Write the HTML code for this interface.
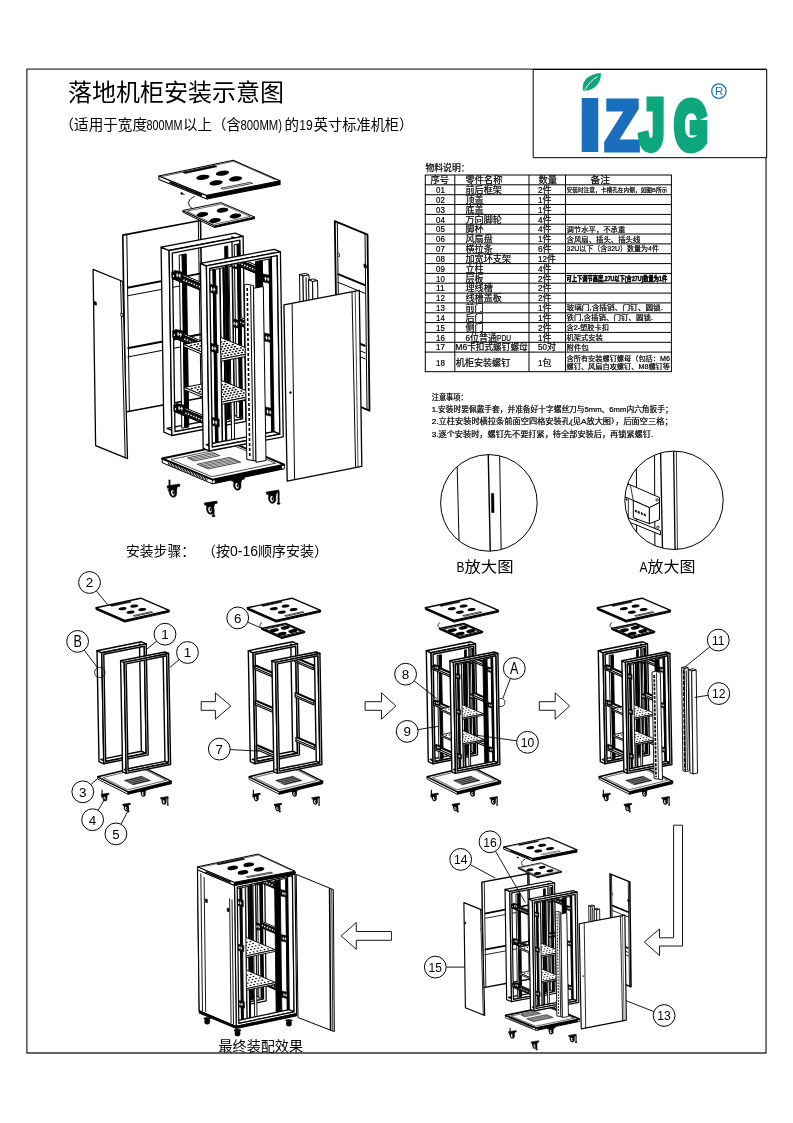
<!DOCTYPE html>
<html lang="zh-CN"><head><meta charset="utf-8"><title>落地机柜安装示意图</title>
<style>html,body{margin:0;padding:0;background:#fff}svg{display:block;will-change:transform}text{font-family:"Liberation Sans","Noto Sans CJK SC",sans-serif}</style>
</head><body>
<svg width="793" height="1123" viewBox="0 0 793 1123" stroke-linejoin="round" stroke-linecap="butt">
<rect x="26.85" y="69.2" width="739.2" height="983.8" fill="none" stroke="#333" stroke-width="1.3"/>
<text x="68" y="101" font-size="24" textLength="216" lengthAdjust="spacingAndGlyphs" fill="#000" >落地机柜安装示意图</text>
<text x="59.5" y="130.2" font-size="14.5" textLength="87.5" lengthAdjust="spacingAndGlyphs" fill="#000" >（适用于宽度</text>
<text x="146.5" y="130.2" font-size="14.5" textLength="36" lengthAdjust="spacingAndGlyphs" fill="#000" >800MM</text>
<text x="183" y="130.2" font-size="14.5" textLength="58" lengthAdjust="spacingAndGlyphs" fill="#000" >以上（含</text>
<text x="240.5" y="130.2" font-size="14.5" textLength="41.5" lengthAdjust="spacingAndGlyphs" fill="#000" >800MM)</text>
<text x="284.5" y="130.2" font-size="14.5" textLength="14.5" lengthAdjust="spacingAndGlyphs" fill="#000" >的</text>
<text x="299.3" y="130.2" font-size="14.5" textLength="13.5" lengthAdjust="spacingAndGlyphs" fill="#000" >19</text>
<text x="313.8" y="130.2" font-size="14.5" textLength="99.5" lengthAdjust="spacingAndGlyphs" fill="#000" >英寸标准机柜）</text>
<rect x="533.2" y="69.5" width="233.5" height="88.2" fill="#fff" stroke="#000" stroke-width="1"/>
<path d="M583.2,90.8 C580.5,80.5 589.5,73.6 600.9,72.9 C601.3,83.5 594,91 583.2,90.8 Z" fill="#0ea67c" stroke="none" stroke-width="1" />
<path d="M584.8,89.8 C588.5,83.5 592.5,79.5 597.5,76.5" fill="none" stroke="#fff" stroke-width="1" />
<text x="578.5" y="150.2" font-size="72" textLength="23" lengthAdjust="spacingAndGlyphs" fill="#1a6fbd" font-weight="bold" font-family="DejaVu Sans,Liberation Sans,sans-serif" stroke-linejoin="miter" stroke="#1a6fbd" stroke-width="4">I</text>
<text x="604.5" y="150" font-size="71" textLength="35" lengthAdjust="spacingAndGlyphs" fill="#1a6fbd" font-weight="bold" font-family="DejaVu Sans,Liberation Sans,sans-serif" stroke-linejoin="miter" stroke="#1a6fbd" stroke-width="5">Z</text>
<text x="639.5" y="149.4" font-size="70" textLength="25" lengthAdjust="spacingAndGlyphs" fill="#0ea67c" font-weight="bold" font-family="Liberation Sans,sans-serif" stroke-linejoin="miter" stroke="#0ea67c" stroke-width="7">J</text>
<text x="674.5" y="149" font-size="68" textLength="33" lengthAdjust="spacingAndGlyphs" fill="#0ea67c" font-weight="bold" font-family="Liberation Sans,sans-serif" stroke-linejoin="miter" stroke="#0ea67c" stroke-width="8">G</text>
<circle cx="718.9" cy="91.1" r="7.2" fill="none" stroke="#1a6fbd" stroke-width="1.3"/>
<text x="719.1" y="95.3" font-size="11.5" text-anchor="middle" fill="#1a6fbd" >R</text>
<text x="425.5" y="171" font-size="9.2" textLength="44" lengthAdjust="spacingAndGlyphs" fill="#000"  stroke="#000" stroke-width="0.22">物料说明：</text>
<line x1="424.8" y1="175" x2="671.9" y2="175" stroke="#000" stroke-width="1"/>
<line x1="424.8" y1="184.8" x2="671.9" y2="184.8" stroke="#000" stroke-width="1"/>
<line x1="424.8" y1="194.7" x2="671.9" y2="194.7" stroke="#000" stroke-width="1"/>
<line x1="424.8" y1="204.5" x2="671.9" y2="204.5" stroke="#000" stroke-width="1"/>
<line x1="424.8" y1="214.4" x2="671.9" y2="214.4" stroke="#000" stroke-width="1"/>
<line x1="424.8" y1="224.2" x2="671.9" y2="224.2" stroke="#000" stroke-width="1"/>
<line x1="424.8" y1="234" x2="671.9" y2="234" stroke="#000" stroke-width="1"/>
<line x1="424.8" y1="243.9" x2="671.9" y2="243.9" stroke="#000" stroke-width="1"/>
<line x1="424.8" y1="253.7" x2="671.9" y2="253.7" stroke="#000" stroke-width="1"/>
<line x1="424.8" y1="263.6" x2="671.9" y2="263.6" stroke="#000" stroke-width="1"/>
<line x1="424.8" y1="273.4" x2="671.9" y2="273.4" stroke="#000" stroke-width="1"/>
<line x1="424.8" y1="283.2" x2="671.9" y2="283.2" stroke="#000" stroke-width="1"/>
<line x1="424.8" y1="293.1" x2="671.9" y2="293.1" stroke="#000" stroke-width="1"/>
<line x1="424.8" y1="302.9" x2="671.9" y2="302.9" stroke="#000" stroke-width="1"/>
<line x1="424.8" y1="312.8" x2="671.9" y2="312.8" stroke="#000" stroke-width="1"/>
<line x1="424.8" y1="322.6" x2="671.9" y2="322.6" stroke="#000" stroke-width="1"/>
<line x1="424.8" y1="332.4" x2="671.9" y2="332.4" stroke="#000" stroke-width="1"/>
<line x1="424.8" y1="342.3" x2="671.9" y2="342.3" stroke="#000" stroke-width="1"/>
<line x1="424.8" y1="352.1" x2="671.9" y2="352.1" stroke="#000" stroke-width="1"/>
<line x1="424.8" y1="371.7" x2="671.9" y2="371.7" stroke="#000" stroke-width="1"/>
<line x1="425.3" y1="175" x2="425.3" y2="371.7" stroke="#000" stroke-width="1"/>
<line x1="454.8" y1="175" x2="454.8" y2="371.7" stroke="#000" stroke-width="1"/>
<line x1="529" y1="175" x2="529" y2="371.7" stroke="#000" stroke-width="1"/>
<line x1="565.5" y1="175" x2="565.5" y2="371.7" stroke="#000" stroke-width="1"/>
<line x1="671.4" y1="175" x2="671.4" y2="371.7" stroke="#000" stroke-width="1"/>
<text x="430.5" y="183.2" font-size="9.3" textLength="18.5" lengthAdjust="spacingAndGlyphs" fill="#000"  stroke="#000" stroke-width="0.22">序号</text>
<text x="465.5" y="183.2" font-size="9.3" textLength="37" lengthAdjust="spacingAndGlyphs" fill="#000"  stroke="#000" stroke-width="0.22">零件名称</text>
<text x="538.5" y="183.2" font-size="9.3" textLength="18.5" lengthAdjust="spacingAndGlyphs" fill="#000"  stroke="#000" stroke-width="0.22">数量</text>
<text x="590.5" y="183.2" font-size="9.3" textLength="19.5" lengthAdjust="spacingAndGlyphs" fill="#000"  stroke="#000" stroke-width="0.22">备注</text>
<text x="436" y="192.9" font-size="9" textLength="8.8" lengthAdjust="spacingAndGlyphs" fill="#000"  stroke="#000" stroke-width="0.22">01</text>
<text x="465.5" y="192.9" font-size="9" textLength="36.4" lengthAdjust="spacingAndGlyphs" fill="#000"  stroke="#000" stroke-width="0.22">前后框架</text>
<text x="538" y="192.9" font-size="9" textLength="4.6" lengthAdjust="spacingAndGlyphs" fill="#000"  stroke="#000" stroke-width="0.22">2</text>
<text x="542.5" y="192.9" font-size="9" textLength="9" lengthAdjust="spacingAndGlyphs" fill="#000"  stroke="#000" stroke-width="0.22">件</text>
<text x="566.5" y="192.3" font-size="6" textLength="100.8" lengthAdjust="spacingAndGlyphs" fill="#000"  stroke="#000" stroke-width="0.22">安装时注意，卡槽孔在内侧，如图B所示</text>
<text x="436" y="202.8" font-size="9" textLength="8.8" lengthAdjust="spacingAndGlyphs" fill="#000"  stroke="#000" stroke-width="0.22">02</text>
<text x="465.5" y="202.8" font-size="9" textLength="18.2" lengthAdjust="spacingAndGlyphs" fill="#000"  stroke="#000" stroke-width="0.22">顶盖</text>
<text x="538" y="202.8" font-size="9" textLength="4.6" lengthAdjust="spacingAndGlyphs" fill="#000"  stroke="#000" stroke-width="0.22">1</text>
<text x="542.5" y="202.8" font-size="9" textLength="9" lengthAdjust="spacingAndGlyphs" fill="#000"  stroke="#000" stroke-width="0.22">件</text>
<text x="436" y="212.6" font-size="9" textLength="8.8" lengthAdjust="spacingAndGlyphs" fill="#000"  stroke="#000" stroke-width="0.22">03</text>
<text x="465.5" y="212.6" font-size="9" textLength="18.2" lengthAdjust="spacingAndGlyphs" fill="#000"  stroke="#000" stroke-width="0.22">底盖</text>
<text x="538" y="212.6" font-size="9" textLength="4.6" lengthAdjust="spacingAndGlyphs" fill="#000"  stroke="#000" stroke-width="0.22">1</text>
<text x="542.5" y="212.6" font-size="9" textLength="9" lengthAdjust="spacingAndGlyphs" fill="#000"  stroke="#000" stroke-width="0.22">件</text>
<text x="436" y="222.5" font-size="9" textLength="8.8" lengthAdjust="spacingAndGlyphs" fill="#000"  stroke="#000" stroke-width="0.22">04</text>
<text x="465.5" y="222.5" font-size="9" textLength="36.4" lengthAdjust="spacingAndGlyphs" fill="#000"  stroke="#000" stroke-width="0.22">万向脚轮</text>
<text x="538" y="222.5" font-size="9" textLength="4.6" lengthAdjust="spacingAndGlyphs" fill="#000"  stroke="#000" stroke-width="0.22">4</text>
<text x="542.5" y="222.5" font-size="9" textLength="9" lengthAdjust="spacingAndGlyphs" fill="#000"  stroke="#000" stroke-width="0.22">件</text>
<text x="436" y="232.3" font-size="9" textLength="8.8" lengthAdjust="spacingAndGlyphs" fill="#000"  stroke="#000" stroke-width="0.22">05</text>
<text x="465.5" y="232.3" font-size="9" textLength="18.2" lengthAdjust="spacingAndGlyphs" fill="#000"  stroke="#000" stroke-width="0.22">脚杯</text>
<text x="538" y="232.3" font-size="9" textLength="4.6" lengthAdjust="spacingAndGlyphs" fill="#000"  stroke="#000" stroke-width="0.22">4</text>
<text x="542.5" y="232.3" font-size="9" textLength="9" lengthAdjust="spacingAndGlyphs" fill="#000"  stroke="#000" stroke-width="0.22">件</text>
<text x="566.5" y="231.7" font-size="7.4" textLength="58.8" lengthAdjust="spacingAndGlyphs" fill="#000"  stroke="#000" stroke-width="0.22">调节水平，不承重</text>
<text x="436" y="242.1" font-size="9" textLength="8.8" lengthAdjust="spacingAndGlyphs" fill="#000"  stroke="#000" stroke-width="0.22">06</text>
<text x="465.5" y="242.1" font-size="9" textLength="27.3" lengthAdjust="spacingAndGlyphs" fill="#000"  stroke="#000" stroke-width="0.22">风扇盘</text>
<text x="538" y="242.1" font-size="9" textLength="4.6" lengthAdjust="spacingAndGlyphs" fill="#000"  stroke="#000" stroke-width="0.22">1</text>
<text x="542.5" y="242.1" font-size="9" textLength="9" lengthAdjust="spacingAndGlyphs" fill="#000"  stroke="#000" stroke-width="0.22">件</text>
<text x="566.5" y="241.5" font-size="7.4" textLength="73.8" lengthAdjust="spacingAndGlyphs" fill="#000"  stroke="#000" stroke-width="0.22">含风扇、插头、插头线</text>
<text x="436" y="252" font-size="9" textLength="8.8" lengthAdjust="spacingAndGlyphs" fill="#000"  stroke="#000" stroke-width="0.22">07</text>
<text x="465.5" y="252" font-size="9" textLength="27.3" lengthAdjust="spacingAndGlyphs" fill="#000"  stroke="#000" stroke-width="0.22">横拉条</text>
<text x="538" y="252" font-size="9" textLength="4.6" lengthAdjust="spacingAndGlyphs" fill="#000"  stroke="#000" stroke-width="0.22">6</text>
<text x="542.5" y="252" font-size="9" textLength="9" lengthAdjust="spacingAndGlyphs" fill="#000"  stroke="#000" stroke-width="0.22">件</text>
<text x="566.5" y="251.4" font-size="7.4" textLength="92.4" lengthAdjust="spacingAndGlyphs" fill="#000"  stroke="#000" stroke-width="0.22">32U以下（含32U）数量为4件</text>
<text x="436" y="261.8" font-size="9" textLength="8.8" lengthAdjust="spacingAndGlyphs" fill="#000"  stroke="#000" stroke-width="0.22">08</text>
<text x="465.5" y="261.8" font-size="9" textLength="45.5" lengthAdjust="spacingAndGlyphs" fill="#000"  stroke="#000" stroke-width="0.22">加宽环支架</text>
<text x="538" y="261.8" font-size="9" textLength="9" lengthAdjust="spacingAndGlyphs" fill="#000"  stroke="#000" stroke-width="0.22">12</text>
<text x="547" y="261.8" font-size="9" textLength="9" lengthAdjust="spacingAndGlyphs" fill="#000"  stroke="#000" stroke-width="0.22">件</text>
<text x="436" y="271.7" font-size="9" textLength="8.8" lengthAdjust="spacingAndGlyphs" fill="#000"  stroke="#000" stroke-width="0.22">09</text>
<text x="465.5" y="271.7" font-size="9" textLength="18.2" lengthAdjust="spacingAndGlyphs" fill="#000"  stroke="#000" stroke-width="0.22">立柱</text>
<text x="538" y="271.7" font-size="9" textLength="4.6" lengthAdjust="spacingAndGlyphs" fill="#000"  stroke="#000" stroke-width="0.22">4</text>
<text x="542.5" y="271.7" font-size="9" textLength="9" lengthAdjust="spacingAndGlyphs" fill="#000"  stroke="#000" stroke-width="0.22">件</text>
<text x="436" y="281.5" font-size="9" textLength="8.8" lengthAdjust="spacingAndGlyphs" fill="#000"  stroke="#000" stroke-width="0.22">10</text>
<text x="465.5" y="281.5" font-size="9" textLength="18.2" lengthAdjust="spacingAndGlyphs" fill="#000"  stroke="#000" stroke-width="0.22">层板</text>
<text x="538" y="281.5" font-size="9" textLength="4.6" lengthAdjust="spacingAndGlyphs" fill="#000"  stroke="#000" stroke-width="0.22">2</text>
<text x="542.5" y="281.5" font-size="9" textLength="9" lengthAdjust="spacingAndGlyphs" fill="#000"  stroke="#000" stroke-width="0.22">件</text>
<text x="566.5" y="280.9" font-size="7.2" textLength="100.7" lengthAdjust="spacingAndGlyphs" font-weight="bold" fill="#000" stroke="#000" stroke-width="0.5">可上下调节高度,27U以下(含27U)数量为1件</text>
<text x="436" y="291.3" font-size="9" textLength="8.8" lengthAdjust="spacingAndGlyphs" fill="#000"  stroke="#000" stroke-width="0.22">11</text>
<text x="465.5" y="291.3" font-size="9" textLength="27.3" lengthAdjust="spacingAndGlyphs" fill="#000"  stroke="#000" stroke-width="0.22">理线槽</text>
<text x="538" y="291.3" font-size="9" textLength="4.6" lengthAdjust="spacingAndGlyphs" fill="#000"  stroke="#000" stroke-width="0.22">2</text>
<text x="542.5" y="291.3" font-size="9" textLength="9" lengthAdjust="spacingAndGlyphs" fill="#000"  stroke="#000" stroke-width="0.22">件</text>
<text x="436" y="301.2" font-size="9" textLength="8.8" lengthAdjust="spacingAndGlyphs" fill="#000"  stroke="#000" stroke-width="0.22">12</text>
<text x="465.5" y="301.2" font-size="9" textLength="36.4" lengthAdjust="spacingAndGlyphs" fill="#000"  stroke="#000" stroke-width="0.22">线槽盖板</text>
<text x="538" y="301.2" font-size="9" textLength="4.6" lengthAdjust="spacingAndGlyphs" fill="#000"  stroke="#000" stroke-width="0.22">2</text>
<text x="542.5" y="301.2" font-size="9" textLength="9" lengthAdjust="spacingAndGlyphs" fill="#000"  stroke="#000" stroke-width="0.22">件</text>
<text x="436" y="311" font-size="9" textLength="8.8" lengthAdjust="spacingAndGlyphs" fill="#000"  stroke="#000" stroke-width="0.22">13</text>
<text x="465.5" y="311" font-size="9" textLength="18.2" lengthAdjust="spacingAndGlyphs" fill="#000"  stroke="#000" stroke-width="0.22">前门</text>
<text x="538" y="311" font-size="9" textLength="4.6" lengthAdjust="spacingAndGlyphs" fill="#000"  stroke="#000" stroke-width="0.22">1</text>
<text x="542.5" y="311" font-size="9" textLength="9" lengthAdjust="spacingAndGlyphs" fill="#000"  stroke="#000" stroke-width="0.22">件</text>
<text x="566.5" y="310.4" font-size="7.4" textLength="96.4" lengthAdjust="spacingAndGlyphs" fill="#000"  stroke="#000" stroke-width="0.22">玻璃门,含插销、门钉、圆锁.</text>
<text x="436" y="320.9" font-size="9" textLength="8.8" lengthAdjust="spacingAndGlyphs" fill="#000"  stroke="#000" stroke-width="0.22">14</text>
<text x="465.5" y="320.9" font-size="9" textLength="18.2" lengthAdjust="spacingAndGlyphs" fill="#000"  stroke="#000" stroke-width="0.22">后门</text>
<text x="538" y="320.9" font-size="9" textLength="4.6" lengthAdjust="spacingAndGlyphs" fill="#000"  stroke="#000" stroke-width="0.22">1</text>
<text x="542.5" y="320.9" font-size="9" textLength="9" lengthAdjust="spacingAndGlyphs" fill="#000"  stroke="#000" stroke-width="0.22">件</text>
<text x="566.5" y="320.3" font-size="7.4" textLength="86.5" lengthAdjust="spacingAndGlyphs" fill="#000"  stroke="#000" stroke-width="0.22">铁门,含插销、门钉、圆锁.</text>
<text x="436" y="330.7" font-size="9" textLength="8.8" lengthAdjust="spacingAndGlyphs" fill="#000"  stroke="#000" stroke-width="0.22">15</text>
<text x="465.5" y="330.7" font-size="9" textLength="18.2" lengthAdjust="spacingAndGlyphs" fill="#000"  stroke="#000" stroke-width="0.22">侧门</text>
<text x="538" y="330.7" font-size="9" textLength="4.6" lengthAdjust="spacingAndGlyphs" fill="#000"  stroke="#000" stroke-width="0.22">2</text>
<text x="542.5" y="330.7" font-size="9" textLength="9" lengthAdjust="spacingAndGlyphs" fill="#000"  stroke="#000" stroke-width="0.22">件</text>
<text x="566.5" y="330.1" font-size="7.4" textLength="42.4" lengthAdjust="spacingAndGlyphs" fill="#000"  stroke="#000" stroke-width="0.22">含2-塑胶卡扣</text>
<text x="436" y="340.5" font-size="9" textLength="8.8" lengthAdjust="spacingAndGlyphs" fill="#000"  stroke="#000" stroke-width="0.22">16</text>
<text x="465.5" y="340.5" font-size="9" textLength="4.5" lengthAdjust="spacingAndGlyphs" fill="#000"  stroke="#000" stroke-width="0.22">6</text>
<text x="470" y="340.5" font-size="9" textLength="27" lengthAdjust="spacingAndGlyphs" fill="#000"  stroke="#000" stroke-width="0.22">位普通</text>
<text x="497" y="340.5" font-size="9" textLength="14" lengthAdjust="spacingAndGlyphs" fill="#000"  stroke="#000" stroke-width="0.22">PDU</text>
<text x="538" y="340.5" font-size="9" textLength="4.6" lengthAdjust="spacingAndGlyphs" fill="#000"  stroke="#000" stroke-width="0.22">1</text>
<text x="542.5" y="340.5" font-size="9" textLength="9" lengthAdjust="spacingAndGlyphs" fill="#000"  stroke="#000" stroke-width="0.22">件</text>
<text x="566.5" y="339.9" font-size="7.4" textLength="36.4" lengthAdjust="spacingAndGlyphs" fill="#000"  stroke="#000" stroke-width="0.22">机架式安装</text>
<text x="436" y="350.4" font-size="9" textLength="8.8" lengthAdjust="spacingAndGlyphs" fill="#000"  stroke="#000" stroke-width="0.22">17</text>
<text x="455.2" y="350.4" font-size="9" textLength="72.5" lengthAdjust="spacingAndGlyphs" fill="#000"  stroke="#000" stroke-width="0.22">M6卡扣式螺钉螺母</text>
<text x="538" y="350.4" font-size="9" textLength="9" lengthAdjust="spacingAndGlyphs" fill="#000"  stroke="#000" stroke-width="0.22">50</text>
<text x="547" y="350.4" font-size="9" textLength="9" lengthAdjust="spacingAndGlyphs" fill="#000"  stroke="#000" stroke-width="0.22">对</text>
<text x="566.5" y="349.8" font-size="7.4" textLength="22.3" lengthAdjust="spacingAndGlyphs" fill="#000"  stroke="#000" stroke-width="0.22">附件包</text>
<text x="436" y="365.5" font-size="9" textLength="8.8" lengthAdjust="spacingAndGlyphs" fill="#000"  stroke="#000" stroke-width="0.22">18</text>
<text x="455.8" y="365.5" font-size="9.3" textLength="54.5" lengthAdjust="spacingAndGlyphs" fill="#000"  stroke="#000" stroke-width="0.22">机柜安装螺钉</text>
<text x="538" y="365.5" font-size="9" textLength="4.5" lengthAdjust="spacingAndGlyphs" fill="#000"  stroke="#000" stroke-width="0.22">1</text>
<text x="542.5" y="365.5" font-size="9" textLength="9" lengthAdjust="spacingAndGlyphs" fill="#000"  stroke="#000" stroke-width="0.22">包</text>
<text x="566.5" y="360.6" font-size="7.2" textLength="103.5" lengthAdjust="spacingAndGlyphs" fill="#000"  stroke="#000" stroke-width="0.22">含所有安装螺钉螺母（包括：M6</text>
<text x="566.5" y="369.4" font-size="7.2" textLength="103.5" lengthAdjust="spacingAndGlyphs" fill="#000"  stroke="#000" stroke-width="0.22">螺钉、风扇自攻螺钉、M8螺钉等</text>
<text x="431.7" y="400.4" font-size="7.6" textLength="36" lengthAdjust="spacingAndGlyphs" fill="#000"  stroke="#000" stroke-width="0.22">注意事项：</text>
<text x="431.7" y="411.8" font-size="7.6" textLength="241" lengthAdjust="spacingAndGlyphs" fill="#000"  stroke="#000" stroke-width="0.22">1.安装时要佩戴手套，并准备好十字螺丝刀与5mm、6mm内六角扳手；</text>
<text x="431.7" y="424.2" font-size="7.6" textLength="241" lengthAdjust="spacingAndGlyphs" fill="#000"  stroke="#000" stroke-width="0.22">2.立柱安装时横拉条前面空四格安装孔(见A放大图），后面空三格；</text>
<text x="431.7" y="436.7" font-size="7.6" textLength="221.5" lengthAdjust="spacingAndGlyphs" fill="#000"  stroke="#000" stroke-width="0.22">3.逐个安装时，螺钉先不要打紧，待全部安装后，再锁紧螺钉.</text>
<text x="126" y="555.5" font-size="14" textLength="69" lengthAdjust="spacingAndGlyphs" fill="#000" >安装步骤：</text>
<text x="202" y="555.5" font-size="14" textLength="28" lengthAdjust="spacingAndGlyphs" fill="#000" >（按</text>
<text x="230" y="555.5" font-size="14" textLength="28" lengthAdjust="spacingAndGlyphs" fill="#000" >0-16</text>
<text x="258" y="555.5" font-size="14" textLength="70" lengthAdjust="spacingAndGlyphs" fill="#000" >顺序安装）</text>
<text x="456.5" y="571.5" font-size="15" textLength="8" lengthAdjust="spacingAndGlyphs" fill="#000" >B</text>
<text x="464.5" y="571.5" font-size="15" textLength="49" lengthAdjust="spacingAndGlyphs" fill="#000" >放大图</text>
<text x="639.5" y="571.5" font-size="15" textLength="8" lengthAdjust="spacingAndGlyphs" fill="#000" >A</text>
<text x="647.5" y="571.5" font-size="15" textLength="48" lengthAdjust="spacingAndGlyphs" fill="#000" >放大图</text>
<text x="218.5" y="1050.5" font-size="14" textLength="84.5" lengthAdjust="spacingAndGlyphs" fill="#000" >最终装配效果</text>
<g id="maindraw">
<polygon points="122.8,235.1 200.5,220.5 203.2,397.5 125.5,412" fill="#fff" stroke="#000" stroke-width="1.6" />
<line x1="126.8" y1="234.4" x2="129.4" y2="411.3" stroke="#000" stroke-width="1"/>
<line x1="198.3" y1="221" x2="201" y2="398" stroke="#000" stroke-width="1"/>
<line x1="127.5" y1="287.8" x2="201" y2="273.4" stroke="#000" stroke-width="1.9"/>
<line x1="127.5" y1="295.8" x2="201" y2="282" stroke="#000" stroke-width="1"/>
<line x1="127.5" y1="348.2" x2="201" y2="334.2" stroke="#000" stroke-width="1.9"/>
<line x1="127.5" y1="357" x2="201" y2="343" stroke="#000" stroke-width="1"/>
<polygon points="334.8,221.1 367.5,234.6 369.5,410.7 337.5,397.5" fill="#fff" stroke="#000" stroke-width="1.8" />
<line x1="337.3" y1="223" x2="339.8" y2="398" stroke="#000" stroke-width="1"/>
<line x1="365" y1="234" x2="367" y2="409.5" stroke="#000" stroke-width="1"/>
<line x1="337.5" y1="273.9" x2="365.5" y2="285.4" stroke="#000" stroke-width="2"/>
<line x1="337.5" y1="282.1" x2="365.5" y2="293.6" stroke="#000" stroke-width="1"/>
<line x1="337.5" y1="334.5" x2="365.5" y2="346" stroke="#000" stroke-width="2"/>
<line x1="337.5" y1="341.5" x2="365.5" y2="353" stroke="#000" stroke-width="1"/>
<line x1="337.5" y1="347.5" x2="365.5" y2="359" stroke="#000" stroke-width="1"/>
<polygon points="337.5,252.8 339.5,253.6 339.5,256.6 337.5,255.8" fill="#fff" stroke="#000" stroke-width="0.8" />
<polygon points="364,264 366.3,265 366.3,268.2 364,267.2" fill="#000" stroke="#000" stroke-width="0.8" />
<polygon points="299.5,274.5 305.5,273.4 309,274.8 303,276" fill="#fff" stroke="#000" stroke-width="1" />
<polygon points="299.5,274.5 303,276 303.6,316 300.1,314.5" fill="#fff" stroke="#000" stroke-width="1" />
<polygon points="303,276 309,274.8 309.6,314.8 303.6,316" fill="#fff" stroke="#000" stroke-width="1" />
<line x1="306" y1="277.4" x2="306.6" y2="315.4" stroke="#000" stroke-width="1"/>
<polygon points="308.6,279.8 313.6,278.9 317.6,280.6 312.6,281.5" fill="#fff" stroke="#000" stroke-width="1" />
<polygon points="308.6,279.8 312.6,281.5 313.1,317.5 309.1,315.8" fill="#fff" stroke="#000" stroke-width="1" />
<polygon points="312.6,281.5 317.6,280.6 318.1,316.6 313.1,317.5" fill="#fff" stroke="#000" stroke-width="1" />
<polygon points="158.9,176 206.8,195.4 206.9,199 159,179.6" fill="#fff" stroke="#000" stroke-width="1.1" />
<line x1="169.4" y1="182.1" x2="202" y2="195.3" stroke="#000" stroke-width="2"/>
<polygon points="206.8,195.4 280,180.8 280.1,184.4 206.9,199" fill="#000" stroke="#000" stroke-width="1.1" />
<polygon points="158.9,176 233.2,160.2 280,180.8 206.8,195.4" fill="#fff" stroke="#000" stroke-width="1.1" />
<polyline points="162.3,176.5 233.6,161.3 275.3,179.7" fill="none" stroke="#000" stroke-width="0.6" />
<ellipse cx="202.9" cy="177.3" rx="6.7" ry="2.5" fill="#000" stroke="none" stroke-width="1" transform="rotate(-8 202.9 177.3)"/>
<ellipse cx="222.5" cy="173.2" rx="6.7" ry="2.5" fill="#000" stroke="none" stroke-width="1" transform="rotate(-8 222.5 173.2)"/>
<ellipse cx="216.1" cy="182.8" rx="6.7" ry="2.5" fill="#000" stroke="none" stroke-width="1" transform="rotate(-8 216.1 182.8)"/>
<ellipse cx="235.6" cy="178.8" rx="6.7" ry="2.5" fill="#000" stroke="none" stroke-width="1" transform="rotate(-8 235.6 178.8)"/>
<polygon points="182.8,172.4 214.8,165.6 217.1,166.7 185.2,173.4" fill="#000" stroke="#000" stroke-width="0.6" />
<polygon points="220.9,188.2 250.2,182.3 252.6,183.3 223.3,189.2" fill="#fff" stroke="#000" stroke-width="0.7" />
<path d="M181.6,193.4 L184.5,194.6 M194.5,196.5 C189,199 187,203 190,206.5 C191.5,208.5 193,209 194.5,210" fill="none" stroke="#000" stroke-width="1" />
<circle cx="181.6" cy="193.4" r="1" fill="#000" stroke="#000" stroke-width="0.5"/>
<polygon points="182.9,210.5 214.6,225.9 214.6,227.5 182.9,212.1" fill="#fff" stroke="#000" stroke-width="1" />
<polygon points="214.6,225.9 254.6,217 254.6,218.6 214.6,227.5" fill="#000" stroke="#000" stroke-width="1" />
<polygon points="182.9,210.5 220.9,202.6 254.6,217 214.6,225.9" fill="#fff" stroke="#000" stroke-width="1" />
<polygon points="187,211.2 221.4,204 250.2,216.4 214.4,224.4" fill="none" stroke="#000" stroke-width="0.6" />
<ellipse cx="202.4" cy="214.5" rx="5.9" ry="2.4" fill="#000" stroke="none" stroke-width="1" transform="rotate(-8 202.4 214.5)"/>
<ellipse cx="222.5" cy="210.2" rx="5.9" ry="2.4" fill="#000" stroke="none" stroke-width="1" transform="rotate(-8 222.5 210.2)"/>
<ellipse cx="214.9" cy="220.5" rx="5.9" ry="2.4" fill="#000" stroke="none" stroke-width="1" transform="rotate(-8 214.9 220.5)"/>
<ellipse cx="235.4" cy="216" rx="5.9" ry="2.4" fill="#000" stroke="none" stroke-width="1" transform="rotate(-8 235.4 216)"/>
<polygon points="162.1,458.5 212.5,479.7 212.6,483.9 162.2,462.7" fill="#fff" stroke="#000" stroke-width="1" />
<polygon points="212.5,479.7 284.2,464.6 284.3,468.8 212.6,483.9" fill="#000" stroke="#000" stroke-width="1" />
<line x1="168.1" y1="463.4" x2="207.5" y2="479.9" stroke="#000" stroke-width="2.6" stroke-dasharray="0.9 0.7"/>
<polygon points="212.5,480.1 215,479.6 215,483 212.5,483.5" fill="#fff" stroke="#000" stroke-width="0.4" />
<polygon points="281.7,465.5 284.2,465 284.2,468.4 281.7,468.9" fill="#fff" stroke="#000" stroke-width="0.4" />
<polygon points="162.1,458.5 233.8,443.4 284.2,464.6 212.5,479.7" fill="#fff" stroke="#000" stroke-width="1.9" />
<polygon points="170.9,459.5 234.8,446.1 275.6,463.2 211.8,476.7" fill="none" stroke="#000" stroke-width="0.7" />
<polygon points="187.6,457.9 212.7,452.6 219.7,455.6 194.6,460.9" fill="#fff" stroke="#000" stroke-width="0.7" />
<line x1="189.9" y1="458.9" x2="215" y2="453.6" stroke="#000" stroke-width="0.6"/>
<line x1="192.3" y1="459.9" x2="217.4" y2="454.6" stroke="#000" stroke-width="0.6"/>
<polygon points="197.1,464.2 229.4,457.4 240.7,462.1 208.4,468.9" fill="#fff" stroke="#000" stroke-width="0.7" />
<line x1="199.4" y1="465.1" x2="231.6" y2="458.3" stroke="#000" stroke-width="0.6"/>
<line x1="201.6" y1="466.1" x2="233.9" y2="459.3" stroke="#000" stroke-width="0.6"/>
<line x1="203.9" y1="467" x2="236.2" y2="460.2" stroke="#000" stroke-width="0.6"/>
<line x1="206.2" y1="468" x2="238.4" y2="461.2" stroke="#000" stroke-width="0.6"/>
<polygon points="161.1,247.2 169.1,250.5 171.9,435.5 163.9,432.2" fill="#fff" stroke="#000" stroke-width="1.3" />
<polygon points="161.1,247.2 235.1,233.1 243.1,236.4 169.1,250.5" fill="#fff" stroke="#000" stroke-width="1.3" />
<polygon points="231.9,236.9 239.9,240.2 242.6,418.8 234.6,415.5" fill="#fff" stroke="#000" stroke-width="1.3" />
<polygon points="167,428.4 234.6,415.5 242.6,418.8 175,431.7" fill="#fff" stroke="#000" stroke-width="1.3" />
<path d="M169.1,250.5 L243.1,236.4 L245.9,421.4 L171.9,435.5 Z M172.3,253.1 L239.9,240.2 L242.6,418.8 L175,431.7 Z" fill="#fff" stroke="#000" stroke-width="1.3" fill-rule="evenodd"/>
<polygon points="224.7,246.6 227.7,246 230.3,419 227.3,419.6" fill="#000" stroke="#000" stroke-width="1" />
<polygon points="234.2,244.7 237.2,244.2 239.8,417.2 236.8,417.7" fill="#fff" stroke="#000" stroke-width="1" />
<polygon points="237.2,244.2 239.2,243.8 241.8,416.8 239.8,417.2" fill="#000" stroke="#000" stroke-width="1" />
<polygon points="237.9,259.5 240.9,258.9 272.2,271.8 269.2,272.4" fill="#fff" stroke="#000" stroke-width="1" />
<polygon points="237.9,259.5 269.2,272.4 269.3,278.9 238,266" fill="#111" stroke="#000" stroke-width="1" />
<line x1="239" y1="263.1" x2="268.3" y2="275.2" stroke="#fff" stroke-width="1.5" stroke-dasharray="1.3 1.5"/>
<polygon points="238.8,318.5 241.8,317.9 273.1,330.8 270.1,331.4" fill="#fff" stroke="#000" stroke-width="1" />
<polygon points="238.8,318.5 270.1,331.4 270.2,337.9 238.9,325" fill="#111" stroke="#000" stroke-width="1" />
<line x1="239.9" y1="322.1" x2="269.2" y2="334.2" stroke="#fff" stroke-width="1.5" stroke-dasharray="1.3 1.5"/>
<polygon points="239.9,392.5 242.9,391.9 274.2,404.8 271.2,405.4" fill="#fff" stroke="#000" stroke-width="1" />
<polygon points="239.9,392.5 271.2,405.4 271.3,411.9 240,399" fill="#111" stroke="#000" stroke-width="1" />
<line x1="241" y1="396.1" x2="270.3" y2="408.2" stroke="#fff" stroke-width="1.5" stroke-dasharray="1.3 1.5"/>
<polygon points="179.2,255.2 182.2,254.6 184.8,427.6 181.8,428.2" fill="#fff" stroke="#000" stroke-width="1" />
<polygon points="182.2,254.6 186.2,253.9 188.8,426.9 184.8,427.6" fill="#000" stroke="#000" stroke-width="1" />
<polygon points="230.5,259.6 239,261.6 239,269.6 230.5,267.6" fill="#000" stroke="#000" stroke-width="0.5" />
<line x1="233.2" y1="262.6" x2="233.2" y2="266.4" stroke="#fff" stroke-width="1"/>
<line x1="235.8" y1="263.1" x2="235.8" y2="267" stroke="#fff" stroke-width="1"/>
<line x1="232.1" y1="264.3" x2="237.1" y2="265.2" stroke="#fff" stroke-width="0.8"/>
<polygon points="231.4,318.6 239.9,320.6 239.9,328.6 231.4,326.6" fill="#000" stroke="#000" stroke-width="0.5" />
<line x1="234.1" y1="321.6" x2="234.1" y2="325.4" stroke="#fff" stroke-width="1"/>
<line x1="236.7" y1="322.1" x2="236.7" y2="326" stroke="#fff" stroke-width="1"/>
<line x1="233" y1="323.3" x2="238" y2="324.2" stroke="#fff" stroke-width="0.8"/>
<polygon points="232.5,392.6 241,394.6 241,402.6 232.5,400.6" fill="#000" stroke="#000" stroke-width="0.5" />
<line x1="235.2" y1="395.6" x2="235.2" y2="399.4" stroke="#fff" stroke-width="1"/>
<line x1="237.8" y1="396.1" x2="237.8" y2="400" stroke="#fff" stroke-width="1"/>
<line x1="234.1" y1="397.3" x2="239.1" y2="398.2" stroke="#fff" stroke-width="0.8"/>
<polygon points="171.9,272 174.9,271.5 206.2,284.3 203.2,284.9" fill="#fff" stroke="#000" stroke-width="1" />
<polygon points="171.9,272 203.2,284.9 203.3,291.4 172,278.5" fill="#111" stroke="#000" stroke-width="1" />
<line x1="173" y1="275.7" x2="202.3" y2="287.8" stroke="#fff" stroke-width="1.5" stroke-dasharray="1.3 1.5"/>
<polygon points="172.8,331 175.8,330.5 207.1,343.3 204.1,343.9" fill="#fff" stroke="#000" stroke-width="1" />
<polygon points="172.8,331 204.1,343.9 204.2,350.4 172.9,337.5" fill="#111" stroke="#000" stroke-width="1" />
<line x1="173.9" y1="334.7" x2="203.2" y2="346.8" stroke="#fff" stroke-width="1.5" stroke-dasharray="1.3 1.5"/>
<polygon points="173.9,405 176.9,404.5 208.2,417.3 205.2,417.9" fill="#fff" stroke="#000" stroke-width="1" />
<polygon points="173.9,405 205.2,417.9 205.3,424.4 174,411.5" fill="#111" stroke="#000" stroke-width="1" />
<line x1="175" y1="408.7" x2="204.3" y2="420.8" stroke="#fff" stroke-width="1.5" stroke-dasharray="1.3 1.5"/>
<polygon points="174.5,270.2 183,272.2 183,280.2 174.5,278.2" fill="#000" stroke="#000" stroke-width="0.5" />
<line x1="177.2" y1="273.2" x2="177.2" y2="277" stroke="#fff" stroke-width="1"/>
<line x1="179.8" y1="273.7" x2="179.8" y2="277.6" stroke="#fff" stroke-width="1"/>
<line x1="176.1" y1="274.9" x2="181.1" y2="275.8" stroke="#fff" stroke-width="0.8"/>
<polygon points="175.4,329.2 183.9,331.2 183.9,339.2 175.4,337.2" fill="#000" stroke="#000" stroke-width="0.5" />
<line x1="178.1" y1="332.2" x2="178.1" y2="336" stroke="#fff" stroke-width="1"/>
<line x1="180.7" y1="332.7" x2="180.7" y2="336.6" stroke="#fff" stroke-width="1"/>
<line x1="177" y1="333.9" x2="182" y2="334.8" stroke="#fff" stroke-width="0.8"/>
<polygon points="176.5,403.2 185,405.2 185,413.2 176.5,411.2" fill="#000" stroke="#000" stroke-width="0.5" />
<line x1="179.2" y1="406.2" x2="179.2" y2="410" stroke="#fff" stroke-width="1"/>
<line x1="181.8" y1="406.7" x2="181.8" y2="410.6" stroke="#fff" stroke-width="1"/>
<line x1="178.1" y1="407.9" x2="183.1" y2="408.8" stroke="#fff" stroke-width="0.8"/>
<polygon points="255.5,261.7 262,260.4 264.6,433.4 258.1,434.7" fill="#000" stroke="#000" stroke-width="1" />
<polygon points="262.3,260.4 269,259.1 271.6,432.1 264.9,433.4" fill="#fff" stroke="#000" stroke-width="1" />
<polygon points="269.2,259 271.5,258.6 274.1,431.6 271.8,432" fill="#000" stroke="#000" stroke-width="1" />
<polygon points="220,268.4 223,267.8 225.6,440.8 222.6,441.4" fill="#fff" stroke="#000" stroke-width="1" />
<polygon points="223,267.8 224.2,267.6 226.8,440.6 225.6,440.8" fill="#000" stroke="#000" stroke-width="1" />
<polygon points="229,266.7 232,266.1 234.6,439.1 231.6,439.7" fill="#fff" stroke="#000" stroke-width="1" />
<polygon points="183.6,344.4 220.6,337.4 256.6,352.2 219.6,359.3" fill="#fff" stroke="#000" stroke-width="1" />
<polygon points="183.6,344.4 219.6,359.3 219.6,361.5 183.6,346.6" fill="#fff" stroke="#000" stroke-width="1" />
<polygon points="219.6,359.3 256.6,352.2 256.6,354.4 219.6,361.5" fill="#fff" stroke="#000" stroke-width="1" />
<ellipse cx="191.3" cy="345.4" rx="1.2" ry="0.7" fill="#000" stroke="none" stroke-width="1" transform="rotate(-10 191.3 345.4)"/>
<ellipse cx="197" cy="346.7" rx="1.2" ry="0.7" fill="#000" stroke="none" stroke-width="1" transform="rotate(-10 197 346.7)"/>
<ellipse cx="199.3" cy="348.7" rx="1.2" ry="0.7" fill="#000" stroke="none" stroke-width="1" transform="rotate(-10 199.3 348.7)"/>
<ellipse cx="205" cy="350" rx="1.2" ry="0.7" fill="#000" stroke="none" stroke-width="1" transform="rotate(-10 205 350)"/>
<ellipse cx="207.3" cy="352" rx="1.2" ry="0.7" fill="#000" stroke="none" stroke-width="1" transform="rotate(-10 207.3 352)"/>
<ellipse cx="213" cy="353.3" rx="1.2" ry="0.7" fill="#000" stroke="none" stroke-width="1" transform="rotate(-10 213 353.3)"/>
<ellipse cx="215.3" cy="355.2" rx="1.2" ry="0.7" fill="#000" stroke="none" stroke-width="1" transform="rotate(-10 215.3 355.2)"/>
<ellipse cx="221" cy="356.6" rx="1.2" ry="0.7" fill="#000" stroke="none" stroke-width="1" transform="rotate(-10 221 356.6)"/>
<ellipse cx="194.8" cy="344.7" rx="1.2" ry="0.7" fill="#000" stroke="none" stroke-width="1" transform="rotate(-10 194.8 344.7)"/>
<ellipse cx="200.5" cy="346" rx="1.2" ry="0.7" fill="#000" stroke="none" stroke-width="1" transform="rotate(-10 200.5 346)"/>
<ellipse cx="202.8" cy="348" rx="1.2" ry="0.7" fill="#000" stroke="none" stroke-width="1" transform="rotate(-10 202.8 348)"/>
<ellipse cx="208.5" cy="349.3" rx="1.2" ry="0.7" fill="#000" stroke="none" stroke-width="1" transform="rotate(-10 208.5 349.3)"/>
<ellipse cx="210.8" cy="351.3" rx="1.2" ry="0.7" fill="#000" stroke="none" stroke-width="1" transform="rotate(-10 210.8 351.3)"/>
<ellipse cx="216.5" cy="352.6" rx="1.2" ry="0.7" fill="#000" stroke="none" stroke-width="1" transform="rotate(-10 216.5 352.6)"/>
<ellipse cx="218.8" cy="354.6" rx="1.2" ry="0.7" fill="#000" stroke="none" stroke-width="1" transform="rotate(-10 218.8 354.6)"/>
<ellipse cx="224.5" cy="355.9" rx="1.2" ry="0.7" fill="#000" stroke="none" stroke-width="1" transform="rotate(-10 224.5 355.9)"/>
<ellipse cx="198.2" cy="344" rx="1.2" ry="0.7" fill="#000" stroke="none" stroke-width="1" transform="rotate(-10 198.2 344)"/>
<ellipse cx="204" cy="345.4" rx="1.2" ry="0.7" fill="#000" stroke="none" stroke-width="1" transform="rotate(-10 204 345.4)"/>
<ellipse cx="206.2" cy="347.3" rx="1.2" ry="0.7" fill="#000" stroke="none" stroke-width="1" transform="rotate(-10 206.2 347.3)"/>
<ellipse cx="212" cy="348.7" rx="1.2" ry="0.7" fill="#000" stroke="none" stroke-width="1" transform="rotate(-10 212 348.7)"/>
<ellipse cx="214.2" cy="350.6" rx="1.2" ry="0.7" fill="#000" stroke="none" stroke-width="1" transform="rotate(-10 214.2 350.6)"/>
<ellipse cx="220" cy="352" rx="1.2" ry="0.7" fill="#000" stroke="none" stroke-width="1" transform="rotate(-10 220 352)"/>
<ellipse cx="222.2" cy="353.9" rx="1.2" ry="0.7" fill="#000" stroke="none" stroke-width="1" transform="rotate(-10 222.2 353.9)"/>
<ellipse cx="228" cy="355.2" rx="1.2" ry="0.7" fill="#000" stroke="none" stroke-width="1" transform="rotate(-10 228 355.2)"/>
<ellipse cx="201.7" cy="343.4" rx="1.2" ry="0.7" fill="#000" stroke="none" stroke-width="1" transform="rotate(-10 201.7 343.4)"/>
<ellipse cx="207.4" cy="344.7" rx="1.2" ry="0.7" fill="#000" stroke="none" stroke-width="1" transform="rotate(-10 207.4 344.7)"/>
<ellipse cx="209.7" cy="346.7" rx="1.2" ry="0.7" fill="#000" stroke="none" stroke-width="1" transform="rotate(-10 209.7 346.7)"/>
<ellipse cx="215.4" cy="348" rx="1.2" ry="0.7" fill="#000" stroke="none" stroke-width="1" transform="rotate(-10 215.4 348)"/>
<ellipse cx="217.7" cy="350" rx="1.2" ry="0.7" fill="#000" stroke="none" stroke-width="1" transform="rotate(-10 217.7 350)"/>
<ellipse cx="223.4" cy="351.3" rx="1.2" ry="0.7" fill="#000" stroke="none" stroke-width="1" transform="rotate(-10 223.4 351.3)"/>
<ellipse cx="225.7" cy="353.3" rx="1.2" ry="0.7" fill="#000" stroke="none" stroke-width="1" transform="rotate(-10 225.7 353.3)"/>
<ellipse cx="231.4" cy="354.6" rx="1.2" ry="0.7" fill="#000" stroke="none" stroke-width="1" transform="rotate(-10 231.4 354.6)"/>
<ellipse cx="205.2" cy="342.7" rx="1.2" ry="0.7" fill="#000" stroke="none" stroke-width="1" transform="rotate(-10 205.2 342.7)"/>
<ellipse cx="210.9" cy="344" rx="1.2" ry="0.7" fill="#000" stroke="none" stroke-width="1" transform="rotate(-10 210.9 344)"/>
<ellipse cx="213.2" cy="346" rx="1.2" ry="0.7" fill="#000" stroke="none" stroke-width="1" transform="rotate(-10 213.2 346)"/>
<ellipse cx="218.9" cy="347.3" rx="1.2" ry="0.7" fill="#000" stroke="none" stroke-width="1" transform="rotate(-10 218.9 347.3)"/>
<ellipse cx="221.2" cy="349.3" rx="1.2" ry="0.7" fill="#000" stroke="none" stroke-width="1" transform="rotate(-10 221.2 349.3)"/>
<ellipse cx="226.9" cy="350.6" rx="1.2" ry="0.7" fill="#000" stroke="none" stroke-width="1" transform="rotate(-10 226.9 350.6)"/>
<ellipse cx="229.2" cy="352.6" rx="1.2" ry="0.7" fill="#000" stroke="none" stroke-width="1" transform="rotate(-10 229.2 352.6)"/>
<ellipse cx="234.9" cy="353.9" rx="1.2" ry="0.7" fill="#000" stroke="none" stroke-width="1" transform="rotate(-10 234.9 353.9)"/>
<ellipse cx="208.7" cy="342.1" rx="1.2" ry="0.7" fill="#000" stroke="none" stroke-width="1" transform="rotate(-10 208.7 342.1)"/>
<ellipse cx="214.4" cy="343.4" rx="1.2" ry="0.7" fill="#000" stroke="none" stroke-width="1" transform="rotate(-10 214.4 343.4)"/>
<ellipse cx="216.7" cy="345.4" rx="1.2" ry="0.7" fill="#000" stroke="none" stroke-width="1" transform="rotate(-10 216.7 345.4)"/>
<ellipse cx="222.4" cy="346.7" rx="1.2" ry="0.7" fill="#000" stroke="none" stroke-width="1" transform="rotate(-10 222.4 346.7)"/>
<ellipse cx="224.7" cy="348.7" rx="1.2" ry="0.7" fill="#000" stroke="none" stroke-width="1" transform="rotate(-10 224.7 348.7)"/>
<ellipse cx="230.4" cy="350" rx="1.2" ry="0.7" fill="#000" stroke="none" stroke-width="1" transform="rotate(-10 230.4 350)"/>
<ellipse cx="232.7" cy="351.9" rx="1.2" ry="0.7" fill="#000" stroke="none" stroke-width="1" transform="rotate(-10 232.7 351.9)"/>
<ellipse cx="238.4" cy="353.3" rx="1.2" ry="0.7" fill="#000" stroke="none" stroke-width="1" transform="rotate(-10 238.4 353.3)"/>
<ellipse cx="212.1" cy="341.4" rx="1.2" ry="0.7" fill="#000" stroke="none" stroke-width="1" transform="rotate(-10 212.1 341.4)"/>
<ellipse cx="217.9" cy="342.7" rx="1.2" ry="0.7" fill="#000" stroke="none" stroke-width="1" transform="rotate(-10 217.9 342.7)"/>
<ellipse cx="220.1" cy="344.7" rx="1.2" ry="0.7" fill="#000" stroke="none" stroke-width="1" transform="rotate(-10 220.1 344.7)"/>
<ellipse cx="225.9" cy="346" rx="1.2" ry="0.7" fill="#000" stroke="none" stroke-width="1" transform="rotate(-10 225.9 346)"/>
<ellipse cx="228.1" cy="348" rx="1.2" ry="0.7" fill="#000" stroke="none" stroke-width="1" transform="rotate(-10 228.1 348)"/>
<ellipse cx="233.9" cy="349.3" rx="1.2" ry="0.7" fill="#000" stroke="none" stroke-width="1" transform="rotate(-10 233.9 349.3)"/>
<ellipse cx="236.1" cy="351.3" rx="1.2" ry="0.7" fill="#000" stroke="none" stroke-width="1" transform="rotate(-10 236.1 351.3)"/>
<ellipse cx="241.9" cy="352.6" rx="1.2" ry="0.7" fill="#000" stroke="none" stroke-width="1" transform="rotate(-10 241.9 352.6)"/>
<ellipse cx="215.6" cy="340.7" rx="1.2" ry="0.7" fill="#000" stroke="none" stroke-width="1" transform="rotate(-10 215.6 340.7)"/>
<ellipse cx="221.3" cy="342.1" rx="1.2" ry="0.7" fill="#000" stroke="none" stroke-width="1" transform="rotate(-10 221.3 342.1)"/>
<ellipse cx="223.6" cy="344" rx="1.2" ry="0.7" fill="#000" stroke="none" stroke-width="1" transform="rotate(-10 223.6 344)"/>
<ellipse cx="229.3" cy="345.4" rx="1.2" ry="0.7" fill="#000" stroke="none" stroke-width="1" transform="rotate(-10 229.3 345.4)"/>
<ellipse cx="231.6" cy="347.3" rx="1.2" ry="0.7" fill="#000" stroke="none" stroke-width="1" transform="rotate(-10 231.6 347.3)"/>
<ellipse cx="237.3" cy="348.7" rx="1.2" ry="0.7" fill="#000" stroke="none" stroke-width="1" transform="rotate(-10 237.3 348.7)"/>
<ellipse cx="239.6" cy="350.6" rx="1.2" ry="0.7" fill="#000" stroke="none" stroke-width="1" transform="rotate(-10 239.6 350.6)"/>
<ellipse cx="245.3" cy="351.9" rx="1.2" ry="0.7" fill="#000" stroke="none" stroke-width="1" transform="rotate(-10 245.3 351.9)"/>
<ellipse cx="219.1" cy="340.1" rx="1.2" ry="0.7" fill="#000" stroke="none" stroke-width="1" transform="rotate(-10 219.1 340.1)"/>
<ellipse cx="224.8" cy="341.4" rx="1.2" ry="0.7" fill="#000" stroke="none" stroke-width="1" transform="rotate(-10 224.8 341.4)"/>
<ellipse cx="227.1" cy="343.4" rx="1.2" ry="0.7" fill="#000" stroke="none" stroke-width="1" transform="rotate(-10 227.1 343.4)"/>
<ellipse cx="232.8" cy="344.7" rx="1.2" ry="0.7" fill="#000" stroke="none" stroke-width="1" transform="rotate(-10 232.8 344.7)"/>
<ellipse cx="235.1" cy="346.7" rx="1.2" ry="0.7" fill="#000" stroke="none" stroke-width="1" transform="rotate(-10 235.1 346.7)"/>
<ellipse cx="240.8" cy="348" rx="1.2" ry="0.7" fill="#000" stroke="none" stroke-width="1" transform="rotate(-10 240.8 348)"/>
<ellipse cx="243.1" cy="350" rx="1.2" ry="0.7" fill="#000" stroke="none" stroke-width="1" transform="rotate(-10 243.1 350)"/>
<ellipse cx="248.8" cy="351.3" rx="1.2" ry="0.7" fill="#000" stroke="none" stroke-width="1" transform="rotate(-10 248.8 351.3)"/>
<polygon points="184.2,387.4 221.2,380.4 257.2,395.2 220.2,402.3" fill="#fff" stroke="#000" stroke-width="1" />
<polygon points="184.2,387.4 220.2,402.3 220.2,404.5 184.2,389.6" fill="#fff" stroke="#000" stroke-width="1" />
<polygon points="220.2,402.3 257.2,395.2 257.2,397.4 220.2,404.5" fill="#fff" stroke="#000" stroke-width="1" />
<ellipse cx="191.9" cy="388.4" rx="1.2" ry="0.7" fill="#000" stroke="none" stroke-width="1" transform="rotate(-10 191.9 388.4)"/>
<ellipse cx="197.7" cy="389.7" rx="1.2" ry="0.7" fill="#000" stroke="none" stroke-width="1" transform="rotate(-10 197.7 389.7)"/>
<ellipse cx="199.9" cy="391.7" rx="1.2" ry="0.7" fill="#000" stroke="none" stroke-width="1" transform="rotate(-10 199.9 391.7)"/>
<ellipse cx="205.7" cy="393" rx="1.2" ry="0.7" fill="#000" stroke="none" stroke-width="1" transform="rotate(-10 205.7 393)"/>
<ellipse cx="207.9" cy="395" rx="1.2" ry="0.7" fill="#000" stroke="none" stroke-width="1" transform="rotate(-10 207.9 395)"/>
<ellipse cx="213.7" cy="396.3" rx="1.2" ry="0.7" fill="#000" stroke="none" stroke-width="1" transform="rotate(-10 213.7 396.3)"/>
<ellipse cx="215.9" cy="398.2" rx="1.2" ry="0.7" fill="#000" stroke="none" stroke-width="1" transform="rotate(-10 215.9 398.2)"/>
<ellipse cx="221.7" cy="399.6" rx="1.2" ry="0.7" fill="#000" stroke="none" stroke-width="1" transform="rotate(-10 221.7 399.6)"/>
<ellipse cx="195.4" cy="387.7" rx="1.2" ry="0.7" fill="#000" stroke="none" stroke-width="1" transform="rotate(-10 195.4 387.7)"/>
<ellipse cx="201.1" cy="389" rx="1.2" ry="0.7" fill="#000" stroke="none" stroke-width="1" transform="rotate(-10 201.1 389)"/>
<ellipse cx="203.4" cy="391" rx="1.2" ry="0.7" fill="#000" stroke="none" stroke-width="1" transform="rotate(-10 203.4 391)"/>
<ellipse cx="209.1" cy="392.3" rx="1.2" ry="0.7" fill="#000" stroke="none" stroke-width="1" transform="rotate(-10 209.1 392.3)"/>
<ellipse cx="211.4" cy="394.3" rx="1.2" ry="0.7" fill="#000" stroke="none" stroke-width="1" transform="rotate(-10 211.4 394.3)"/>
<ellipse cx="217.1" cy="395.6" rx="1.2" ry="0.7" fill="#000" stroke="none" stroke-width="1" transform="rotate(-10 217.1 395.6)"/>
<ellipse cx="219.4" cy="397.6" rx="1.2" ry="0.7" fill="#000" stroke="none" stroke-width="1" transform="rotate(-10 219.4 397.6)"/>
<ellipse cx="225.1" cy="398.9" rx="1.2" ry="0.7" fill="#000" stroke="none" stroke-width="1" transform="rotate(-10 225.1 398.9)"/>
<ellipse cx="198.9" cy="387" rx="1.2" ry="0.7" fill="#000" stroke="none" stroke-width="1" transform="rotate(-10 198.9 387)"/>
<ellipse cx="204.6" cy="388.4" rx="1.2" ry="0.7" fill="#000" stroke="none" stroke-width="1" transform="rotate(-10 204.6 388.4)"/>
<ellipse cx="206.9" cy="390.3" rx="1.2" ry="0.7" fill="#000" stroke="none" stroke-width="1" transform="rotate(-10 206.9 390.3)"/>
<ellipse cx="212.6" cy="391.7" rx="1.2" ry="0.7" fill="#000" stroke="none" stroke-width="1" transform="rotate(-10 212.6 391.7)"/>
<ellipse cx="214.9" cy="393.6" rx="1.2" ry="0.7" fill="#000" stroke="none" stroke-width="1" transform="rotate(-10 214.9 393.6)"/>
<ellipse cx="220.6" cy="395" rx="1.2" ry="0.7" fill="#000" stroke="none" stroke-width="1" transform="rotate(-10 220.6 395)"/>
<ellipse cx="222.9" cy="396.9" rx="1.2" ry="0.7" fill="#000" stroke="none" stroke-width="1" transform="rotate(-10 222.9 396.9)"/>
<ellipse cx="228.6" cy="398.2" rx="1.2" ry="0.7" fill="#000" stroke="none" stroke-width="1" transform="rotate(-10 228.6 398.2)"/>
<ellipse cx="202.4" cy="386.4" rx="1.2" ry="0.7" fill="#000" stroke="none" stroke-width="1" transform="rotate(-10 202.4 386.4)"/>
<ellipse cx="208.1" cy="387.7" rx="1.2" ry="0.7" fill="#000" stroke="none" stroke-width="1" transform="rotate(-10 208.1 387.7)"/>
<ellipse cx="210.4" cy="389.7" rx="1.2" ry="0.7" fill="#000" stroke="none" stroke-width="1" transform="rotate(-10 210.4 389.7)"/>
<ellipse cx="216.1" cy="391" rx="1.2" ry="0.7" fill="#000" stroke="none" stroke-width="1" transform="rotate(-10 216.1 391)"/>
<ellipse cx="218.4" cy="393" rx="1.2" ry="0.7" fill="#000" stroke="none" stroke-width="1" transform="rotate(-10 218.4 393)"/>
<ellipse cx="224.1" cy="394.3" rx="1.2" ry="0.7" fill="#000" stroke="none" stroke-width="1" transform="rotate(-10 224.1 394.3)"/>
<ellipse cx="226.4" cy="396.3" rx="1.2" ry="0.7" fill="#000" stroke="none" stroke-width="1" transform="rotate(-10 226.4 396.3)"/>
<ellipse cx="232.1" cy="397.6" rx="1.2" ry="0.7" fill="#000" stroke="none" stroke-width="1" transform="rotate(-10 232.1 397.6)"/>
<ellipse cx="205.8" cy="385.7" rx="1.2" ry="0.7" fill="#000" stroke="none" stroke-width="1" transform="rotate(-10 205.8 385.7)"/>
<ellipse cx="211.6" cy="387" rx="1.2" ry="0.7" fill="#000" stroke="none" stroke-width="1" transform="rotate(-10 211.6 387)"/>
<ellipse cx="213.8" cy="389" rx="1.2" ry="0.7" fill="#000" stroke="none" stroke-width="1" transform="rotate(-10 213.8 389)"/>
<ellipse cx="219.6" cy="390.3" rx="1.2" ry="0.7" fill="#000" stroke="none" stroke-width="1" transform="rotate(-10 219.6 390.3)"/>
<ellipse cx="221.8" cy="392.3" rx="1.2" ry="0.7" fill="#000" stroke="none" stroke-width="1" transform="rotate(-10 221.8 392.3)"/>
<ellipse cx="227.6" cy="393.6" rx="1.2" ry="0.7" fill="#000" stroke="none" stroke-width="1" transform="rotate(-10 227.6 393.6)"/>
<ellipse cx="229.8" cy="395.6" rx="1.2" ry="0.7" fill="#000" stroke="none" stroke-width="1" transform="rotate(-10 229.8 395.6)"/>
<ellipse cx="235.6" cy="396.9" rx="1.2" ry="0.7" fill="#000" stroke="none" stroke-width="1" transform="rotate(-10 235.6 396.9)"/>
<ellipse cx="209.3" cy="385.1" rx="1.2" ry="0.7" fill="#000" stroke="none" stroke-width="1" transform="rotate(-10 209.3 385.1)"/>
<ellipse cx="215" cy="386.4" rx="1.2" ry="0.7" fill="#000" stroke="none" stroke-width="1" transform="rotate(-10 215 386.4)"/>
<ellipse cx="217.3" cy="388.4" rx="1.2" ry="0.7" fill="#000" stroke="none" stroke-width="1" transform="rotate(-10 217.3 388.4)"/>
<ellipse cx="223" cy="389.7" rx="1.2" ry="0.7" fill="#000" stroke="none" stroke-width="1" transform="rotate(-10 223 389.7)"/>
<ellipse cx="225.3" cy="391.7" rx="1.2" ry="0.7" fill="#000" stroke="none" stroke-width="1" transform="rotate(-10 225.3 391.7)"/>
<ellipse cx="231" cy="393" rx="1.2" ry="0.7" fill="#000" stroke="none" stroke-width="1" transform="rotate(-10 231 393)"/>
<ellipse cx="233.3" cy="394.9" rx="1.2" ry="0.7" fill="#000" stroke="none" stroke-width="1" transform="rotate(-10 233.3 394.9)"/>
<ellipse cx="239" cy="396.3" rx="1.2" ry="0.7" fill="#000" stroke="none" stroke-width="1" transform="rotate(-10 239 396.3)"/>
<ellipse cx="212.8" cy="384.4" rx="1.2" ry="0.7" fill="#000" stroke="none" stroke-width="1" transform="rotate(-10 212.8 384.4)"/>
<ellipse cx="218.5" cy="385.7" rx="1.2" ry="0.7" fill="#000" stroke="none" stroke-width="1" transform="rotate(-10 218.5 385.7)"/>
<ellipse cx="220.8" cy="387.7" rx="1.2" ry="0.7" fill="#000" stroke="none" stroke-width="1" transform="rotate(-10 220.8 387.7)"/>
<ellipse cx="226.5" cy="389" rx="1.2" ry="0.7" fill="#000" stroke="none" stroke-width="1" transform="rotate(-10 226.5 389)"/>
<ellipse cx="228.8" cy="391" rx="1.2" ry="0.7" fill="#000" stroke="none" stroke-width="1" transform="rotate(-10 228.8 391)"/>
<ellipse cx="234.5" cy="392.3" rx="1.2" ry="0.7" fill="#000" stroke="none" stroke-width="1" transform="rotate(-10 234.5 392.3)"/>
<ellipse cx="236.8" cy="394.3" rx="1.2" ry="0.7" fill="#000" stroke="none" stroke-width="1" transform="rotate(-10 236.8 394.3)"/>
<ellipse cx="242.5" cy="395.6" rx="1.2" ry="0.7" fill="#000" stroke="none" stroke-width="1" transform="rotate(-10 242.5 395.6)"/>
<ellipse cx="216.3" cy="383.7" rx="1.2" ry="0.7" fill="#000" stroke="none" stroke-width="1" transform="rotate(-10 216.3 383.7)"/>
<ellipse cx="222" cy="385.1" rx="1.2" ry="0.7" fill="#000" stroke="none" stroke-width="1" transform="rotate(-10 222 385.1)"/>
<ellipse cx="224.3" cy="387" rx="1.2" ry="0.7" fill="#000" stroke="none" stroke-width="1" transform="rotate(-10 224.3 387)"/>
<ellipse cx="230" cy="388.4" rx="1.2" ry="0.7" fill="#000" stroke="none" stroke-width="1" transform="rotate(-10 230 388.4)"/>
<ellipse cx="232.3" cy="390.3" rx="1.2" ry="0.7" fill="#000" stroke="none" stroke-width="1" transform="rotate(-10 232.3 390.3)"/>
<ellipse cx="238" cy="391.7" rx="1.2" ry="0.7" fill="#000" stroke="none" stroke-width="1" transform="rotate(-10 238 391.7)"/>
<ellipse cx="240.3" cy="393.6" rx="1.2" ry="0.7" fill="#000" stroke="none" stroke-width="1" transform="rotate(-10 240.3 393.6)"/>
<ellipse cx="246" cy="394.9" rx="1.2" ry="0.7" fill="#000" stroke="none" stroke-width="1" transform="rotate(-10 246 394.9)"/>
<ellipse cx="219.7" cy="383.1" rx="1.2" ry="0.7" fill="#000" stroke="none" stroke-width="1" transform="rotate(-10 219.7 383.1)"/>
<ellipse cx="225.5" cy="384.4" rx="1.2" ry="0.7" fill="#000" stroke="none" stroke-width="1" transform="rotate(-10 225.5 384.4)"/>
<ellipse cx="227.7" cy="386.4" rx="1.2" ry="0.7" fill="#000" stroke="none" stroke-width="1" transform="rotate(-10 227.7 386.4)"/>
<ellipse cx="233.5" cy="387.7" rx="1.2" ry="0.7" fill="#000" stroke="none" stroke-width="1" transform="rotate(-10 233.5 387.7)"/>
<ellipse cx="235.7" cy="389.7" rx="1.2" ry="0.7" fill="#000" stroke="none" stroke-width="1" transform="rotate(-10 235.7 389.7)"/>
<ellipse cx="241.5" cy="391" rx="1.2" ry="0.7" fill="#000" stroke="none" stroke-width="1" transform="rotate(-10 241.5 391)"/>
<ellipse cx="243.7" cy="393" rx="1.2" ry="0.7" fill="#000" stroke="none" stroke-width="1" transform="rotate(-10 243.7 393)"/>
<ellipse cx="249.5" cy="394.3" rx="1.2" ry="0.7" fill="#000" stroke="none" stroke-width="1" transform="rotate(-10 249.5 394.3)"/>
<polygon points="208.5,270.6 213,269.7 215.6,442.7 211.1,443.6" fill="#fff" stroke="#000" stroke-width="1" />
<polygon points="213,269.7 215,269.3 217.6,442.3 215.6,442.7" fill="#000" stroke="#000" stroke-width="1" />
<polygon points="215.5,269.3 219.5,268.5 222.1,441.5 218.1,442.3" fill="#fff" stroke="#000" stroke-width="1" />
<polygon points="262.8,273.8 271.3,275.8 271.3,283.8 262.8,281.8" fill="#000" stroke="#000" stroke-width="0.5" />
<line x1="265.5" y1="276.8" x2="265.5" y2="280.6" stroke="#fff" stroke-width="1"/>
<line x1="268.1" y1="277.3" x2="268.1" y2="281.2" stroke="#fff" stroke-width="1"/>
<line x1="264.4" y1="278.5" x2="269.4" y2="279.4" stroke="#fff" stroke-width="0.8"/>
<polygon points="208.8,284.1 217.3,286.1 217.3,294.1 208.8,292.1" fill="#000" stroke="#000" stroke-width="0.5" />
<line x1="211.5" y1="287.1" x2="211.5" y2="290.9" stroke="#fff" stroke-width="1"/>
<line x1="214.1" y1="287.6" x2="214.1" y2="291.5" stroke="#fff" stroke-width="1"/>
<line x1="210.4" y1="288.8" x2="215.4" y2="289.7" stroke="#fff" stroke-width="0.8"/>
<polygon points="263.7,332.8 272.2,334.8 272.2,342.8 263.7,340.8" fill="#000" stroke="#000" stroke-width="0.5" />
<line x1="266.4" y1="335.8" x2="266.4" y2="339.6" stroke="#fff" stroke-width="1"/>
<line x1="269" y1="336.3" x2="269" y2="340.2" stroke="#fff" stroke-width="1"/>
<line x1="265.3" y1="337.5" x2="270.3" y2="338.4" stroke="#fff" stroke-width="0.8"/>
<polygon points="209.7,343.1 218.2,345.1 218.2,353.1 209.7,351.1" fill="#000" stroke="#000" stroke-width="0.5" />
<line x1="212.4" y1="346.1" x2="212.4" y2="349.9" stroke="#fff" stroke-width="1"/>
<line x1="215" y1="346.6" x2="215" y2="350.5" stroke="#fff" stroke-width="1"/>
<line x1="211.3" y1="347.8" x2="216.3" y2="348.7" stroke="#fff" stroke-width="0.8"/>
<polygon points="264.8,406.8 273.3,408.8 273.3,416.8 264.8,414.8" fill="#000" stroke="#000" stroke-width="0.5" />
<line x1="267.5" y1="409.8" x2="267.5" y2="413.6" stroke="#fff" stroke-width="1"/>
<line x1="270.1" y1="410.3" x2="270.1" y2="414.2" stroke="#fff" stroke-width="1"/>
<line x1="266.4" y1="411.5" x2="271.4" y2="412.4" stroke="#fff" stroke-width="0.8"/>
<polygon points="210.8,417.1 219.3,419.1 219.3,427.1 210.8,425.1" fill="#000" stroke="#000" stroke-width="0.5" />
<line x1="213.5" y1="420.1" x2="213.5" y2="423.9" stroke="#fff" stroke-width="1"/>
<line x1="216.1" y1="420.6" x2="216.1" y2="424.5" stroke="#fff" stroke-width="1"/>
<line x1="212.4" y1="421.8" x2="217.4" y2="422.7" stroke="#fff" stroke-width="0.8"/>
<polygon points="200.4,263.4 206.4,265.9 209.2,450.9 203.2,448.4" fill="#fff" stroke="#000" stroke-width="1.3" />
<polygon points="200.4,263.4 274.4,249.3 280.4,251.8 206.4,265.9" fill="#fff" stroke="#000" stroke-width="1.3" />
<polygon points="271.2,253.1 277.2,255.6 279.9,434.2 273.9,431.7" fill="#fff" stroke="#000" stroke-width="1.3" />
<polygon points="206.3,444.6 273.9,431.7 279.9,434.2 212.3,447.1" fill="#fff" stroke="#000" stroke-width="1.3" />
<path d="M206.4,265.9 L280.4,251.8 L283.2,436.8 L209.2,450.9 Z M209.6,268.5 L277.2,255.6 L279.9,434.2 L212.3,447.1 Z" fill="#fff" stroke="#000" stroke-width="1.3" fill-rule="evenodd"/>
<polygon points="244.3,285.2 247,284.2 253.5,285.6 256,461 246.8,459.5" fill="#fff" stroke="#000" stroke-width="1" />
<line x1="247.2" y1="288" x2="249.8" y2="458" stroke="#000" stroke-width="1.6" stroke-dasharray="3 2"/>
<line x1="250.6" y1="286" x2="253.2" y2="460" stroke="#000" stroke-width="1"/>
<polygon points="253.5,288.3 263.3,286.5 266,460.5 256,462.3" fill="#fff" stroke="#000" stroke-width="1" />
<line x1="169.5" y1="479.7" x2="169.5" y2="490.5" stroke="#000" stroke-width="1.8"/>
<ellipse cx="169.5" cy="490.5" rx="1.9" ry="1.1" fill="#000" stroke="none" stroke-width="1"/>
<polygon points="167,486 179.5,484 180,486.2 167.5,488.3" fill="#000" stroke="#000" stroke-width="0.6" />
<polygon points="169,487.5 177.5,486 176.2,491.5 170.2,492" fill="#000" stroke="#000" stroke-width="0.6" />
<ellipse cx="173" cy="492.5" rx="3.7" ry="4.8" fill="#000" stroke="#000" stroke-width="0.5" transform="rotate(-10 173 492.5)"/>
<ellipse cx="172.7" cy="492.8" rx="1.7" ry="2.9" fill="#fff" stroke="none" stroke-width="1" transform="rotate(-10 172.7 492.8)"/>
<ellipse cx="173.3" cy="492.7" rx="0.9" ry="1.7" fill="#000" stroke="none" stroke-width="1" transform="rotate(-10 173.3 492.7)"/>
<polygon points="231.3,479 243.8,477 244.3,479.2 231.8,481.3" fill="#000" stroke="#000" stroke-width="0.6" />
<polygon points="233.3,480.5 241.8,479 240.5,484.5 234.5,485" fill="#000" stroke="#000" stroke-width="0.6" />
<ellipse cx="237.3" cy="485.5" rx="3.7" ry="4.8" fill="#000" stroke="#000" stroke-width="0.5" transform="rotate(-10 237.3 485.5)"/>
<ellipse cx="237" cy="485.8" rx="1.7" ry="2.9" fill="#fff" stroke="none" stroke-width="1" transform="rotate(-10 237 485.8)"/>
<ellipse cx="237.6" cy="485.7" rx="0.9" ry="1.7" fill="#000" stroke="none" stroke-width="1" transform="rotate(-10 237.6 485.7)"/>
<line x1="213.5" y1="509.5" x2="213.5" y2="516" stroke="#000" stroke-width="1.8"/>
<ellipse cx="213.5" cy="516" rx="1.9" ry="1.1" fill="#000" stroke="none" stroke-width="1"/>
<polygon points="204.3,503 216.8,501 217.3,503.2 204.8,505.3" fill="#000" stroke="#000" stroke-width="0.6" />
<polygon points="206.3,504.5 214.8,503 213.5,508.5 207.5,509" fill="#000" stroke="#000" stroke-width="0.6" />
<ellipse cx="210.3" cy="509.5" rx="3.7" ry="4.8" fill="#000" stroke="#000" stroke-width="0.5" transform="rotate(-10 210.3 509.5)"/>
<ellipse cx="210" cy="509.8" rx="1.7" ry="2.9" fill="#fff" stroke="none" stroke-width="1" transform="rotate(-10 210 509.8)"/>
<ellipse cx="210.6" cy="509.7" rx="0.9" ry="1.7" fill="#000" stroke="none" stroke-width="1" transform="rotate(-10 210.6 509.7)"/>
<line x1="278.6" y1="492.1" x2="278.6" y2="503.6" stroke="#000" stroke-width="1.8"/>
<ellipse cx="278.6" cy="503.6" rx="1.9" ry="1.1" fill="#000" stroke="none" stroke-width="1"/>
<polygon points="266.2,492.1 278.7,490.1 279.2,492.3 266.7,494.4" fill="#000" stroke="#000" stroke-width="0.6" />
<polygon points="268.2,493.6 276.7,492.1 275.4,497.6 269.4,498.1" fill="#000" stroke="#000" stroke-width="0.6" />
<ellipse cx="272.2" cy="498.6" rx="3.7" ry="4.8" fill="#000" stroke="#000" stroke-width="0.5" transform="rotate(-10 272.2 498.6)"/>
<ellipse cx="271.9" cy="498.9" rx="1.7" ry="2.9" fill="#fff" stroke="none" stroke-width="1" transform="rotate(-10 271.9 498.9)"/>
<ellipse cx="272.5" cy="498.8" rx="0.9" ry="1.7" fill="#000" stroke="none" stroke-width="1" transform="rotate(-10 272.5 498.8)"/>
<polygon points="93.1,269.4 122.8,281.5 127.5,458.7 95.6,445.6" fill="#fff" stroke="#000" stroke-width="1.3" />
<line x1="120.6" y1="280.6" x2="125.2" y2="457.8" stroke="#000" stroke-width="1"/>
<polygon points="94.3,301.5 96.3,302.3 96.3,305.3 94.3,304.5" fill="#000" stroke="#000" stroke-width="0.8" />
<polygon points="120.8,313 122.8,313.8 122.8,316.8 120.8,316" fill="#fff" stroke="#000" stroke-width="0.8" />
<polygon points="283.9,304.8 359.3,290.3 361.8,466.4 287.2,481.1" fill="#fff" stroke="#000" stroke-width="1.3" />
<line x1="292.1" y1="303.3" x2="294.6" y2="479.6" stroke="#000" stroke-width="1"/>
<line x1="352" y1="291.7" x2="355.6" y2="467.6" stroke="#000" stroke-width="1"/>
<line x1="355.2" y1="291.1" x2="358" y2="467.1" stroke="#000" stroke-width="0.7"/>
<circle cx="290.5" cy="392.6" r="1" fill="#000" stroke="#000" stroke-width="0.4"/>
</g>
<clipPath id="cb"><circle cx="488.9" cy="502.9" r="48.3"/></clipPath><g clip-path="url(#cb)">
<line x1="456.9" y1="455" x2="459.3" y2="552" stroke="#000" stroke-width="1"/>
<line x1="488.2" y1="452" x2="490.3" y2="553" stroke="#000" stroke-width="1.4"/>
<line x1="499.6" y1="452" x2="501.2" y2="553" stroke="#000" stroke-width="1"/>
<polygon points="491.3,493.4 493.8,493.4 494.1,512.6 491.6,512.6" fill="#000" stroke="#000" stroke-width="0.5" />
</g>
<circle cx="488.9" cy="502.9" r="48.3" fill="none" stroke="#000" stroke-width="1"/>
<clipPath id="ca"><circle cx="674" cy="500.3" r="49.2"/></clipPath><g clip-path="url(#ca)">
<line x1="654.5" y1="448.1" x2="654.9" y2="553" stroke="#000" stroke-width="1"/>
<line x1="660.5" y1="448.1" x2="662.6" y2="553" stroke="#000" stroke-width="1.3"/>
<line x1="673.6" y1="448.1" x2="675.1" y2="553" stroke="#000" stroke-width="1.3"/>
<line x1="676.3" y1="448.1" x2="677.5" y2="553" stroke="#000" stroke-width="0.8"/>
<line x1="636.3" y1="448.1" x2="636.7" y2="553" stroke="#000" stroke-width="1"/>
<line x1="628.2" y1="448.1" x2="628.5" y2="553" stroke="#000" stroke-width="0.8"/>
<polygon points="624.2,483.4 630.3,484.8 659.5,497.5 659.5,502.6 649.4,507.6 633.3,500.5 624.2,496.5" fill="#fff" stroke="#000" stroke-width="1" />
<polygon points="633.3,500.5 649.4,507.6 649.4,523.7 633.3,517.7" fill="#fff" stroke="#000" stroke-width="1" />
<polygon points="649.4,507.6 659.5,502.6 659.5,519.7 649.4,523.7" fill="#fff" stroke="#000" stroke-width="1" />
<line x1="630.3" y1="484.8" x2="633.3" y2="500.5" stroke="#000" stroke-width="0.8"/>
<polygon points="635.1,509.8 636.7,510.4 636.7,512.4 635.1,511.8" fill="#000" stroke="#000" stroke-width="0.3" />
<polygon points="637.9,511 639.5,511.6 639.5,513.7 637.9,513" fill="#000" stroke="#000" stroke-width="0.3" />
<polygon points="641,512.3 642.6,512.9 642.6,515 641,514.3" fill="#000" stroke="#000" stroke-width="0.3" />
<polygon points="644,513.6 645.6,514.2 645.6,516.3 644,515.6" fill="#000" stroke="#000" stroke-width="0.3" />
<polygon points="624.2,516.7 633.3,519.7 660.5,530.8 660.5,534.8 633.3,523.7 624.2,520.7" fill="#fff" stroke="#000" stroke-width="1" />
<circle cx="657.1" cy="499.9" r="1.2" fill="#fff" stroke="#000" stroke-width="0.8"/>
<circle cx="657.9" cy="527.2" r="1.2" fill="#fff" stroke="#000" stroke-width="0.8"/>
<line x1="626.2" y1="498.5" x2="626.8" y2="500.5" stroke="#000" stroke-width="1.5"/>
</g>
<circle cx="674" cy="500.3" r="49.2" fill="none" stroke="#000" stroke-width="1"/>
<g transform="translate(-151.3 0)">
<polygon points="247.3,607.8 276.1,620.4 276.1,622.1 247.3,609.5" fill="#000" stroke="#000" stroke-width="0.9" />
<polygon points="276.1,620.4 320.5,610.4 320.5,612.1 276.1,622.1" fill="#000" stroke="#000" stroke-width="0.9" />
<polygon points="247.3,607.8 292,598.2 320.5,610.4 276.1,620.4" fill="#fff" stroke="#000" stroke-width="1.4" />
<ellipse cx="273.8" cy="608.7" rx="4" ry="1.5" fill="#000" stroke="none" stroke-width="1" transform="rotate(-8 273.8 608.7)"/>
<ellipse cx="285.6" cy="606.1" rx="4" ry="1.5" fill="#000" stroke="none" stroke-width="1" transform="rotate(-8 285.6 606.1)"/>
<ellipse cx="281.8" cy="612.2" rx="4" ry="1.5" fill="#000" stroke="none" stroke-width="1" transform="rotate(-8 281.8 612.2)"/>
<ellipse cx="293.6" cy="609.6" rx="4" ry="1.5" fill="#000" stroke="none" stroke-width="1" transform="rotate(-8 293.6 609.6)"/>
<polygon points="261.7,605.6 280.9,601.5 282.3,602.1 263.1,606.3" fill="#000" stroke="#000" stroke-width="0.6" />
<polygon points="284.7,615.6 302.4,611.7 303.9,612.3 286.1,616.3" fill="#fff" stroke="#000" stroke-width="0.7" />
<polygon points="249.1,776.8 279.4,791.9 279.4,794.3 249.1,779.2" fill="#fff" stroke="#000" stroke-width="0.9" />
<polygon points="279.4,791.9 322.7,781.3 322.7,783.7 279.4,794.3" fill="#000" stroke="#000" stroke-width="0.9" />
<polygon points="249.1,776.8 292.4,766.2 322.7,781.3 279.4,791.9" fill="#fff" stroke="#000" stroke-width="1.5" />
<polygon points="254.4,777.5 293,768.1 317.5,780.3 279,789.8" fill="none" stroke="#000" stroke-width="0.6" />
<polygon points="275.7,780.4 293,776.2 301.8,780.6 284.5,784.8" fill="#222" stroke="#000" stroke-width="0.5" />
<line x1="277.9" y1="781.5" x2="295.2" y2="777.3" stroke="#fff" stroke-width="0.4"/>
<line x1="280.1" y1="782.6" x2="297.4" y2="778.4" stroke="#fff" stroke-width="0.4"/>
<line x1="282.3" y1="783.7" x2="299.6" y2="779.5" stroke="#fff" stroke-width="0.4"/>
<polygon points="248.3,650.7 253.1,652.8 255.1,763.8 250.3,761.7" fill="#fff" stroke="#000" stroke-width="1.4" />
<polygon points="248.3,650.7 292.7,641.8 297.5,643.9 253.1,652.8" fill="#fff" stroke="#000" stroke-width="1.4" />
<polygon points="290.8,644.1 295.6,646.2 297.5,753.3 292.7,751.3" fill="#fff" stroke="#000" stroke-width="1.4" />
<polygon points="252.2,759.4 292.7,751.3 297.5,753.3 257,761.5" fill="#fff" stroke="#000" stroke-width="1.4" />
<path d="M253.1,652.8 L297.5,643.9 L299.5,754.9 L255.1,763.8 Z M255.1,654.3 L295.6,646.2 L297.5,753.3 L257,761.5 Z" fill="#fff" stroke="#000" stroke-width="1.4" fill-rule="evenodd"/>
<polygon points="271.9,660.8 275.5,662.4 277.5,773.4 273.9,771.8" fill="#fff" stroke="#000" stroke-width="1.4" />
<polygon points="271.9,660.8 316.3,652 319.9,653.5 275.5,662.4" fill="#fff" stroke="#000" stroke-width="1.4" />
<polygon points="314.4,654.3 318,655.8 319.9,763 316.3,761.4" fill="#fff" stroke="#000" stroke-width="1.4" />
<polygon points="275.8,769.5 316.3,761.4 319.9,763 279.4,771.1" fill="#fff" stroke="#000" stroke-width="1.4" />
<path d="M275.5,662.4 L319.9,653.5 L321.9,764.5 L277.5,773.4 Z M277.4,663.9 L318,655.8 L319.9,763 L279.4,771.1 Z" fill="#fff" stroke="#000" stroke-width="1.4" fill-rule="evenodd"/>
<line x1="253.4" y1="789.7" x2="253.4" y2="796.7" stroke="#000" stroke-width="1.1"/>
<ellipse cx="253.4" cy="796.7" rx="1.1" ry="0.7" fill="#000" stroke="none" stroke-width="1"/>
<polygon points="252.6,794.3 260.1,793.1 260.4,794.4 252.9,795.7" fill="#000" stroke="#000" stroke-width="0.5" />
<polygon points="253.8,795.2 258.9,794.3 258.1,797.6 254.5,797.9" fill="#000" stroke="#000" stroke-width="0.5" />
<ellipse cx="256.2" cy="798.2" rx="2.2" ry="2.9" fill="#000" stroke="#000" stroke-width="0.4" transform="rotate(-10 256.2 798.2)"/>
<ellipse cx="256" cy="798.4" rx="1" ry="1.7" fill="#fff" stroke="none" stroke-width="1" transform="rotate(-10 256 798.4)"/>
<ellipse cx="256.4" cy="798.3" rx="0.5" ry="1" fill="#000" stroke="none" stroke-width="1" transform="rotate(-10 256.4 798.3)"/>
<polygon points="290.9,789.7 298.4,788.5 298.7,789.8 291.2,791.1" fill="#000" stroke="#000" stroke-width="0.5" />
<polygon points="292.1,790.6 297.2,789.7 296.4,793 292.8,793.3" fill="#000" stroke="#000" stroke-width="0.5" />
<ellipse cx="294.5" cy="793.6" rx="2.2" ry="2.9" fill="#000" stroke="#000" stroke-width="0.4" transform="rotate(-10 294.5 793.6)"/>
<ellipse cx="294.3" cy="793.8" rx="1" ry="1.7" fill="#fff" stroke="none" stroke-width="1" transform="rotate(-10 294.3 793.8)"/>
<ellipse cx="294.7" cy="793.7" rx="0.5" ry="1" fill="#000" stroke="none" stroke-width="1" transform="rotate(-10 294.7 793.7)"/>
<line x1="279.8" y1="807.2" x2="279.8" y2="811.7" stroke="#000" stroke-width="1.1"/>
<ellipse cx="279.8" cy="811.7" rx="1.1" ry="0.7" fill="#000" stroke="none" stroke-width="1"/>
<polygon points="274,804.3 281.5,803.1 281.8,804.4 274.3,805.7" fill="#000" stroke="#000" stroke-width="0.5" />
<polygon points="275.2,805.2 280.3,804.3 279.5,807.6 275.9,807.9" fill="#000" stroke="#000" stroke-width="0.5" />
<ellipse cx="277.6" cy="808.2" rx="2.2" ry="2.9" fill="#000" stroke="#000" stroke-width="0.4" transform="rotate(-10 277.6 808.2)"/>
<ellipse cx="277.4" cy="808.4" rx="1" ry="1.7" fill="#fff" stroke="none" stroke-width="1" transform="rotate(-10 277.4 808.4)"/>
<ellipse cx="277.8" cy="808.3" rx="0.5" ry="1" fill="#000" stroke="none" stroke-width="1" transform="rotate(-10 277.8 808.3)"/>
<line x1="319.1" y1="797.1" x2="319.1" y2="805.1" stroke="#000" stroke-width="1.1"/>
<ellipse cx="319.1" cy="805.1" rx="1.1" ry="0.7" fill="#000" stroke="none" stroke-width="1"/>
<polygon points="311.7,797.7 319.2,796.5 319.5,797.8 312,799.1" fill="#000" stroke="#000" stroke-width="0.5" />
<polygon points="312.9,798.6 318,797.7 317.2,801 313.6,801.3" fill="#000" stroke="#000" stroke-width="0.5" />
<ellipse cx="315.3" cy="801.6" rx="2.2" ry="2.9" fill="#000" stroke="#000" stroke-width="0.4" transform="rotate(-10 315.3 801.6)"/>
<ellipse cx="315.1" cy="801.8" rx="1" ry="1.7" fill="#fff" stroke="none" stroke-width="1" transform="rotate(-10 315.1 801.8)"/>
<ellipse cx="315.5" cy="801.7" rx="0.5" ry="1" fill="#000" stroke="none" stroke-width="1" transform="rotate(-10 315.5 801.7)"/>
</g>
<g transform="translate(0 0)">
<polygon points="247.3,607.8 276.1,620.4 276.1,622.1 247.3,609.5" fill="#000" stroke="#000" stroke-width="0.9" />
<polygon points="276.1,620.4 320.5,610.4 320.5,612.1 276.1,622.1" fill="#000" stroke="#000" stroke-width="0.9" />
<polygon points="247.3,607.8 292,598.2 320.5,610.4 276.1,620.4" fill="#fff" stroke="#000" stroke-width="1.4" />
<ellipse cx="273.8" cy="608.7" rx="4" ry="1.5" fill="#000" stroke="none" stroke-width="1" transform="rotate(-8 273.8 608.7)"/>
<ellipse cx="285.6" cy="606.1" rx="4" ry="1.5" fill="#000" stroke="none" stroke-width="1" transform="rotate(-8 285.6 606.1)"/>
<ellipse cx="281.8" cy="612.2" rx="4" ry="1.5" fill="#000" stroke="none" stroke-width="1" transform="rotate(-8 281.8 612.2)"/>
<ellipse cx="293.6" cy="609.6" rx="4" ry="1.5" fill="#000" stroke="none" stroke-width="1" transform="rotate(-8 293.6 609.6)"/>
<polygon points="261.7,605.6 280.9,601.5 282.3,602.1 263.1,606.3" fill="#000" stroke="#000" stroke-width="0.6" />
<polygon points="284.7,615.6 302.4,611.7 303.9,612.3 286.1,616.3" fill="#fff" stroke="#000" stroke-width="0.7" />
<path d="M262,622.5 C259.5,624 259,626.5 262,628" fill="none" stroke="#000" stroke-width="0.8" />
<polygon points="261.7,628.5 281.9,637.6 281.9,638.6 261.7,629.5" fill="#000" stroke="#000" stroke-width="0.8" />
<polygon points="281.9,637.6 304.6,631.8 304.6,632.8 281.9,638.6" fill="#000" stroke="#000" stroke-width="0.8" />
<polygon points="261.7,628.5 285.7,623.5 304.6,631.8 281.9,637.6" fill="#fff" stroke="#000" stroke-width="1.5" />
<polygon points="265.4,629.1 285.9,624.7 301.1,631.4 281.5,636.3" fill="none" stroke="#000" stroke-width="0.9" />
<ellipse cx="274.3" cy="630.2" rx="4.6" ry="1.8" fill="#000" stroke="none" stroke-width="1" transform="rotate(-8 274.3 630.2)"/>
<ellipse cx="285.3" cy="627.7" rx="4.6" ry="1.8" fill="#000" stroke="none" stroke-width="1" transform="rotate(-8 285.3 627.7)"/>
<ellipse cx="282" cy="633.7" rx="4.6" ry="1.8" fill="#000" stroke="none" stroke-width="1" transform="rotate(-8 282 633.7)"/>
<ellipse cx="292.9" cy="631" rx="4.6" ry="1.8" fill="#000" stroke="none" stroke-width="1" transform="rotate(-8 292.9 631)"/>
<polygon points="249.1,776.8 279.4,791.9 279.4,794.3 249.1,779.2" fill="#fff" stroke="#000" stroke-width="0.9" />
<polygon points="279.4,791.9 322.7,781.3 322.7,783.7 279.4,794.3" fill="#000" stroke="#000" stroke-width="0.9" />
<polygon points="249.1,776.8 292.4,766.2 322.7,781.3 279.4,791.9" fill="#fff" stroke="#000" stroke-width="1.5" />
<polygon points="254.4,777.5 293,768.1 317.5,780.3 279,789.8" fill="none" stroke="#000" stroke-width="0.6" />
<polygon points="275.7,780.4 293,776.2 301.8,780.6 284.5,784.8" fill="#222" stroke="#000" stroke-width="0.5" />
<line x1="277.9" y1="781.5" x2="295.2" y2="777.3" stroke="#fff" stroke-width="0.4"/>
<line x1="280.1" y1="782.6" x2="297.4" y2="778.4" stroke="#fff" stroke-width="0.4"/>
<line x1="282.3" y1="783.7" x2="299.6" y2="779.5" stroke="#fff" stroke-width="0.4"/>
<polygon points="248.3,650.7 253.1,652.8 255.1,763.8 250.3,761.7" fill="#fff" stroke="#000" stroke-width="1.4" />
<polygon points="248.3,650.7 292.7,641.8 297.5,643.9 253.1,652.8" fill="#fff" stroke="#000" stroke-width="1.4" />
<polygon points="290.8,644.1 295.6,646.2 297.5,753.3 292.7,751.3" fill="#fff" stroke="#000" stroke-width="1.4" />
<polygon points="252.2,759.4 292.7,751.3 297.5,753.3 257,761.5" fill="#fff" stroke="#000" stroke-width="1.4" />
<path d="M253.1,652.8 L297.5,643.9 L299.5,754.9 L255.1,763.8 Z M255.1,654.3 L295.6,646.2 L297.5,753.3 L257,761.5 Z" fill="#fff" stroke="#000" stroke-width="1.4" fill-rule="evenodd"/>
<polygon points="294.4,657.7 296.2,657.4 315,665.5 313.2,665.8" fill="#fff" stroke="#000" stroke-width="1.1" />
<polygon points="294.4,657.7 313.2,665.8 313.3,669.7 294.5,661.6" fill="#fff" stroke="#000" stroke-width="1.1" />
<line x1="294.5" y1="659.9" x2="313.3" y2="668" stroke="#000" stroke-width="1.1"/>
<polygon points="295.1,693.1 296.9,692.8 315.7,700.9 313.9,701.2" fill="#fff" stroke="#000" stroke-width="1.1" />
<polygon points="295.1,693.1 313.9,701.2 313.9,705.1 295.1,697" fill="#fff" stroke="#000" stroke-width="1.1" />
<line x1="295.1" y1="695.3" x2="313.9" y2="703.4" stroke="#000" stroke-width="1.1"/>
<polygon points="295.9,737.5 297.7,737.2 316.5,745.3 314.7,745.6" fill="#fff" stroke="#000" stroke-width="1.1" />
<polygon points="295.9,737.5 314.7,745.6 314.7,749.5 295.9,741.4" fill="#fff" stroke="#000" stroke-width="1.1" />
<line x1="295.9" y1="739.7" x2="314.7" y2="747.8" stroke="#000" stroke-width="1.1"/>
<polygon points="254.8,665.7 256.6,665.3 275.4,673.4 273.6,673.7" fill="#fff" stroke="#000" stroke-width="1.1" />
<polygon points="254.8,665.7 273.6,673.7 273.7,677.6 254.9,669.6" fill="#fff" stroke="#000" stroke-width="1.1" />
<line x1="254.9" y1="667.8" x2="273.7" y2="675.9" stroke="#000" stroke-width="1.1"/>
<polygon points="255.5,701.1 257.3,700.7 276.1,708.8 274.3,709.1" fill="#fff" stroke="#000" stroke-width="1.1" />
<polygon points="255.5,701.1 274.3,709.1 274.3,713 255.5,705" fill="#fff" stroke="#000" stroke-width="1.1" />
<line x1="255.5" y1="703.2" x2="274.3" y2="711.3" stroke="#000" stroke-width="1.1"/>
<polygon points="256.3,745.5 258.1,745.1 276.9,753.2 275.1,753.5" fill="#fff" stroke="#000" stroke-width="1.1" />
<polygon points="256.3,745.5 275.1,753.5 275.1,757.4 256.3,749.4" fill="#fff" stroke="#000" stroke-width="1.1" />
<line x1="256.3" y1="747.6" x2="275.1" y2="755.7" stroke="#000" stroke-width="1.1"/>
<polygon points="271.9,660.8 275.5,662.4 277.5,773.4 273.9,771.8" fill="#fff" stroke="#000" stroke-width="1.4" />
<polygon points="271.9,660.8 316.3,652 319.9,653.5 275.5,662.4" fill="#fff" stroke="#000" stroke-width="1.4" />
<polygon points="314.4,654.3 318,655.8 319.9,763 316.3,761.4" fill="#fff" stroke="#000" stroke-width="1.4" />
<polygon points="275.8,769.5 316.3,761.4 319.9,763 279.4,771.1" fill="#fff" stroke="#000" stroke-width="1.4" />
<path d="M275.5,662.4 L319.9,653.5 L321.9,764.5 L277.5,773.4 Z M277.4,663.9 L318,655.8 L319.9,763 L279.4,771.1 Z" fill="#fff" stroke="#000" stroke-width="1.4" fill-rule="evenodd"/>
<line x1="253.4" y1="789.7" x2="253.4" y2="796.7" stroke="#000" stroke-width="1.1"/>
<ellipse cx="253.4" cy="796.7" rx="1.1" ry="0.7" fill="#000" stroke="none" stroke-width="1"/>
<polygon points="252.6,794.3 260.1,793.1 260.4,794.4 252.9,795.7" fill="#000" stroke="#000" stroke-width="0.5" />
<polygon points="253.8,795.2 258.9,794.3 258.1,797.6 254.5,797.9" fill="#000" stroke="#000" stroke-width="0.5" />
<ellipse cx="256.2" cy="798.2" rx="2.2" ry="2.9" fill="#000" stroke="#000" stroke-width="0.4" transform="rotate(-10 256.2 798.2)"/>
<ellipse cx="256" cy="798.4" rx="1" ry="1.7" fill="#fff" stroke="none" stroke-width="1" transform="rotate(-10 256 798.4)"/>
<ellipse cx="256.4" cy="798.3" rx="0.5" ry="1" fill="#000" stroke="none" stroke-width="1" transform="rotate(-10 256.4 798.3)"/>
<polygon points="290.9,789.7 298.4,788.5 298.7,789.8 291.2,791.1" fill="#000" stroke="#000" stroke-width="0.5" />
<polygon points="292.1,790.6 297.2,789.7 296.4,793 292.8,793.3" fill="#000" stroke="#000" stroke-width="0.5" />
<ellipse cx="294.5" cy="793.6" rx="2.2" ry="2.9" fill="#000" stroke="#000" stroke-width="0.4" transform="rotate(-10 294.5 793.6)"/>
<ellipse cx="294.3" cy="793.8" rx="1" ry="1.7" fill="#fff" stroke="none" stroke-width="1" transform="rotate(-10 294.3 793.8)"/>
<ellipse cx="294.7" cy="793.7" rx="0.5" ry="1" fill="#000" stroke="none" stroke-width="1" transform="rotate(-10 294.7 793.7)"/>
<line x1="279.8" y1="807.2" x2="279.8" y2="811.7" stroke="#000" stroke-width="1.1"/>
<ellipse cx="279.8" cy="811.7" rx="1.1" ry="0.7" fill="#000" stroke="none" stroke-width="1"/>
<polygon points="274,804.3 281.5,803.1 281.8,804.4 274.3,805.7" fill="#000" stroke="#000" stroke-width="0.5" />
<polygon points="275.2,805.2 280.3,804.3 279.5,807.6 275.9,807.9" fill="#000" stroke="#000" stroke-width="0.5" />
<ellipse cx="277.6" cy="808.2" rx="2.2" ry="2.9" fill="#000" stroke="#000" stroke-width="0.4" transform="rotate(-10 277.6 808.2)"/>
<ellipse cx="277.4" cy="808.4" rx="1" ry="1.7" fill="#fff" stroke="none" stroke-width="1" transform="rotate(-10 277.4 808.4)"/>
<ellipse cx="277.8" cy="808.3" rx="0.5" ry="1" fill="#000" stroke="none" stroke-width="1" transform="rotate(-10 277.8 808.3)"/>
<line x1="319.1" y1="797.1" x2="319.1" y2="805.1" stroke="#000" stroke-width="1.1"/>
<ellipse cx="319.1" cy="805.1" rx="1.1" ry="0.7" fill="#000" stroke="none" stroke-width="1"/>
<polygon points="311.7,797.7 319.2,796.5 319.5,797.8 312,799.1" fill="#000" stroke="#000" stroke-width="0.5" />
<polygon points="312.9,798.6 318,797.7 317.2,801 313.6,801.3" fill="#000" stroke="#000" stroke-width="0.5" />
<ellipse cx="315.3" cy="801.6" rx="2.2" ry="2.9" fill="#000" stroke="#000" stroke-width="0.4" transform="rotate(-10 315.3 801.6)"/>
<ellipse cx="315.1" cy="801.8" rx="1" ry="1.7" fill="#fff" stroke="none" stroke-width="1" transform="rotate(-10 315.1 801.8)"/>
<ellipse cx="315.5" cy="801.7" rx="0.5" ry="1" fill="#000" stroke="none" stroke-width="1" transform="rotate(-10 315.5 801.7)"/>
</g>
<g transform="translate(178 0)">
<polygon points="247.3,607.8 276.1,620.4 276.1,622.1 247.3,609.5" fill="#000" stroke="#000" stroke-width="0.9" />
<polygon points="276.1,620.4 320.5,610.4 320.5,612.1 276.1,622.1" fill="#000" stroke="#000" stroke-width="0.9" />
<polygon points="247.3,607.8 292,598.2 320.5,610.4 276.1,620.4" fill="#fff" stroke="#000" stroke-width="1.4" />
<ellipse cx="273.8" cy="608.7" rx="4" ry="1.5" fill="#000" stroke="none" stroke-width="1" transform="rotate(-8 273.8 608.7)"/>
<ellipse cx="285.6" cy="606.1" rx="4" ry="1.5" fill="#000" stroke="none" stroke-width="1" transform="rotate(-8 285.6 606.1)"/>
<ellipse cx="281.8" cy="612.2" rx="4" ry="1.5" fill="#000" stroke="none" stroke-width="1" transform="rotate(-8 281.8 612.2)"/>
<ellipse cx="293.6" cy="609.6" rx="4" ry="1.5" fill="#000" stroke="none" stroke-width="1" transform="rotate(-8 293.6 609.6)"/>
<polygon points="261.7,605.6 280.9,601.5 282.3,602.1 263.1,606.3" fill="#000" stroke="#000" stroke-width="0.6" />
<polygon points="284.7,615.6 302.4,611.7 303.9,612.3 286.1,616.3" fill="#fff" stroke="#000" stroke-width="0.7" />
<path d="M262,622.5 C259.5,624 259,626.5 262,628" fill="none" stroke="#000" stroke-width="0.8" />
<polygon points="261.7,628.5 281.9,637.6 281.9,638.6 261.7,629.5" fill="#000" stroke="#000" stroke-width="0.8" />
<polygon points="281.9,637.6 304.6,631.8 304.6,632.8 281.9,638.6" fill="#000" stroke="#000" stroke-width="0.8" />
<polygon points="261.7,628.5 285.7,623.5 304.6,631.8 281.9,637.6" fill="#fff" stroke="#000" stroke-width="1.5" />
<polygon points="265.4,629.1 285.9,624.7 301.1,631.4 281.5,636.3" fill="none" stroke="#000" stroke-width="0.9" />
<ellipse cx="274.3" cy="630.2" rx="4.6" ry="1.8" fill="#000" stroke="none" stroke-width="1" transform="rotate(-8 274.3 630.2)"/>
<ellipse cx="285.3" cy="627.7" rx="4.6" ry="1.8" fill="#000" stroke="none" stroke-width="1" transform="rotate(-8 285.3 627.7)"/>
<ellipse cx="282" cy="633.7" rx="4.6" ry="1.8" fill="#000" stroke="none" stroke-width="1" transform="rotate(-8 282 633.7)"/>
<ellipse cx="292.9" cy="631" rx="4.6" ry="1.8" fill="#000" stroke="none" stroke-width="1" transform="rotate(-8 292.9 631)"/>
<polygon points="249.1,776.8 279.4,791.9 279.4,794.3 249.1,779.2" fill="#fff" stroke="#000" stroke-width="0.9" />
<polygon points="279.4,791.9 322.7,781.3 322.7,783.7 279.4,794.3" fill="#000" stroke="#000" stroke-width="0.9" />
<polygon points="249.1,776.8 292.4,766.2 322.7,781.3 279.4,791.9" fill="#fff" stroke="#000" stroke-width="1.5" />
<polygon points="254.4,777.5 293,768.1 317.5,780.3 279,789.8" fill="none" stroke="#000" stroke-width="0.6" />
<polygon points="275.7,780.4 293,776.2 301.8,780.6 284.5,784.8" fill="#222" stroke="#000" stroke-width="0.5" />
<line x1="277.9" y1="781.5" x2="295.2" y2="777.3" stroke="#fff" stroke-width="0.4"/>
<line x1="280.1" y1="782.6" x2="297.4" y2="778.4" stroke="#fff" stroke-width="0.4"/>
<line x1="282.3" y1="783.7" x2="299.6" y2="779.5" stroke="#fff" stroke-width="0.4"/>
<polygon points="248.3,650.7 253.1,652.8 255.1,763.8 250.3,761.7" fill="#fff" stroke="#000" stroke-width="1.4" />
<polygon points="248.3,650.7 292.7,641.8 297.5,643.9 253.1,652.8" fill="#fff" stroke="#000" stroke-width="1.4" />
<polygon points="290.8,644.1 295.6,646.2 297.5,753.3 292.7,751.3" fill="#fff" stroke="#000" stroke-width="1.4" />
<polygon points="252.2,759.4 292.7,751.3 297.5,753.3 257,761.5" fill="#fff" stroke="#000" stroke-width="1.4" />
<path d="M253.1,652.8 L297.5,643.9 L299.5,754.9 L255.1,763.8 Z M255.1,654.3 L295.6,646.2 L297.5,753.3 L257,761.5 Z" fill="#fff" stroke="#000" stroke-width="1.4" fill-rule="evenodd"/>
<polygon points="286.5,650.1 288.3,649.7 290.1,753.5 288.3,753.9" fill="#000" stroke="#000" stroke-width="0.9" />
<polygon points="292.2,648.9 294,648.6 295.8,752.4 294,752.7" fill="#fff" stroke="#000" stroke-width="0.9" />
<polygon points="294,648.6 295.2,648.3 297,752.1 295.8,752.4" fill="#000" stroke="#000" stroke-width="0.9" />
<polygon points="294.4,657.7 296.2,657.4 315,665.5 313.2,665.8" fill="#fff" stroke="#000" stroke-width="1.1" />
<polygon points="294.4,657.7 313.2,665.8 313.3,669.7 294.5,661.6" fill="#fff" stroke="#000" stroke-width="1.1" />
<line x1="294.5" y1="659.9" x2="313.3" y2="668" stroke="#000" stroke-width="1.1"/>
<polygon points="295.1,693.1 296.9,692.8 315.7,700.9 313.9,701.2" fill="#fff" stroke="#000" stroke-width="1.1" />
<polygon points="295.1,693.1 313.9,701.2 313.9,705.1 295.1,697" fill="#fff" stroke="#000" stroke-width="1.1" />
<line x1="295.1" y1="695.3" x2="313.9" y2="703.4" stroke="#000" stroke-width="1.1"/>
<polygon points="295.9,737.5 297.7,737.2 316.5,745.3 314.7,745.6" fill="#fff" stroke="#000" stroke-width="1.1" />
<polygon points="295.9,737.5 314.7,745.6 314.7,749.5 295.9,741.4" fill="#fff" stroke="#000" stroke-width="1.1" />
<line x1="295.9" y1="739.7" x2="314.7" y2="747.8" stroke="#000" stroke-width="1.1"/>
<polygon points="259.2,655.5 261,655.2 262.8,759 261,759.3" fill="#fff" stroke="#000" stroke-width="0.9" />
<polygon points="261,655.2 263.4,654.7 265.2,758.5 262.8,759" fill="#000" stroke="#000" stroke-width="0.9" />
<polygon points="290,657.9 295.1,659.1 295.1,663.9 290,662.7" fill="#000" stroke="#000" stroke-width="0.5" />
<line x1="291.6" y1="659.7" x2="291.6" y2="662" stroke="#fff" stroke-width="0.6"/>
<line x1="293.2" y1="660" x2="293.2" y2="662.3" stroke="#fff" stroke-width="0.6"/>
<line x1="290.9" y1="660.7" x2="293.9" y2="661.2" stroke="#fff" stroke-width="0.5"/>
<polygon points="290.6,693.3 295.7,694.5 295.7,699.3 290.6,698.1" fill="#000" stroke="#000" stroke-width="0.5" />
<line x1="292.2" y1="695.1" x2="292.2" y2="697.4" stroke="#fff" stroke-width="0.6"/>
<line x1="293.8" y1="695.4" x2="293.8" y2="697.7" stroke="#fff" stroke-width="0.6"/>
<line x1="291.6" y1="696.1" x2="294.6" y2="696.6" stroke="#fff" stroke-width="0.5"/>
<polygon points="291.4,737.7 296.5,738.9 296.5,743.7 291.4,742.5" fill="#000" stroke="#000" stroke-width="0.5" />
<line x1="293" y1="739.5" x2="293" y2="741.8" stroke="#fff" stroke-width="0.6"/>
<line x1="294.6" y1="739.8" x2="294.6" y2="742.1" stroke="#fff" stroke-width="0.6"/>
<line x1="292.4" y1="740.5" x2="295.4" y2="741" stroke="#fff" stroke-width="0.5"/>
<polygon points="254.8,665.7 256.6,665.3 275.4,673.4 273.6,673.7" fill="#fff" stroke="#000" stroke-width="1.1" />
<polygon points="254.8,665.7 273.6,673.7 273.7,677.6 254.9,669.6" fill="#fff" stroke="#000" stroke-width="1.1" />
<line x1="254.9" y1="667.8" x2="273.7" y2="675.9" stroke="#000" stroke-width="1.1"/>
<polygon points="255.5,701.1 257.3,700.7 276.1,708.8 274.3,709.1" fill="#fff" stroke="#000" stroke-width="1.1" />
<polygon points="255.5,701.1 274.3,709.1 274.3,713 255.5,705" fill="#fff" stroke="#000" stroke-width="1.1" />
<line x1="255.5" y1="703.2" x2="274.3" y2="711.3" stroke="#000" stroke-width="1.1"/>
<polygon points="256.3,745.5 258.1,745.1 276.9,753.2 275.1,753.5" fill="#fff" stroke="#000" stroke-width="1.1" />
<polygon points="256.3,745.5 275.1,753.5 275.1,757.4 256.3,749.4" fill="#fff" stroke="#000" stroke-width="1.1" />
<line x1="256.3" y1="747.6" x2="275.1" y2="755.7" stroke="#000" stroke-width="1.1"/>
<polygon points="256.4,664.6 261.5,665.8 261.5,670.6 256.4,669.4" fill="#000" stroke="#000" stroke-width="0.5" />
<line x1="258" y1="666.4" x2="258" y2="668.7" stroke="#fff" stroke-width="0.6"/>
<line x1="259.6" y1="666.7" x2="259.6" y2="669" stroke="#fff" stroke-width="0.6"/>
<line x1="257.3" y1="667.4" x2="260.3" y2="668" stroke="#fff" stroke-width="0.5"/>
<polygon points="257,700 262.1,701.2 262.1,706 257,704.8" fill="#000" stroke="#000" stroke-width="0.5" />
<line x1="258.6" y1="701.8" x2="258.6" y2="704.1" stroke="#fff" stroke-width="0.6"/>
<line x1="260.2" y1="702.1" x2="260.2" y2="704.4" stroke="#fff" stroke-width="0.6"/>
<line x1="258" y1="702.8" x2="261" y2="703.4" stroke="#fff" stroke-width="0.5"/>
<polygon points="257.8,744.4 262.9,745.6 262.9,750.4 257.8,749.2" fill="#000" stroke="#000" stroke-width="0.5" />
<line x1="259.4" y1="746.2" x2="259.4" y2="748.5" stroke="#fff" stroke-width="0.6"/>
<line x1="261" y1="746.5" x2="261" y2="748.8" stroke="#fff" stroke-width="0.6"/>
<line x1="258.8" y1="747.2" x2="261.8" y2="747.8" stroke="#fff" stroke-width="0.5"/>
<polygon points="304.9,659.5 308.8,658.8 310.7,762.6 306.8,763.3" fill="#000" stroke="#000" stroke-width="0.9" />
<polygon points="309,658.7 313,657.9 314.9,761.7 310.9,762.5" fill="#fff" stroke="#000" stroke-width="0.9" />
<polygon points="313.2,657.9 314.5,657.6 316.4,761.4 315,761.7" fill="#000" stroke="#000" stroke-width="0.9" />
<polygon points="283.6,663.8 285.4,663.4 287.3,767.2 285.5,767.6" fill="#fff" stroke="#000" stroke-width="0.9" />
<polygon points="285.4,663.4 286.2,663.3 288,767.1 287.3,767.2" fill="#000" stroke="#000" stroke-width="0.9" />
<polygon points="289,662.7 290.8,662.4 292.7,766.2 290.9,766.5" fill="#fff" stroke="#000" stroke-width="0.9" />
<polygon points="261.9,709 284.1,704.6 305.7,713.9 283.5,718.3" fill="#fff" stroke="#000" stroke-width="0.9" />
<polygon points="261.9,709 283.5,718.3 283.6,719.6 262,710.3" fill="#fff" stroke="#000" stroke-width="0.9" />
<polygon points="283.5,718.3 305.7,713.9 305.8,715.2 283.6,719.6" fill="#fff" stroke="#000" stroke-width="0.9" />
<ellipse cx="267.8" cy="709.8" rx="0.8" ry="0.5" fill="#000" stroke="none" stroke-width="1" transform="rotate(-10 267.8 709.8)"/>
<ellipse cx="273.2" cy="711.2" rx="0.8" ry="0.5" fill="#000" stroke="none" stroke-width="1" transform="rotate(-10 273.2 711.2)"/>
<ellipse cx="275.5" cy="713.1" rx="0.8" ry="0.5" fill="#000" stroke="none" stroke-width="1" transform="rotate(-10 275.5 713.1)"/>
<ellipse cx="280.8" cy="714.5" rx="0.8" ry="0.5" fill="#000" stroke="none" stroke-width="1" transform="rotate(-10 280.8 714.5)"/>
<ellipse cx="283.2" cy="716.4" rx="0.8" ry="0.5" fill="#000" stroke="none" stroke-width="1" transform="rotate(-10 283.2 716.4)"/>
<ellipse cx="270.8" cy="709.2" rx="0.8" ry="0.5" fill="#000" stroke="none" stroke-width="1" transform="rotate(-10 270.8 709.2)"/>
<ellipse cx="276.2" cy="710.6" rx="0.8" ry="0.5" fill="#000" stroke="none" stroke-width="1" transform="rotate(-10 276.2 710.6)"/>
<ellipse cx="278.5" cy="712.5" rx="0.8" ry="0.5" fill="#000" stroke="none" stroke-width="1" transform="rotate(-10 278.5 712.5)"/>
<ellipse cx="283.9" cy="713.9" rx="0.8" ry="0.5" fill="#000" stroke="none" stroke-width="1" transform="rotate(-10 283.9 713.9)"/>
<ellipse cx="286.2" cy="715.8" rx="0.8" ry="0.5" fill="#000" stroke="none" stroke-width="1" transform="rotate(-10 286.2 715.8)"/>
<ellipse cx="273.9" cy="708.6" rx="0.8" ry="0.5" fill="#000" stroke="none" stroke-width="1" transform="rotate(-10 273.9 708.6)"/>
<ellipse cx="279.2" cy="710" rx="0.8" ry="0.5" fill="#000" stroke="none" stroke-width="1" transform="rotate(-10 279.2 710)"/>
<ellipse cx="281.6" cy="711.9" rx="0.8" ry="0.5" fill="#000" stroke="none" stroke-width="1" transform="rotate(-10 281.6 711.9)"/>
<ellipse cx="286.9" cy="713.3" rx="0.8" ry="0.5" fill="#000" stroke="none" stroke-width="1" transform="rotate(-10 286.9 713.3)"/>
<ellipse cx="289.2" cy="715.2" rx="0.8" ry="0.5" fill="#000" stroke="none" stroke-width="1" transform="rotate(-10 289.2 715.2)"/>
<ellipse cx="276.9" cy="708" rx="0.8" ry="0.5" fill="#000" stroke="none" stroke-width="1" transform="rotate(-10 276.9 708)"/>
<ellipse cx="282.3" cy="709.3" rx="0.8" ry="0.5" fill="#000" stroke="none" stroke-width="1" transform="rotate(-10 282.3 709.3)"/>
<ellipse cx="284.6" cy="711.3" rx="0.8" ry="0.5" fill="#000" stroke="none" stroke-width="1" transform="rotate(-10 284.6 711.3)"/>
<ellipse cx="290" cy="712.6" rx="0.8" ry="0.5" fill="#000" stroke="none" stroke-width="1" transform="rotate(-10 290 712.6)"/>
<ellipse cx="292.3" cy="714.6" rx="0.8" ry="0.5" fill="#000" stroke="none" stroke-width="1" transform="rotate(-10 292.3 714.6)"/>
<ellipse cx="280" cy="707.4" rx="0.8" ry="0.5" fill="#000" stroke="none" stroke-width="1" transform="rotate(-10 280 707.4)"/>
<ellipse cx="285.3" cy="708.7" rx="0.8" ry="0.5" fill="#000" stroke="none" stroke-width="1" transform="rotate(-10 285.3 708.7)"/>
<ellipse cx="287.7" cy="710.7" rx="0.8" ry="0.5" fill="#000" stroke="none" stroke-width="1" transform="rotate(-10 287.7 710.7)"/>
<ellipse cx="293" cy="712" rx="0.8" ry="0.5" fill="#000" stroke="none" stroke-width="1" transform="rotate(-10 293 712)"/>
<ellipse cx="295.3" cy="714" rx="0.8" ry="0.5" fill="#000" stroke="none" stroke-width="1" transform="rotate(-10 295.3 714)"/>
<ellipse cx="283" cy="706.8" rx="0.8" ry="0.5" fill="#000" stroke="none" stroke-width="1" transform="rotate(-10 283 706.8)"/>
<ellipse cx="288.4" cy="708.1" rx="0.8" ry="0.5" fill="#000" stroke="none" stroke-width="1" transform="rotate(-10 288.4 708.1)"/>
<ellipse cx="290.7" cy="710.1" rx="0.8" ry="0.5" fill="#000" stroke="none" stroke-width="1" transform="rotate(-10 290.7 710.1)"/>
<ellipse cx="296.1" cy="711.4" rx="0.8" ry="0.5" fill="#000" stroke="none" stroke-width="1" transform="rotate(-10 296.1 711.4)"/>
<ellipse cx="298.4" cy="713.4" rx="0.8" ry="0.5" fill="#000" stroke="none" stroke-width="1" transform="rotate(-10 298.4 713.4)"/>
<polygon points="262.4,734.8 284.6,730.4 306.2,739.7 284,744.1" fill="#fff" stroke="#000" stroke-width="0.9" />
<polygon points="262.4,734.8 284,744.1 284,745.4 262.4,736.1" fill="#fff" stroke="#000" stroke-width="0.9" />
<polygon points="284,744.1 306.2,739.7 306.2,741 284,745.4" fill="#fff" stroke="#000" stroke-width="0.9" />
<ellipse cx="268.3" cy="735.6" rx="0.8" ry="0.5" fill="#000" stroke="none" stroke-width="1" transform="rotate(-10 268.3 735.6)"/>
<ellipse cx="273.6" cy="737" rx="0.8" ry="0.5" fill="#000" stroke="none" stroke-width="1" transform="rotate(-10 273.6 737)"/>
<ellipse cx="275.9" cy="738.9" rx="0.8" ry="0.5" fill="#000" stroke="none" stroke-width="1" transform="rotate(-10 275.9 738.9)"/>
<ellipse cx="281.3" cy="740.3" rx="0.8" ry="0.5" fill="#000" stroke="none" stroke-width="1" transform="rotate(-10 281.3 740.3)"/>
<ellipse cx="283.6" cy="742.2" rx="0.8" ry="0.5" fill="#000" stroke="none" stroke-width="1" transform="rotate(-10 283.6 742.2)"/>
<ellipse cx="271.3" cy="735" rx="0.8" ry="0.5" fill="#000" stroke="none" stroke-width="1" transform="rotate(-10 271.3 735)"/>
<ellipse cx="276.7" cy="736.4" rx="0.8" ry="0.5" fill="#000" stroke="none" stroke-width="1" transform="rotate(-10 276.7 736.4)"/>
<ellipse cx="279" cy="738.3" rx="0.8" ry="0.5" fill="#000" stroke="none" stroke-width="1" transform="rotate(-10 279 738.3)"/>
<ellipse cx="284.3" cy="739.7" rx="0.8" ry="0.5" fill="#000" stroke="none" stroke-width="1" transform="rotate(-10 284.3 739.7)"/>
<ellipse cx="286.7" cy="741.6" rx="0.8" ry="0.5" fill="#000" stroke="none" stroke-width="1" transform="rotate(-10 286.7 741.6)"/>
<ellipse cx="274.3" cy="734.4" rx="0.8" ry="0.5" fill="#000" stroke="none" stroke-width="1" transform="rotate(-10 274.3 734.4)"/>
<ellipse cx="279.7" cy="735.8" rx="0.8" ry="0.5" fill="#000" stroke="none" stroke-width="1" transform="rotate(-10 279.7 735.8)"/>
<ellipse cx="282" cy="737.7" rx="0.8" ry="0.5" fill="#000" stroke="none" stroke-width="1" transform="rotate(-10 282 737.7)"/>
<ellipse cx="287.4" cy="739.1" rx="0.8" ry="0.5" fill="#000" stroke="none" stroke-width="1" transform="rotate(-10 287.4 739.1)"/>
<ellipse cx="289.7" cy="741" rx="0.8" ry="0.5" fill="#000" stroke="none" stroke-width="1" transform="rotate(-10 289.7 741)"/>
<ellipse cx="277.4" cy="733.8" rx="0.8" ry="0.5" fill="#000" stroke="none" stroke-width="1" transform="rotate(-10 277.4 733.8)"/>
<ellipse cx="282.8" cy="735.1" rx="0.8" ry="0.5" fill="#000" stroke="none" stroke-width="1" transform="rotate(-10 282.8 735.1)"/>
<ellipse cx="285.1" cy="737.1" rx="0.8" ry="0.5" fill="#000" stroke="none" stroke-width="1" transform="rotate(-10 285.1 737.1)"/>
<ellipse cx="290.4" cy="738.4" rx="0.8" ry="0.5" fill="#000" stroke="none" stroke-width="1" transform="rotate(-10 290.4 738.4)"/>
<ellipse cx="292.8" cy="740.4" rx="0.8" ry="0.5" fill="#000" stroke="none" stroke-width="1" transform="rotate(-10 292.8 740.4)"/>
<ellipse cx="280.4" cy="733.2" rx="0.8" ry="0.5" fill="#000" stroke="none" stroke-width="1" transform="rotate(-10 280.4 733.2)"/>
<ellipse cx="285.8" cy="734.5" rx="0.8" ry="0.5" fill="#000" stroke="none" stroke-width="1" transform="rotate(-10 285.8 734.5)"/>
<ellipse cx="288.1" cy="736.5" rx="0.8" ry="0.5" fill="#000" stroke="none" stroke-width="1" transform="rotate(-10 288.1 736.5)"/>
<ellipse cx="293.5" cy="737.8" rx="0.8" ry="0.5" fill="#000" stroke="none" stroke-width="1" transform="rotate(-10 293.5 737.8)"/>
<ellipse cx="295.8" cy="739.8" rx="0.8" ry="0.5" fill="#000" stroke="none" stroke-width="1" transform="rotate(-10 295.8 739.8)"/>
<ellipse cx="283.5" cy="732.6" rx="0.8" ry="0.5" fill="#000" stroke="none" stroke-width="1" transform="rotate(-10 283.5 732.6)"/>
<ellipse cx="288.8" cy="733.9" rx="0.8" ry="0.5" fill="#000" stroke="none" stroke-width="1" transform="rotate(-10 288.8 733.9)"/>
<ellipse cx="291.2" cy="735.9" rx="0.8" ry="0.5" fill="#000" stroke="none" stroke-width="1" transform="rotate(-10 291.2 735.9)"/>
<ellipse cx="296.5" cy="737.2" rx="0.8" ry="0.5" fill="#000" stroke="none" stroke-width="1" transform="rotate(-10 296.5 737.2)"/>
<ellipse cx="298.8" cy="739.2" rx="0.8" ry="0.5" fill="#000" stroke="none" stroke-width="1" transform="rotate(-10 298.8 739.2)"/>
<polygon points="276.7,665.2 279.4,664.6 281.3,768.4 278.6,769" fill="#fff" stroke="#000" stroke-width="0.9" />
<polygon points="279.4,664.6 280.6,664.4 282.5,768.2 281.3,768.4" fill="#000" stroke="#000" stroke-width="0.9" />
<polygon points="280.9,664.3 283.3,663.9 285.2,767.7 282.8,768.1" fill="#fff" stroke="#000" stroke-width="0.9" />
<polygon points="309.4,666.8 314.5,668 314.5,672.8 309.4,671.6" fill="#000" stroke="#000" stroke-width="0.5" />
<line x1="311" y1="668.6" x2="311" y2="670.9" stroke="#fff" stroke-width="0.6"/>
<line x1="312.5" y1="668.9" x2="312.5" y2="671.2" stroke="#fff" stroke-width="0.6"/>
<line x1="310.3" y1="669.6" x2="313.3" y2="670.1" stroke="#fff" stroke-width="0.5"/>
<polygon points="277,673.3 282.1,674.5 282.1,679.3 277,678.1" fill="#000" stroke="#000" stroke-width="0.5" />
<line x1="278.6" y1="675.1" x2="278.6" y2="677.3" stroke="#fff" stroke-width="0.6"/>
<line x1="280.1" y1="675.4" x2="280.1" y2="677.7" stroke="#fff" stroke-width="0.6"/>
<line x1="277.9" y1="676.1" x2="280.9" y2="676.6" stroke="#fff" stroke-width="0.5"/>
<polygon points="310,702.2 315.1,703.4 315.1,708.2 310,707" fill="#000" stroke="#000" stroke-width="0.5" />
<line x1="311.6" y1="704" x2="311.6" y2="706.3" stroke="#fff" stroke-width="0.6"/>
<line x1="313.2" y1="704.3" x2="313.2" y2="706.6" stroke="#fff" stroke-width="0.6"/>
<line x1="310.9" y1="705" x2="313.9" y2="705.5" stroke="#fff" stroke-width="0.5"/>
<polygon points="277.6,708.7 282.7,709.9 282.7,714.7 277.6,713.5" fill="#000" stroke="#000" stroke-width="0.5" />
<line x1="279.2" y1="710.5" x2="279.2" y2="712.7" stroke="#fff" stroke-width="0.6"/>
<line x1="280.8" y1="710.8" x2="280.8" y2="713.1" stroke="#fff" stroke-width="0.6"/>
<line x1="278.5" y1="711.5" x2="281.5" y2="712" stroke="#fff" stroke-width="0.5"/>
<polygon points="310.8,746.6 315.9,747.8 315.9,752.6 310.8,751.4" fill="#000" stroke="#000" stroke-width="0.5" />
<line x1="312.4" y1="748.4" x2="312.4" y2="750.7" stroke="#fff" stroke-width="0.6"/>
<line x1="314" y1="748.7" x2="314" y2="751" stroke="#fff" stroke-width="0.6"/>
<line x1="311.7" y1="749.4" x2="314.7" y2="749.9" stroke="#fff" stroke-width="0.5"/>
<polygon points="278.4,753.1 283.5,754.3 283.5,759.1 278.4,757.9" fill="#000" stroke="#000" stroke-width="0.5" />
<line x1="280" y1="754.9" x2="280" y2="757.1" stroke="#fff" stroke-width="0.6"/>
<line x1="281.6" y1="755.2" x2="281.6" y2="757.5" stroke="#fff" stroke-width="0.6"/>
<line x1="279.3" y1="755.9" x2="282.3" y2="756.4" stroke="#fff" stroke-width="0.5"/>
<polygon points="271.9,660.8 275.5,662.4 277.5,773.4 273.9,771.8" fill="#fff" stroke="#000" stroke-width="1.4" />
<polygon points="271.9,660.8 316.3,652 319.9,653.5 275.5,662.4" fill="#fff" stroke="#000" stroke-width="1.4" />
<polygon points="314.4,654.3 318,655.8 319.9,763 316.3,761.4" fill="#fff" stroke="#000" stroke-width="1.4" />
<polygon points="275.8,769.5 316.3,761.4 319.9,763 279.4,771.1" fill="#fff" stroke="#000" stroke-width="1.4" />
<path d="M275.5,662.4 L319.9,653.5 L321.9,764.5 L277.5,773.4 Z M277.4,663.9 L318,655.8 L319.9,763 L279.4,771.1 Z" fill="#fff" stroke="#000" stroke-width="1.4" fill-rule="evenodd"/>
<line x1="253.4" y1="789.7" x2="253.4" y2="796.7" stroke="#000" stroke-width="1.1"/>
<ellipse cx="253.4" cy="796.7" rx="1.1" ry="0.7" fill="#000" stroke="none" stroke-width="1"/>
<polygon points="252.6,794.3 260.1,793.1 260.4,794.4 252.9,795.7" fill="#000" stroke="#000" stroke-width="0.5" />
<polygon points="253.8,795.2 258.9,794.3 258.1,797.6 254.5,797.9" fill="#000" stroke="#000" stroke-width="0.5" />
<ellipse cx="256.2" cy="798.2" rx="2.2" ry="2.9" fill="#000" stroke="#000" stroke-width="0.4" transform="rotate(-10 256.2 798.2)"/>
<ellipse cx="256" cy="798.4" rx="1" ry="1.7" fill="#fff" stroke="none" stroke-width="1" transform="rotate(-10 256 798.4)"/>
<ellipse cx="256.4" cy="798.3" rx="0.5" ry="1" fill="#000" stroke="none" stroke-width="1" transform="rotate(-10 256.4 798.3)"/>
<polygon points="290.9,789.7 298.4,788.5 298.7,789.8 291.2,791.1" fill="#000" stroke="#000" stroke-width="0.5" />
<polygon points="292.1,790.6 297.2,789.7 296.4,793 292.8,793.3" fill="#000" stroke="#000" stroke-width="0.5" />
<ellipse cx="294.5" cy="793.6" rx="2.2" ry="2.9" fill="#000" stroke="#000" stroke-width="0.4" transform="rotate(-10 294.5 793.6)"/>
<ellipse cx="294.3" cy="793.8" rx="1" ry="1.7" fill="#fff" stroke="none" stroke-width="1" transform="rotate(-10 294.3 793.8)"/>
<ellipse cx="294.7" cy="793.7" rx="0.5" ry="1" fill="#000" stroke="none" stroke-width="1" transform="rotate(-10 294.7 793.7)"/>
<line x1="279.8" y1="807.2" x2="279.8" y2="811.7" stroke="#000" stroke-width="1.1"/>
<ellipse cx="279.8" cy="811.7" rx="1.1" ry="0.7" fill="#000" stroke="none" stroke-width="1"/>
<polygon points="274,804.3 281.5,803.1 281.8,804.4 274.3,805.7" fill="#000" stroke="#000" stroke-width="0.5" />
<polygon points="275.2,805.2 280.3,804.3 279.5,807.6 275.9,807.9" fill="#000" stroke="#000" stroke-width="0.5" />
<ellipse cx="277.6" cy="808.2" rx="2.2" ry="2.9" fill="#000" stroke="#000" stroke-width="0.4" transform="rotate(-10 277.6 808.2)"/>
<ellipse cx="277.4" cy="808.4" rx="1" ry="1.7" fill="#fff" stroke="none" stroke-width="1" transform="rotate(-10 277.4 808.4)"/>
<ellipse cx="277.8" cy="808.3" rx="0.5" ry="1" fill="#000" stroke="none" stroke-width="1" transform="rotate(-10 277.8 808.3)"/>
<line x1="319.1" y1="797.1" x2="319.1" y2="805.1" stroke="#000" stroke-width="1.1"/>
<ellipse cx="319.1" cy="805.1" rx="1.1" ry="0.7" fill="#000" stroke="none" stroke-width="1"/>
<polygon points="311.7,797.7 319.2,796.5 319.5,797.8 312,799.1" fill="#000" stroke="#000" stroke-width="0.5" />
<polygon points="312.9,798.6 318,797.7 317.2,801 313.6,801.3" fill="#000" stroke="#000" stroke-width="0.5" />
<ellipse cx="315.3" cy="801.6" rx="2.2" ry="2.9" fill="#000" stroke="#000" stroke-width="0.4" transform="rotate(-10 315.3 801.6)"/>
<ellipse cx="315.1" cy="801.8" rx="1" ry="1.7" fill="#fff" stroke="none" stroke-width="1" transform="rotate(-10 315.1 801.8)"/>
<ellipse cx="315.5" cy="801.7" rx="0.5" ry="1" fill="#000" stroke="none" stroke-width="1" transform="rotate(-10 315.5 801.7)"/>
</g>
<g transform="translate(350 0)">
<polygon points="247.3,607.8 276.1,620.4 276.1,622.1 247.3,609.5" fill="#000" stroke="#000" stroke-width="0.9" />
<polygon points="276.1,620.4 320.5,610.4 320.5,612.1 276.1,622.1" fill="#000" stroke="#000" stroke-width="0.9" />
<polygon points="247.3,607.8 292,598.2 320.5,610.4 276.1,620.4" fill="#fff" stroke="#000" stroke-width="1.4" />
<ellipse cx="273.8" cy="608.7" rx="4" ry="1.5" fill="#000" stroke="none" stroke-width="1" transform="rotate(-8 273.8 608.7)"/>
<ellipse cx="285.6" cy="606.1" rx="4" ry="1.5" fill="#000" stroke="none" stroke-width="1" transform="rotate(-8 285.6 606.1)"/>
<ellipse cx="281.8" cy="612.2" rx="4" ry="1.5" fill="#000" stroke="none" stroke-width="1" transform="rotate(-8 281.8 612.2)"/>
<ellipse cx="293.6" cy="609.6" rx="4" ry="1.5" fill="#000" stroke="none" stroke-width="1" transform="rotate(-8 293.6 609.6)"/>
<polygon points="261.7,605.6 280.9,601.5 282.3,602.1 263.1,606.3" fill="#000" stroke="#000" stroke-width="0.6" />
<polygon points="284.7,615.6 302.4,611.7 303.9,612.3 286.1,616.3" fill="#fff" stroke="#000" stroke-width="0.7" />
<path d="M262,622.5 C259.5,624 259,626.5 262,628" fill="none" stroke="#000" stroke-width="0.8" />
<polygon points="261.7,628.5 281.9,637.6 281.9,638.6 261.7,629.5" fill="#000" stroke="#000" stroke-width="0.8" />
<polygon points="281.9,637.6 304.6,631.8 304.6,632.8 281.9,638.6" fill="#000" stroke="#000" stroke-width="0.8" />
<polygon points="261.7,628.5 285.7,623.5 304.6,631.8 281.9,637.6" fill="#fff" stroke="#000" stroke-width="1.5" />
<polygon points="265.4,629.1 285.9,624.7 301.1,631.4 281.5,636.3" fill="none" stroke="#000" stroke-width="0.9" />
<ellipse cx="274.3" cy="630.2" rx="4.6" ry="1.8" fill="#000" stroke="none" stroke-width="1" transform="rotate(-8 274.3 630.2)"/>
<ellipse cx="285.3" cy="627.7" rx="4.6" ry="1.8" fill="#000" stroke="none" stroke-width="1" transform="rotate(-8 285.3 627.7)"/>
<ellipse cx="282" cy="633.7" rx="4.6" ry="1.8" fill="#000" stroke="none" stroke-width="1" transform="rotate(-8 282 633.7)"/>
<ellipse cx="292.9" cy="631" rx="4.6" ry="1.8" fill="#000" stroke="none" stroke-width="1" transform="rotate(-8 292.9 631)"/>
<polygon points="249.1,776.8 279.4,791.9 279.4,794.3 249.1,779.2" fill="#fff" stroke="#000" stroke-width="0.9" />
<polygon points="279.4,791.9 322.7,781.3 322.7,783.7 279.4,794.3" fill="#000" stroke="#000" stroke-width="0.9" />
<polygon points="249.1,776.8 292.4,766.2 322.7,781.3 279.4,791.9" fill="#fff" stroke="#000" stroke-width="1.5" />
<polygon points="254.4,777.5 293,768.1 317.5,780.3 279,789.8" fill="none" stroke="#000" stroke-width="0.6" />
<polygon points="275.7,780.4 293,776.2 301.8,780.6 284.5,784.8" fill="#222" stroke="#000" stroke-width="0.5" />
<line x1="277.9" y1="781.5" x2="295.2" y2="777.3" stroke="#fff" stroke-width="0.4"/>
<line x1="280.1" y1="782.6" x2="297.4" y2="778.4" stroke="#fff" stroke-width="0.4"/>
<line x1="282.3" y1="783.7" x2="299.6" y2="779.5" stroke="#fff" stroke-width="0.4"/>
<polygon points="248.3,650.7 253.1,652.8 255.1,763.8 250.3,761.7" fill="#fff" stroke="#000" stroke-width="1.4" />
<polygon points="248.3,650.7 292.7,641.8 297.5,643.9 253.1,652.8" fill="#fff" stroke="#000" stroke-width="1.4" />
<polygon points="290.8,644.1 295.6,646.2 297.5,753.3 292.7,751.3" fill="#fff" stroke="#000" stroke-width="1.4" />
<polygon points="252.2,759.4 292.7,751.3 297.5,753.3 257,761.5" fill="#fff" stroke="#000" stroke-width="1.4" />
<path d="M253.1,652.8 L297.5,643.9 L299.5,754.9 L255.1,763.8 Z M255.1,654.3 L295.6,646.2 L297.5,753.3 L257,761.5 Z" fill="#fff" stroke="#000" stroke-width="1.4" fill-rule="evenodd"/>
<polygon points="286.5,650.1 288.3,649.7 290.1,753.5 288.3,753.9" fill="#000" stroke="#000" stroke-width="0.9" />
<polygon points="292.2,648.9 294,648.6 295.8,752.4 294,752.7" fill="#fff" stroke="#000" stroke-width="0.9" />
<polygon points="294,648.6 295.2,648.3 297,752.1 295.8,752.4" fill="#000" stroke="#000" stroke-width="0.9" />
<polygon points="294.4,657.7 296.2,657.4 315,665.5 313.2,665.8" fill="#fff" stroke="#000" stroke-width="1.1" />
<polygon points="294.4,657.7 313.2,665.8 313.3,669.7 294.5,661.6" fill="#fff" stroke="#000" stroke-width="1.1" />
<line x1="294.5" y1="659.9" x2="313.3" y2="668" stroke="#000" stroke-width="1.1"/>
<polygon points="295.1,693.1 296.9,692.8 315.7,700.9 313.9,701.2" fill="#fff" stroke="#000" stroke-width="1.1" />
<polygon points="295.1,693.1 313.9,701.2 313.9,705.1 295.1,697" fill="#fff" stroke="#000" stroke-width="1.1" />
<line x1="295.1" y1="695.3" x2="313.9" y2="703.4" stroke="#000" stroke-width="1.1"/>
<polygon points="295.9,737.5 297.7,737.2 316.5,745.3 314.7,745.6" fill="#fff" stroke="#000" stroke-width="1.1" />
<polygon points="295.9,737.5 314.7,745.6 314.7,749.5 295.9,741.4" fill="#fff" stroke="#000" stroke-width="1.1" />
<line x1="295.9" y1="739.7" x2="314.7" y2="747.8" stroke="#000" stroke-width="1.1"/>
<polygon points="259.2,655.5 261,655.2 262.8,759 261,759.3" fill="#fff" stroke="#000" stroke-width="0.9" />
<polygon points="261,655.2 263.4,654.7 265.2,758.5 262.8,759" fill="#000" stroke="#000" stroke-width="0.9" />
<polygon points="290,657.9 295.1,659.1 295.1,663.9 290,662.7" fill="#000" stroke="#000" stroke-width="0.5" />
<line x1="291.6" y1="659.7" x2="291.6" y2="662" stroke="#fff" stroke-width="0.6"/>
<line x1="293.2" y1="660" x2="293.2" y2="662.3" stroke="#fff" stroke-width="0.6"/>
<line x1="290.9" y1="660.7" x2="293.9" y2="661.2" stroke="#fff" stroke-width="0.5"/>
<polygon points="290.6,693.3 295.7,694.5 295.7,699.3 290.6,698.1" fill="#000" stroke="#000" stroke-width="0.5" />
<line x1="292.2" y1="695.1" x2="292.2" y2="697.4" stroke="#fff" stroke-width="0.6"/>
<line x1="293.8" y1="695.4" x2="293.8" y2="697.7" stroke="#fff" stroke-width="0.6"/>
<line x1="291.6" y1="696.1" x2="294.6" y2="696.6" stroke="#fff" stroke-width="0.5"/>
<polygon points="291.4,737.7 296.5,738.9 296.5,743.7 291.4,742.5" fill="#000" stroke="#000" stroke-width="0.5" />
<line x1="293" y1="739.5" x2="293" y2="741.8" stroke="#fff" stroke-width="0.6"/>
<line x1="294.6" y1="739.8" x2="294.6" y2="742.1" stroke="#fff" stroke-width="0.6"/>
<line x1="292.4" y1="740.5" x2="295.4" y2="741" stroke="#fff" stroke-width="0.5"/>
<polygon points="254.8,665.7 256.6,665.3 275.4,673.4 273.6,673.7" fill="#fff" stroke="#000" stroke-width="1.1" />
<polygon points="254.8,665.7 273.6,673.7 273.7,677.6 254.9,669.6" fill="#fff" stroke="#000" stroke-width="1.1" />
<line x1="254.9" y1="667.8" x2="273.7" y2="675.9" stroke="#000" stroke-width="1.1"/>
<polygon points="255.5,701.1 257.3,700.7 276.1,708.8 274.3,709.1" fill="#fff" stroke="#000" stroke-width="1.1" />
<polygon points="255.5,701.1 274.3,709.1 274.3,713 255.5,705" fill="#fff" stroke="#000" stroke-width="1.1" />
<line x1="255.5" y1="703.2" x2="274.3" y2="711.3" stroke="#000" stroke-width="1.1"/>
<polygon points="256.3,745.5 258.1,745.1 276.9,753.2 275.1,753.5" fill="#fff" stroke="#000" stroke-width="1.1" />
<polygon points="256.3,745.5 275.1,753.5 275.1,757.4 256.3,749.4" fill="#fff" stroke="#000" stroke-width="1.1" />
<line x1="256.3" y1="747.6" x2="275.1" y2="755.7" stroke="#000" stroke-width="1.1"/>
<polygon points="256.4,664.6 261.5,665.8 261.5,670.6 256.4,669.4" fill="#000" stroke="#000" stroke-width="0.5" />
<line x1="258" y1="666.4" x2="258" y2="668.7" stroke="#fff" stroke-width="0.6"/>
<line x1="259.6" y1="666.7" x2="259.6" y2="669" stroke="#fff" stroke-width="0.6"/>
<line x1="257.3" y1="667.4" x2="260.3" y2="668" stroke="#fff" stroke-width="0.5"/>
<polygon points="257,700 262.1,701.2 262.1,706 257,704.8" fill="#000" stroke="#000" stroke-width="0.5" />
<line x1="258.6" y1="701.8" x2="258.6" y2="704.1" stroke="#fff" stroke-width="0.6"/>
<line x1="260.2" y1="702.1" x2="260.2" y2="704.4" stroke="#fff" stroke-width="0.6"/>
<line x1="258" y1="702.8" x2="261" y2="703.4" stroke="#fff" stroke-width="0.5"/>
<polygon points="257.8,744.4 262.9,745.6 262.9,750.4 257.8,749.2" fill="#000" stroke="#000" stroke-width="0.5" />
<line x1="259.4" y1="746.2" x2="259.4" y2="748.5" stroke="#fff" stroke-width="0.6"/>
<line x1="261" y1="746.5" x2="261" y2="748.8" stroke="#fff" stroke-width="0.6"/>
<line x1="258.8" y1="747.2" x2="261.8" y2="747.8" stroke="#fff" stroke-width="0.5"/>
<polygon points="304.9,659.5 308.8,658.8 310.7,762.6 306.8,763.3" fill="#000" stroke="#000" stroke-width="0.9" />
<polygon points="309,658.7 313,657.9 314.9,761.7 310.9,762.5" fill="#fff" stroke="#000" stroke-width="0.9" />
<polygon points="313.2,657.9 314.5,657.6 316.4,761.4 315,761.7" fill="#000" stroke="#000" stroke-width="0.9" />
<polygon points="283.6,663.8 285.4,663.4 287.3,767.2 285.5,767.6" fill="#fff" stroke="#000" stroke-width="0.9" />
<polygon points="285.4,663.4 286.2,663.3 288,767.1 287.3,767.2" fill="#000" stroke="#000" stroke-width="0.9" />
<polygon points="289,662.7 290.8,662.4 292.7,766.2 290.9,766.5" fill="#fff" stroke="#000" stroke-width="0.9" />
<polygon points="261.9,709 284.1,704.6 305.7,713.9 283.5,718.3" fill="#fff" stroke="#000" stroke-width="0.9" />
<polygon points="261.9,709 283.5,718.3 283.6,719.6 262,710.3" fill="#fff" stroke="#000" stroke-width="0.9" />
<polygon points="283.5,718.3 305.7,713.9 305.8,715.2 283.6,719.6" fill="#fff" stroke="#000" stroke-width="0.9" />
<ellipse cx="267.8" cy="709.8" rx="0.8" ry="0.5" fill="#000" stroke="none" stroke-width="1" transform="rotate(-10 267.8 709.8)"/>
<ellipse cx="273.2" cy="711.2" rx="0.8" ry="0.5" fill="#000" stroke="none" stroke-width="1" transform="rotate(-10 273.2 711.2)"/>
<ellipse cx="275.5" cy="713.1" rx="0.8" ry="0.5" fill="#000" stroke="none" stroke-width="1" transform="rotate(-10 275.5 713.1)"/>
<ellipse cx="280.8" cy="714.5" rx="0.8" ry="0.5" fill="#000" stroke="none" stroke-width="1" transform="rotate(-10 280.8 714.5)"/>
<ellipse cx="283.2" cy="716.4" rx="0.8" ry="0.5" fill="#000" stroke="none" stroke-width="1" transform="rotate(-10 283.2 716.4)"/>
<ellipse cx="270.8" cy="709.2" rx="0.8" ry="0.5" fill="#000" stroke="none" stroke-width="1" transform="rotate(-10 270.8 709.2)"/>
<ellipse cx="276.2" cy="710.6" rx="0.8" ry="0.5" fill="#000" stroke="none" stroke-width="1" transform="rotate(-10 276.2 710.6)"/>
<ellipse cx="278.5" cy="712.5" rx="0.8" ry="0.5" fill="#000" stroke="none" stroke-width="1" transform="rotate(-10 278.5 712.5)"/>
<ellipse cx="283.9" cy="713.9" rx="0.8" ry="0.5" fill="#000" stroke="none" stroke-width="1" transform="rotate(-10 283.9 713.9)"/>
<ellipse cx="286.2" cy="715.8" rx="0.8" ry="0.5" fill="#000" stroke="none" stroke-width="1" transform="rotate(-10 286.2 715.8)"/>
<ellipse cx="273.9" cy="708.6" rx="0.8" ry="0.5" fill="#000" stroke="none" stroke-width="1" transform="rotate(-10 273.9 708.6)"/>
<ellipse cx="279.2" cy="710" rx="0.8" ry="0.5" fill="#000" stroke="none" stroke-width="1" transform="rotate(-10 279.2 710)"/>
<ellipse cx="281.6" cy="711.9" rx="0.8" ry="0.5" fill="#000" stroke="none" stroke-width="1" transform="rotate(-10 281.6 711.9)"/>
<ellipse cx="286.9" cy="713.3" rx="0.8" ry="0.5" fill="#000" stroke="none" stroke-width="1" transform="rotate(-10 286.9 713.3)"/>
<ellipse cx="289.2" cy="715.2" rx="0.8" ry="0.5" fill="#000" stroke="none" stroke-width="1" transform="rotate(-10 289.2 715.2)"/>
<ellipse cx="276.9" cy="708" rx="0.8" ry="0.5" fill="#000" stroke="none" stroke-width="1" transform="rotate(-10 276.9 708)"/>
<ellipse cx="282.3" cy="709.3" rx="0.8" ry="0.5" fill="#000" stroke="none" stroke-width="1" transform="rotate(-10 282.3 709.3)"/>
<ellipse cx="284.6" cy="711.3" rx="0.8" ry="0.5" fill="#000" stroke="none" stroke-width="1" transform="rotate(-10 284.6 711.3)"/>
<ellipse cx="290" cy="712.6" rx="0.8" ry="0.5" fill="#000" stroke="none" stroke-width="1" transform="rotate(-10 290 712.6)"/>
<ellipse cx="292.3" cy="714.6" rx="0.8" ry="0.5" fill="#000" stroke="none" stroke-width="1" transform="rotate(-10 292.3 714.6)"/>
<ellipse cx="280" cy="707.4" rx="0.8" ry="0.5" fill="#000" stroke="none" stroke-width="1" transform="rotate(-10 280 707.4)"/>
<ellipse cx="285.3" cy="708.7" rx="0.8" ry="0.5" fill="#000" stroke="none" stroke-width="1" transform="rotate(-10 285.3 708.7)"/>
<ellipse cx="287.7" cy="710.7" rx="0.8" ry="0.5" fill="#000" stroke="none" stroke-width="1" transform="rotate(-10 287.7 710.7)"/>
<ellipse cx="293" cy="712" rx="0.8" ry="0.5" fill="#000" stroke="none" stroke-width="1" transform="rotate(-10 293 712)"/>
<ellipse cx="295.3" cy="714" rx="0.8" ry="0.5" fill="#000" stroke="none" stroke-width="1" transform="rotate(-10 295.3 714)"/>
<ellipse cx="283" cy="706.8" rx="0.8" ry="0.5" fill="#000" stroke="none" stroke-width="1" transform="rotate(-10 283 706.8)"/>
<ellipse cx="288.4" cy="708.1" rx="0.8" ry="0.5" fill="#000" stroke="none" stroke-width="1" transform="rotate(-10 288.4 708.1)"/>
<ellipse cx="290.7" cy="710.1" rx="0.8" ry="0.5" fill="#000" stroke="none" stroke-width="1" transform="rotate(-10 290.7 710.1)"/>
<ellipse cx="296.1" cy="711.4" rx="0.8" ry="0.5" fill="#000" stroke="none" stroke-width="1" transform="rotate(-10 296.1 711.4)"/>
<ellipse cx="298.4" cy="713.4" rx="0.8" ry="0.5" fill="#000" stroke="none" stroke-width="1" transform="rotate(-10 298.4 713.4)"/>
<polygon points="262.4,734.8 284.6,730.4 306.2,739.7 284,744.1" fill="#fff" stroke="#000" stroke-width="0.9" />
<polygon points="262.4,734.8 284,744.1 284,745.4 262.4,736.1" fill="#fff" stroke="#000" stroke-width="0.9" />
<polygon points="284,744.1 306.2,739.7 306.2,741 284,745.4" fill="#fff" stroke="#000" stroke-width="0.9" />
<ellipse cx="268.3" cy="735.6" rx="0.8" ry="0.5" fill="#000" stroke="none" stroke-width="1" transform="rotate(-10 268.3 735.6)"/>
<ellipse cx="273.6" cy="737" rx="0.8" ry="0.5" fill="#000" stroke="none" stroke-width="1" transform="rotate(-10 273.6 737)"/>
<ellipse cx="275.9" cy="738.9" rx="0.8" ry="0.5" fill="#000" stroke="none" stroke-width="1" transform="rotate(-10 275.9 738.9)"/>
<ellipse cx="281.3" cy="740.3" rx="0.8" ry="0.5" fill="#000" stroke="none" stroke-width="1" transform="rotate(-10 281.3 740.3)"/>
<ellipse cx="283.6" cy="742.2" rx="0.8" ry="0.5" fill="#000" stroke="none" stroke-width="1" transform="rotate(-10 283.6 742.2)"/>
<ellipse cx="271.3" cy="735" rx="0.8" ry="0.5" fill="#000" stroke="none" stroke-width="1" transform="rotate(-10 271.3 735)"/>
<ellipse cx="276.7" cy="736.4" rx="0.8" ry="0.5" fill="#000" stroke="none" stroke-width="1" transform="rotate(-10 276.7 736.4)"/>
<ellipse cx="279" cy="738.3" rx="0.8" ry="0.5" fill="#000" stroke="none" stroke-width="1" transform="rotate(-10 279 738.3)"/>
<ellipse cx="284.3" cy="739.7" rx="0.8" ry="0.5" fill="#000" stroke="none" stroke-width="1" transform="rotate(-10 284.3 739.7)"/>
<ellipse cx="286.7" cy="741.6" rx="0.8" ry="0.5" fill="#000" stroke="none" stroke-width="1" transform="rotate(-10 286.7 741.6)"/>
<ellipse cx="274.3" cy="734.4" rx="0.8" ry="0.5" fill="#000" stroke="none" stroke-width="1" transform="rotate(-10 274.3 734.4)"/>
<ellipse cx="279.7" cy="735.8" rx="0.8" ry="0.5" fill="#000" stroke="none" stroke-width="1" transform="rotate(-10 279.7 735.8)"/>
<ellipse cx="282" cy="737.7" rx="0.8" ry="0.5" fill="#000" stroke="none" stroke-width="1" transform="rotate(-10 282 737.7)"/>
<ellipse cx="287.4" cy="739.1" rx="0.8" ry="0.5" fill="#000" stroke="none" stroke-width="1" transform="rotate(-10 287.4 739.1)"/>
<ellipse cx="289.7" cy="741" rx="0.8" ry="0.5" fill="#000" stroke="none" stroke-width="1" transform="rotate(-10 289.7 741)"/>
<ellipse cx="277.4" cy="733.8" rx="0.8" ry="0.5" fill="#000" stroke="none" stroke-width="1" transform="rotate(-10 277.4 733.8)"/>
<ellipse cx="282.8" cy="735.1" rx="0.8" ry="0.5" fill="#000" stroke="none" stroke-width="1" transform="rotate(-10 282.8 735.1)"/>
<ellipse cx="285.1" cy="737.1" rx="0.8" ry="0.5" fill="#000" stroke="none" stroke-width="1" transform="rotate(-10 285.1 737.1)"/>
<ellipse cx="290.4" cy="738.4" rx="0.8" ry="0.5" fill="#000" stroke="none" stroke-width="1" transform="rotate(-10 290.4 738.4)"/>
<ellipse cx="292.8" cy="740.4" rx="0.8" ry="0.5" fill="#000" stroke="none" stroke-width="1" transform="rotate(-10 292.8 740.4)"/>
<ellipse cx="280.4" cy="733.2" rx="0.8" ry="0.5" fill="#000" stroke="none" stroke-width="1" transform="rotate(-10 280.4 733.2)"/>
<ellipse cx="285.8" cy="734.5" rx="0.8" ry="0.5" fill="#000" stroke="none" stroke-width="1" transform="rotate(-10 285.8 734.5)"/>
<ellipse cx="288.1" cy="736.5" rx="0.8" ry="0.5" fill="#000" stroke="none" stroke-width="1" transform="rotate(-10 288.1 736.5)"/>
<ellipse cx="293.5" cy="737.8" rx="0.8" ry="0.5" fill="#000" stroke="none" stroke-width="1" transform="rotate(-10 293.5 737.8)"/>
<ellipse cx="295.8" cy="739.8" rx="0.8" ry="0.5" fill="#000" stroke="none" stroke-width="1" transform="rotate(-10 295.8 739.8)"/>
<ellipse cx="283.5" cy="732.6" rx="0.8" ry="0.5" fill="#000" stroke="none" stroke-width="1" transform="rotate(-10 283.5 732.6)"/>
<ellipse cx="288.8" cy="733.9" rx="0.8" ry="0.5" fill="#000" stroke="none" stroke-width="1" transform="rotate(-10 288.8 733.9)"/>
<ellipse cx="291.2" cy="735.9" rx="0.8" ry="0.5" fill="#000" stroke="none" stroke-width="1" transform="rotate(-10 291.2 735.9)"/>
<ellipse cx="296.5" cy="737.2" rx="0.8" ry="0.5" fill="#000" stroke="none" stroke-width="1" transform="rotate(-10 296.5 737.2)"/>
<ellipse cx="298.8" cy="739.2" rx="0.8" ry="0.5" fill="#000" stroke="none" stroke-width="1" transform="rotate(-10 298.8 739.2)"/>
<polygon points="276.7,665.2 279.4,664.6 281.3,768.4 278.6,769" fill="#fff" stroke="#000" stroke-width="0.9" />
<polygon points="279.4,664.6 280.6,664.4 282.5,768.2 281.3,768.4" fill="#000" stroke="#000" stroke-width="0.9" />
<polygon points="280.9,664.3 283.3,663.9 285.2,767.7 282.8,768.1" fill="#fff" stroke="#000" stroke-width="0.9" />
<polygon points="309.4,666.8 314.5,668 314.5,672.8 309.4,671.6" fill="#000" stroke="#000" stroke-width="0.5" />
<line x1="311" y1="668.6" x2="311" y2="670.9" stroke="#fff" stroke-width="0.6"/>
<line x1="312.5" y1="668.9" x2="312.5" y2="671.2" stroke="#fff" stroke-width="0.6"/>
<line x1="310.3" y1="669.6" x2="313.3" y2="670.1" stroke="#fff" stroke-width="0.5"/>
<polygon points="277,673.3 282.1,674.5 282.1,679.3 277,678.1" fill="#000" stroke="#000" stroke-width="0.5" />
<line x1="278.6" y1="675.1" x2="278.6" y2="677.3" stroke="#fff" stroke-width="0.6"/>
<line x1="280.1" y1="675.4" x2="280.1" y2="677.7" stroke="#fff" stroke-width="0.6"/>
<line x1="277.9" y1="676.1" x2="280.9" y2="676.6" stroke="#fff" stroke-width="0.5"/>
<polygon points="310,702.2 315.1,703.4 315.1,708.2 310,707" fill="#000" stroke="#000" stroke-width="0.5" />
<line x1="311.6" y1="704" x2="311.6" y2="706.3" stroke="#fff" stroke-width="0.6"/>
<line x1="313.2" y1="704.3" x2="313.2" y2="706.6" stroke="#fff" stroke-width="0.6"/>
<line x1="310.9" y1="705" x2="313.9" y2="705.5" stroke="#fff" stroke-width="0.5"/>
<polygon points="277.6,708.7 282.7,709.9 282.7,714.7 277.6,713.5" fill="#000" stroke="#000" stroke-width="0.5" />
<line x1="279.2" y1="710.5" x2="279.2" y2="712.7" stroke="#fff" stroke-width="0.6"/>
<line x1="280.8" y1="710.8" x2="280.8" y2="713.1" stroke="#fff" stroke-width="0.6"/>
<line x1="278.5" y1="711.5" x2="281.5" y2="712" stroke="#fff" stroke-width="0.5"/>
<polygon points="310.8,746.6 315.9,747.8 315.9,752.6 310.8,751.4" fill="#000" stroke="#000" stroke-width="0.5" />
<line x1="312.4" y1="748.4" x2="312.4" y2="750.7" stroke="#fff" stroke-width="0.6"/>
<line x1="314" y1="748.7" x2="314" y2="751" stroke="#fff" stroke-width="0.6"/>
<line x1="311.7" y1="749.4" x2="314.7" y2="749.9" stroke="#fff" stroke-width="0.5"/>
<polygon points="278.4,753.1 283.5,754.3 283.5,759.1 278.4,757.9" fill="#000" stroke="#000" stroke-width="0.5" />
<line x1="280" y1="754.9" x2="280" y2="757.1" stroke="#fff" stroke-width="0.6"/>
<line x1="281.6" y1="755.2" x2="281.6" y2="757.5" stroke="#fff" stroke-width="0.6"/>
<line x1="279.3" y1="755.9" x2="282.3" y2="756.4" stroke="#fff" stroke-width="0.5"/>
<polygon points="271.9,660.8 275.5,662.4 277.5,773.4 273.9,771.8" fill="#fff" stroke="#000" stroke-width="1.4" />
<polygon points="271.9,660.8 316.3,652 319.9,653.5 275.5,662.4" fill="#fff" stroke="#000" stroke-width="1.4" />
<polygon points="314.4,654.3 318,655.8 319.9,763 316.3,761.4" fill="#fff" stroke="#000" stroke-width="1.4" />
<polygon points="275.8,769.5 316.3,761.4 319.9,763 279.4,771.1" fill="#fff" stroke="#000" stroke-width="1.4" />
<path d="M275.5,662.4 L319.9,653.5 L321.9,764.5 L277.5,773.4 Z M277.4,663.9 L318,655.8 L319.9,763 L279.4,771.1 Z" fill="#fff" stroke="#000" stroke-width="1.4" fill-rule="evenodd"/>
<polygon points="302,672.1 305.5,671.3 310.3,672.5 312.5,779.8 304,778.5" fill="#fff" stroke="#000" stroke-width="0.9" />
<line x1="304.2" y1="675" x2="306" y2="777" stroke="#000" stroke-width="1.7" stroke-dasharray="3 1.2"/>
<line x1="306.5" y1="672.5" x2="308.5" y2="779" stroke="#000" stroke-width="0.8"/>
<line x1="253.4" y1="789.7" x2="253.4" y2="796.7" stroke="#000" stroke-width="1.1"/>
<ellipse cx="253.4" cy="796.7" rx="1.1" ry="0.7" fill="#000" stroke="none" stroke-width="1"/>
<polygon points="252.6,794.3 260.1,793.1 260.4,794.4 252.9,795.7" fill="#000" stroke="#000" stroke-width="0.5" />
<polygon points="253.8,795.2 258.9,794.3 258.1,797.6 254.5,797.9" fill="#000" stroke="#000" stroke-width="0.5" />
<ellipse cx="256.2" cy="798.2" rx="2.2" ry="2.9" fill="#000" stroke="#000" stroke-width="0.4" transform="rotate(-10 256.2 798.2)"/>
<ellipse cx="256" cy="798.4" rx="1" ry="1.7" fill="#fff" stroke="none" stroke-width="1" transform="rotate(-10 256 798.4)"/>
<ellipse cx="256.4" cy="798.3" rx="0.5" ry="1" fill="#000" stroke="none" stroke-width="1" transform="rotate(-10 256.4 798.3)"/>
<polygon points="290.9,789.7 298.4,788.5 298.7,789.8 291.2,791.1" fill="#000" stroke="#000" stroke-width="0.5" />
<polygon points="292.1,790.6 297.2,789.7 296.4,793 292.8,793.3" fill="#000" stroke="#000" stroke-width="0.5" />
<ellipse cx="294.5" cy="793.6" rx="2.2" ry="2.9" fill="#000" stroke="#000" stroke-width="0.4" transform="rotate(-10 294.5 793.6)"/>
<ellipse cx="294.3" cy="793.8" rx="1" ry="1.7" fill="#fff" stroke="none" stroke-width="1" transform="rotate(-10 294.3 793.8)"/>
<ellipse cx="294.7" cy="793.7" rx="0.5" ry="1" fill="#000" stroke="none" stroke-width="1" transform="rotate(-10 294.7 793.7)"/>
<line x1="279.8" y1="807.2" x2="279.8" y2="811.7" stroke="#000" stroke-width="1.1"/>
<ellipse cx="279.8" cy="811.7" rx="1.1" ry="0.7" fill="#000" stroke="none" stroke-width="1"/>
<polygon points="274,804.3 281.5,803.1 281.8,804.4 274.3,805.7" fill="#000" stroke="#000" stroke-width="0.5" />
<polygon points="275.2,805.2 280.3,804.3 279.5,807.6 275.9,807.9" fill="#000" stroke="#000" stroke-width="0.5" />
<ellipse cx="277.6" cy="808.2" rx="2.2" ry="2.9" fill="#000" stroke="#000" stroke-width="0.4" transform="rotate(-10 277.6 808.2)"/>
<ellipse cx="277.4" cy="808.4" rx="1" ry="1.7" fill="#fff" stroke="none" stroke-width="1" transform="rotate(-10 277.4 808.4)"/>
<ellipse cx="277.8" cy="808.3" rx="0.5" ry="1" fill="#000" stroke="none" stroke-width="1" transform="rotate(-10 277.8 808.3)"/>
<line x1="319.1" y1="797.1" x2="319.1" y2="805.1" stroke="#000" stroke-width="1.1"/>
<ellipse cx="319.1" cy="805.1" rx="1.1" ry="0.7" fill="#000" stroke="none" stroke-width="1"/>
<polygon points="311.7,797.7 319.2,796.5 319.5,797.8 312,799.1" fill="#000" stroke="#000" stroke-width="0.5" />
<polygon points="312.9,798.6 318,797.7 317.2,801 313.6,801.3" fill="#000" stroke="#000" stroke-width="0.5" />
<ellipse cx="315.3" cy="801.6" rx="2.2" ry="2.9" fill="#000" stroke="#000" stroke-width="0.4" transform="rotate(-10 315.3 801.6)"/>
<ellipse cx="315.1" cy="801.8" rx="1" ry="1.7" fill="#fff" stroke="none" stroke-width="1" transform="rotate(-10 315.1 801.8)"/>
<ellipse cx="315.5" cy="801.7" rx="0.5" ry="1" fill="#000" stroke="none" stroke-width="1" transform="rotate(-10 315.5 801.7)"/>
</g>
<polygon points="681.7,667.5 685.7,666.7 688.2,667.8 684.2,668.6" fill="#fff" stroke="#000" stroke-width="0.9" />
<polygon points="681.7,667.5 684.2,668.6 685.4,771.6 682.9,770.5" fill="#fff" stroke="#000" stroke-width="0.9" />
<polygon points="684.2,668.6 688.2,667.8 689.4,770.8 685.4,771.6" fill="#fff" stroke="#000" stroke-width="0.9" />
<line x1="683.6" y1="670" x2="684.9" y2="770" stroke="#000" stroke-width="1.6" stroke-dasharray="4 1.5"/>
<line x1="686.2" y1="670.5" x2="687.4" y2="770.5" stroke="#000" stroke-width="0.9"/>
<polygon points="688.7,669.7 693.2,668.8 696.2,670.1 691.7,671" fill="#fff" stroke="#000" stroke-width="0.9" />
<polygon points="688.7,669.7 691.7,671 693,774 690,772.7" fill="#fff" stroke="#000" stroke-width="0.9" />
<polygon points="691.7,671 696.2,670.1 697.5,773.1 693,774" fill="#fff" stroke="#000" stroke-width="0.9" />
<circle cx="99.8" cy="672.4" r="5.2" fill="none" stroke="#000" stroke-width="0.8"/>
<line x1="96.4" y1="590.9" x2="107.4" y2="604.4" stroke="#000" stroke-width="0.9"/>
<circle cx="89.5" cy="582.5" r="10.9" fill="#fff" stroke="#000" stroke-width="1"/>
<text x="89.5" y="587.3" font-size="13.4" text-anchor="middle" fill="#000" >2</text>
<line x1="84.2" y1="650.1" x2="97.6" y2="667.8" stroke="#000" stroke-width="0.9"/>
<circle cx="77.6" cy="641.4" r="10.9" fill="#fff" stroke="#000" stroke-width="1"/>
<text x="77.6" y="647.4" font-size="17" text-anchor="middle" textLength="8.4" lengthAdjust="spacingAndGlyphs" fill="#000" >B</text>
<line x1="156.6" y1="641.1" x2="146.9" y2="649.1" stroke="#000" stroke-width="0.9"/>
<circle cx="165" cy="634.2" r="10.9" fill="#fff" stroke="#000" stroke-width="1"/>
<text x="165" y="639" font-size="13.4" text-anchor="middle" fill="#000" >1</text>
<line x1="179.2" y1="659.6" x2="170.2" y2="667.2" stroke="#000" stroke-width="0.9"/>
<circle cx="187.5" cy="652.5" r="10.9" fill="#fff" stroke="#000" stroke-width="1"/>
<text x="187.5" y="657.3" font-size="13.4" text-anchor="middle" fill="#000" >1</text>
<line x1="90.9" y1="784.5" x2="97.8" y2="778.3" stroke="#000" stroke-width="0.9"/>
<circle cx="82.8" cy="791.8" r="10.9" fill="#fff" stroke="#000" stroke-width="1"/>
<text x="82.8" y="796.6" font-size="13.4" text-anchor="middle" fill="#000" >3</text>
<line x1="98.1" y1="810.3" x2="104.8" y2="799" stroke="#000" stroke-width="0.9"/>
<circle cx="92.6" cy="819.7" r="10.9" fill="#fff" stroke="#000" stroke-width="1"/>
<text x="92.6" y="824.5" font-size="13.4" text-anchor="middle" fill="#000" >4</text>
<line x1="121" y1="824.3" x2="128.8" y2="809.4" stroke="#000" stroke-width="0.9"/>
<circle cx="115.9" cy="833.9" r="10.9" fill="#fff" stroke="#000" stroke-width="1"/>
<text x="115.9" y="838.7" font-size="13.4" text-anchor="middle" fill="#000" >5</text>
<line x1="247.7" y1="622.2" x2="264.2" y2="629.3" stroke="#000" stroke-width="0.9"/>
<circle cx="237.7" cy="617.9" r="10.9" fill="#fff" stroke="#000" stroke-width="1"/>
<text x="237.7" y="622.7" font-size="13.4" text-anchor="middle" fill="#000" >6</text>
<line x1="230.2" y1="749.6" x2="259.2" y2="751.1" stroke="#000" stroke-width="0.9"/>
<circle cx="219.3" cy="749.1" r="10.9" fill="#fff" stroke="#000" stroke-width="1"/>
<text x="219.3" y="753.9" font-size="13.4" text-anchor="middle" fill="#000" >7</text>
<line x1="414.2" y1="680.9" x2="436.7" y2="698.6" stroke="#000" stroke-width="0.9"/>
<circle cx="405.6" cy="674.2" r="10.9" fill="#fff" stroke="#000" stroke-width="1"/>
<text x="405.6" y="679" font-size="13.4" text-anchor="middle" fill="#000" >8</text>
<line x1="418" y1="729.6" x2="437.9" y2="726.4" stroke="#000" stroke-width="0.9"/>
<circle cx="407.2" cy="731.4" r="10.9" fill="#fff" stroke="#000" stroke-width="1"/>
<text x="407.2" y="736.2" font-size="13.4" text-anchor="middle" fill="#000" >9</text>
<path d="M499.5,698.5 A4.2,4.2 0 1 1 499.5,706.5" fill="none" stroke="#000" stroke-width="0.8"/>
<line x1="510.4" y1="678.6" x2="502.8" y2="698.5" stroke="#000" stroke-width="0.9"/>
<circle cx="514.3" cy="668.4" r="10.9" fill="#fff" stroke="#000" stroke-width="1"/>
<text x="514.3" y="674.4" font-size="17" text-anchor="middle" textLength="8.4" lengthAdjust="spacingAndGlyphs" fill="#000" >A</text>
<line x1="516.7" y1="740.8" x2="475.8" y2="735.2" stroke="#000" stroke-width="0.9"/>
<circle cx="527.5" cy="742.3" r="10.9" fill="#fff" stroke="#000" stroke-width="1"/>
<text x="527.5" y="747.1" font-size="13.4" text-anchor="middle" textLength="13.5" lengthAdjust="spacingAndGlyphs" fill="#000" >10</text>
<line x1="709.8" y1="646.9" x2="684.8" y2="667.1" stroke="#000" stroke-width="0.9"/>
<circle cx="718.3" cy="640.1" r="10.9" fill="#fff" stroke="#000" stroke-width="1"/>
<text x="718.3" y="644.9" font-size="13.4" text-anchor="middle" textLength="12.5" lengthAdjust="spacingAndGlyphs" fill="#000" >11</text>
<line x1="708" y1="695.3" x2="694.8" y2="697.4" stroke="#000" stroke-width="0.9"/>
<circle cx="718.8" cy="693.6" r="10.9" fill="#fff" stroke="#000" stroke-width="1"/>
<text x="718.8" y="698.4" font-size="13.4" text-anchor="middle" textLength="13.5" lengthAdjust="spacingAndGlyphs" fill="#000" >12</text>
<polygon points="201.2,701.7 215.4,701.7 215.4,692.8 230.9,706 215.4,719.2 215.4,710.3 201.2,710.3" fill="#fff" stroke="#000" stroke-width="0.9" />
<polygon points="365.1,701.7 381.5,701.7 381.5,692.8 395.9,706 381.5,719.2 381.5,710.3 365.1,710.3" fill="#fff" stroke="#000" stroke-width="0.9" />
<polygon points="539.3,701.7 555.2,701.7 555.2,692.8 569.6,706 555.2,719.2 555.2,710.3 539.3,710.3" fill="#fff" stroke="#000" stroke-width="0.9" />
<polygon points="673.6,825.2 682.5,825.2 682.5,946 659.5,946 659.5,955.5 644.3,942 659.5,929 659.5,937.8 673.6,937.8" fill="#fff" stroke="#000" stroke-width="0.9" />
<polygon points="391.4,931.5 356.3,931.5 356.3,922.5 341.1,935.9 356.3,949.3 356.3,940.3 391.4,940.3" fill="#fff" stroke="#000" stroke-width="0.9" />
<g transform="translate(407.6 742.05) scale(0.6046 0.5961)">
<polygon points="122.8,235.1 200.5,220.5 203.2,397.5 125.5,412" fill="#fff" stroke="#000" stroke-width="2.3" />
<line x1="126.8" y1="234.4" x2="129.4" y2="411.3" stroke="#000" stroke-width="1.4"/>
<line x1="198.3" y1="221" x2="201" y2="398" stroke="#000" stroke-width="1.4"/>
<line x1="127.5" y1="287.8" x2="201" y2="273.4" stroke="#000" stroke-width="2.8"/>
<line x1="127.5" y1="295.8" x2="201" y2="282" stroke="#000" stroke-width="1.4"/>
<line x1="127.5" y1="348.2" x2="201" y2="334.2" stroke="#000" stroke-width="2.8"/>
<line x1="127.5" y1="357" x2="201" y2="343" stroke="#000" stroke-width="1.4"/>
<polygon points="334.8,221.1 367.5,234.6 369.5,410.7 337.5,397.5" fill="#fff" stroke="#000" stroke-width="2.6" />
<line x1="337.3" y1="223" x2="339.8" y2="398" stroke="#000" stroke-width="1.4"/>
<line x1="365" y1="234" x2="367" y2="409.5" stroke="#000" stroke-width="1.4"/>
<line x1="337.5" y1="273.9" x2="365.5" y2="285.4" stroke="#000" stroke-width="2.9"/>
<line x1="337.5" y1="282.1" x2="365.5" y2="293.6" stroke="#000" stroke-width="1.4"/>
<line x1="337.5" y1="334.5" x2="365.5" y2="346" stroke="#000" stroke-width="2.9"/>
<line x1="337.5" y1="341.5" x2="365.5" y2="353" stroke="#000" stroke-width="1.4"/>
<line x1="337.5" y1="347.5" x2="365.5" y2="359" stroke="#000" stroke-width="1.4"/>
<polygon points="337.5,252.8 339.5,253.6 339.5,256.6 337.5,255.8" fill="#fff" stroke="#000" stroke-width="0.8" />
<polygon points="364,264 366.3,265 366.3,268.2 364,267.2" fill="#000" stroke="#000" stroke-width="0.8" />
<polygon points="299.5,274.5 305.5,273.4 309,274.8 303,276" fill="#fff" stroke="#000" stroke-width="1.4" />
<polygon points="299.5,274.5 303,276 303.6,316 300.1,314.5" fill="#fff" stroke="#000" stroke-width="1.4" />
<polygon points="303,276 309,274.8 309.6,314.8 303.6,316" fill="#fff" stroke="#000" stroke-width="1.4" />
<line x1="306" y1="277.4" x2="306.6" y2="315.4" stroke="#000" stroke-width="1.4"/>
<polygon points="308.6,279.8 313.6,278.9 317.6,280.6 312.6,281.5" fill="#fff" stroke="#000" stroke-width="1.4" />
<polygon points="308.6,279.8 312.6,281.5 313.1,317.5 309.1,315.8" fill="#fff" stroke="#000" stroke-width="1.4" />
<polygon points="312.6,281.5 317.6,280.6 318.1,316.6 313.1,317.5" fill="#fff" stroke="#000" stroke-width="1.4" />
<polygon points="158.9,176 206.8,195.4 206.9,199 159,179.6" fill="#fff" stroke="#000" stroke-width="1.7" />
<line x1="169.4" y1="182.1" x2="202" y2="195.3" stroke="#000" stroke-width="2"/>
<polygon points="206.8,195.4 280,180.8 280.1,184.4 206.9,199" fill="#000" stroke="#000" stroke-width="1.7" />
<polygon points="158.9,176 233.2,160.2 280,180.8 206.8,195.4" fill="#fff" stroke="#000" stroke-width="1.7" />
<polyline points="162.3,176.5 233.6,161.3 275.3,179.7" fill="none" stroke="#000" stroke-width="0.6" />
<ellipse cx="202.9" cy="177.3" rx="6.7" ry="2.5" fill="#000" stroke="none" stroke-width="1" transform="rotate(-8 202.9 177.3)"/>
<ellipse cx="222.5" cy="173.2" rx="6.7" ry="2.5" fill="#000" stroke="none" stroke-width="1" transform="rotate(-8 222.5 173.2)"/>
<ellipse cx="216.1" cy="182.8" rx="6.7" ry="2.5" fill="#000" stroke="none" stroke-width="1" transform="rotate(-8 216.1 182.8)"/>
<ellipse cx="235.6" cy="178.8" rx="6.7" ry="2.5" fill="#000" stroke="none" stroke-width="1" transform="rotate(-8 235.6 178.8)"/>
<polygon points="182.8,172.4 214.8,165.6 217.1,166.7 185.2,173.4" fill="#000" stroke="#000" stroke-width="0.6" />
<polygon points="220.9,188.2 250.2,182.3 252.6,183.3 223.3,189.2" fill="#fff" stroke="#000" stroke-width="0.7" />
<path d="M181.6,193.4 L184.5,194.6 M194.5,196.5 C189,199 187,203 190,206.5 C191.5,208.5 193,209 194.5,210" fill="none" stroke="#000" stroke-width="1.4" />
<circle cx="181.6" cy="193.4" r="1" fill="#000" stroke="#000" stroke-width="0.5"/>
<polygon points="182.9,210.5 214.6,225.9 214.6,227.5 182.9,212.1" fill="#fff" stroke="#000" stroke-width="1.4" />
<polygon points="214.6,225.9 254.6,217 254.6,218.6 214.6,227.5" fill="#000" stroke="#000" stroke-width="1.4" />
<polygon points="182.9,210.5 220.9,202.6 254.6,217 214.6,225.9" fill="#fff" stroke="#000" stroke-width="1.4" />
<polygon points="187,211.2 221.4,204 250.2,216.4 214.4,224.4" fill="none" stroke="#000" stroke-width="0.6" />
<ellipse cx="202.4" cy="214.5" rx="5.9" ry="2.4" fill="#000" stroke="none" stroke-width="1" transform="rotate(-8 202.4 214.5)"/>
<ellipse cx="222.5" cy="210.2" rx="5.9" ry="2.4" fill="#000" stroke="none" stroke-width="1" transform="rotate(-8 222.5 210.2)"/>
<ellipse cx="214.9" cy="220.5" rx="5.9" ry="2.4" fill="#000" stroke="none" stroke-width="1" transform="rotate(-8 214.9 220.5)"/>
<ellipse cx="235.4" cy="216" rx="5.9" ry="2.4" fill="#000" stroke="none" stroke-width="1" transform="rotate(-8 235.4 216)"/>
<polygon points="162.1,458.5 212.5,479.7 212.6,483.9 162.2,462.7" fill="#fff" stroke="#000" stroke-width="1.4" />
<polygon points="212.5,479.7 284.2,464.6 284.3,468.8 212.6,483.9" fill="#000" stroke="#000" stroke-width="1.4" />
<line x1="168.1" y1="463.4" x2="207.5" y2="479.9" stroke="#000" stroke-width="2.6" stroke-dasharray="0.9 0.7"/>
<polygon points="212.5,480.1 215,479.6 215,483 212.5,483.5" fill="#fff" stroke="#000" stroke-width="0.4" />
<polygon points="281.7,465.5 284.2,465 284.2,468.4 281.7,468.9" fill="#fff" stroke="#000" stroke-width="0.4" />
<polygon points="162.1,458.5 233.8,443.4 284.2,464.6 212.5,479.7" fill="#fff" stroke="#000" stroke-width="2.8" />
<polygon points="170.9,459.5 234.8,446.1 275.6,463.2 211.8,476.7" fill="none" stroke="#000" stroke-width="1" />
<polygon points="187.6,457.9 212.7,452.6 219.7,455.6 194.6,460.9" fill="#fff" stroke="#000" stroke-width="1" />
<line x1="189.9" y1="458.9" x2="215" y2="453.6" stroke="#000" stroke-width="0.8"/>
<line x1="192.3" y1="459.9" x2="217.4" y2="454.6" stroke="#000" stroke-width="0.8"/>
<polygon points="197.1,464.2 229.4,457.4 240.7,462.1 208.4,468.9" fill="#fff" stroke="#000" stroke-width="1" />
<line x1="199.4" y1="465.1" x2="231.6" y2="458.3" stroke="#000" stroke-width="0.8"/>
<line x1="201.6" y1="466.1" x2="233.9" y2="459.3" stroke="#000" stroke-width="0.8"/>
<line x1="203.9" y1="467" x2="236.2" y2="460.2" stroke="#000" stroke-width="0.8"/>
<line x1="206.2" y1="468" x2="238.4" y2="461.2" stroke="#000" stroke-width="0.8"/>
<polygon points="161.1,247.2 169.1,250.5 171.9,435.5 163.9,432.2" fill="#fff" stroke="#000" stroke-width="1.9" />
<polygon points="161.1,247.2 235.1,233.1 243.1,236.4 169.1,250.5" fill="#fff" stroke="#000" stroke-width="1.9" />
<polygon points="231.9,236.9 239.9,240.2 242.6,418.8 234.6,415.5" fill="#fff" stroke="#000" stroke-width="1.9" />
<polygon points="167,428.4 234.6,415.5 242.6,418.8 175,431.7" fill="#fff" stroke="#000" stroke-width="1.9" />
<path d="M169.1,250.5 L243.1,236.4 L245.9,421.4 L171.9,435.5 Z M172.3,253.1 L239.9,240.2 L242.6,418.8 L175,431.7 Z" fill="#fff" stroke="#000" stroke-width="1.9" fill-rule="evenodd"/>
<polygon points="224.7,246.6 227.7,246 230.3,419 227.3,419.6" fill="#000" stroke="#000" stroke-width="1.4" />
<polygon points="234.2,244.7 237.2,244.2 239.8,417.2 236.8,417.7" fill="#fff" stroke="#000" stroke-width="1.4" />
<polygon points="237.2,244.2 239.2,243.8 241.8,416.8 239.8,417.2" fill="#000" stroke="#000" stroke-width="1.4" />
<polygon points="237.9,259.5 240.9,258.9 272.2,271.8 269.2,272.4" fill="#fff" stroke="#000" stroke-width="1.4" />
<polygon points="237.9,259.5 269.2,272.4 269.3,278.9 238,266" fill="#111" stroke="#000" stroke-width="1.4" />
<line x1="239" y1="263.1" x2="268.3" y2="275.2" stroke="#fff" stroke-width="1.5" stroke-dasharray="1.3 1.5"/>
<polygon points="238.8,318.5 241.8,317.9 273.1,330.8 270.1,331.4" fill="#fff" stroke="#000" stroke-width="1.4" />
<polygon points="238.8,318.5 270.1,331.4 270.2,337.9 238.9,325" fill="#111" stroke="#000" stroke-width="1.4" />
<line x1="239.9" y1="322.1" x2="269.2" y2="334.2" stroke="#fff" stroke-width="1.5" stroke-dasharray="1.3 1.5"/>
<polygon points="239.9,392.5 242.9,391.9 274.2,404.8 271.2,405.4" fill="#fff" stroke="#000" stroke-width="1.4" />
<polygon points="239.9,392.5 271.2,405.4 271.3,411.9 240,399" fill="#111" stroke="#000" stroke-width="1.4" />
<line x1="241" y1="396.1" x2="270.3" y2="408.2" stroke="#fff" stroke-width="1.5" stroke-dasharray="1.3 1.5"/>
<polygon points="179.2,255.2 182.2,254.6 184.8,427.6 181.8,428.2" fill="#fff" stroke="#000" stroke-width="1.4" />
<polygon points="182.2,254.6 186.2,253.9 188.8,426.9 184.8,427.6" fill="#000" stroke="#000" stroke-width="1.4" />
<polygon points="230.5,259.6 239,261.6 239,269.6 230.5,267.6" fill="#000" stroke="#000" stroke-width="0.5" />
<line x1="233.2" y1="262.6" x2="233.2" y2="266.4" stroke="#fff" stroke-width="1"/>
<line x1="235.8" y1="263.1" x2="235.8" y2="267" stroke="#fff" stroke-width="1"/>
<line x1="232.1" y1="264.3" x2="237.1" y2="265.2" stroke="#fff" stroke-width="0.8"/>
<polygon points="231.4,318.6 239.9,320.6 239.9,328.6 231.4,326.6" fill="#000" stroke="#000" stroke-width="0.5" />
<line x1="234.1" y1="321.6" x2="234.1" y2="325.4" stroke="#fff" stroke-width="1"/>
<line x1="236.7" y1="322.1" x2="236.7" y2="326" stroke="#fff" stroke-width="1"/>
<line x1="233" y1="323.3" x2="238" y2="324.2" stroke="#fff" stroke-width="0.8"/>
<polygon points="232.5,392.6 241,394.6 241,402.6 232.5,400.6" fill="#000" stroke="#000" stroke-width="0.5" />
<line x1="235.2" y1="395.6" x2="235.2" y2="399.4" stroke="#fff" stroke-width="1"/>
<line x1="237.8" y1="396.1" x2="237.8" y2="400" stroke="#fff" stroke-width="1"/>
<line x1="234.1" y1="397.3" x2="239.1" y2="398.2" stroke="#fff" stroke-width="0.8"/>
<polygon points="171.9,272 174.9,271.5 206.2,284.3 203.2,284.9" fill="#fff" stroke="#000" stroke-width="1.4" />
<polygon points="171.9,272 203.2,284.9 203.3,291.4 172,278.5" fill="#111" stroke="#000" stroke-width="1.4" />
<line x1="173" y1="275.7" x2="202.3" y2="287.8" stroke="#fff" stroke-width="1.5" stroke-dasharray="1.3 1.5"/>
<polygon points="172.8,331 175.8,330.5 207.1,343.3 204.1,343.9" fill="#fff" stroke="#000" stroke-width="1.4" />
<polygon points="172.8,331 204.1,343.9 204.2,350.4 172.9,337.5" fill="#111" stroke="#000" stroke-width="1.4" />
<line x1="173.9" y1="334.7" x2="203.2" y2="346.8" stroke="#fff" stroke-width="1.5" stroke-dasharray="1.3 1.5"/>
<polygon points="173.9,405 176.9,404.5 208.2,417.3 205.2,417.9" fill="#fff" stroke="#000" stroke-width="1.4" />
<polygon points="173.9,405 205.2,417.9 205.3,424.4 174,411.5" fill="#111" stroke="#000" stroke-width="1.4" />
<line x1="175" y1="408.7" x2="204.3" y2="420.8" stroke="#fff" stroke-width="1.5" stroke-dasharray="1.3 1.5"/>
<polygon points="174.5,270.2 183,272.2 183,280.2 174.5,278.2" fill="#000" stroke="#000" stroke-width="0.5" />
<line x1="177.2" y1="273.2" x2="177.2" y2="277" stroke="#fff" stroke-width="1"/>
<line x1="179.8" y1="273.7" x2="179.8" y2="277.6" stroke="#fff" stroke-width="1"/>
<line x1="176.1" y1="274.9" x2="181.1" y2="275.8" stroke="#fff" stroke-width="0.8"/>
<polygon points="175.4,329.2 183.9,331.2 183.9,339.2 175.4,337.2" fill="#000" stroke="#000" stroke-width="0.5" />
<line x1="178.1" y1="332.2" x2="178.1" y2="336" stroke="#fff" stroke-width="1"/>
<line x1="180.7" y1="332.7" x2="180.7" y2="336.6" stroke="#fff" stroke-width="1"/>
<line x1="177" y1="333.9" x2="182" y2="334.8" stroke="#fff" stroke-width="0.8"/>
<polygon points="176.5,403.2 185,405.2 185,413.2 176.5,411.2" fill="#000" stroke="#000" stroke-width="0.5" />
<line x1="179.2" y1="406.2" x2="179.2" y2="410" stroke="#fff" stroke-width="1"/>
<line x1="181.8" y1="406.7" x2="181.8" y2="410.6" stroke="#fff" stroke-width="1"/>
<line x1="178.1" y1="407.9" x2="183.1" y2="408.8" stroke="#fff" stroke-width="0.8"/>
<polygon points="255.5,261.7 262,260.4 264.6,433.4 258.1,434.7" fill="#000" stroke="#000" stroke-width="1.4" />
<polygon points="262.3,260.4 269,259.1 271.6,432.1 264.9,433.4" fill="#fff" stroke="#000" stroke-width="1.4" />
<polygon points="269.2,259 271.5,258.6 274.1,431.6 271.8,432" fill="#000" stroke="#000" stroke-width="1.4" />
<polygon points="220,268.4 223,267.8 225.6,440.8 222.6,441.4" fill="#fff" stroke="#000" stroke-width="1.4" />
<polygon points="223,267.8 224.2,267.6 226.8,440.6 225.6,440.8" fill="#000" stroke="#000" stroke-width="1.4" />
<polygon points="229,266.7 232,266.1 234.6,439.1 231.6,439.7" fill="#fff" stroke="#000" stroke-width="1.4" />
<polygon points="183.6,344.4 220.6,337.4 256.6,352.2 219.6,359.3" fill="#fff" stroke="#000" stroke-width="1.4" />
<polygon points="183.6,344.4 219.6,359.3 219.6,361.5 183.6,346.6" fill="#fff" stroke="#000" stroke-width="1.4" />
<polygon points="219.6,359.3 256.6,352.2 256.6,354.4 219.6,361.5" fill="#fff" stroke="#000" stroke-width="1.4" />
<ellipse cx="193.3" cy="345.7" rx="1.4" ry="0.8" fill="#000" stroke="none" stroke-width="1" transform="rotate(-10 193.3 345.7)"/>
<ellipse cx="202.2" cy="347.9" rx="1.4" ry="0.8" fill="#000" stroke="none" stroke-width="1" transform="rotate(-10 202.2 347.9)"/>
<ellipse cx="206.1" cy="351" rx="1.4" ry="0.8" fill="#000" stroke="none" stroke-width="1" transform="rotate(-10 206.1 351)"/>
<ellipse cx="215" cy="353.1" rx="1.4" ry="0.8" fill="#000" stroke="none" stroke-width="1" transform="rotate(-10 215 353.1)"/>
<ellipse cx="218.9" cy="356.3" rx="1.4" ry="0.8" fill="#000" stroke="none" stroke-width="1" transform="rotate(-10 218.9 356.3)"/>
<ellipse cx="198.4" cy="344.7" rx="1.4" ry="0.8" fill="#000" stroke="none" stroke-width="1" transform="rotate(-10 198.4 344.7)"/>
<ellipse cx="207.3" cy="346.9" rx="1.4" ry="0.8" fill="#000" stroke="none" stroke-width="1" transform="rotate(-10 207.3 346.9)"/>
<ellipse cx="211.2" cy="350" rx="1.4" ry="0.8" fill="#000" stroke="none" stroke-width="1" transform="rotate(-10 211.2 350)"/>
<ellipse cx="220.1" cy="352.2" rx="1.4" ry="0.8" fill="#000" stroke="none" stroke-width="1" transform="rotate(-10 220.1 352.2)"/>
<ellipse cx="224" cy="355.3" rx="1.4" ry="0.8" fill="#000" stroke="none" stroke-width="1" transform="rotate(-10 224 355.3)"/>
<ellipse cx="203.4" cy="343.8" rx="1.4" ry="0.8" fill="#000" stroke="none" stroke-width="1" transform="rotate(-10 203.4 343.8)"/>
<ellipse cx="212.4" cy="345.9" rx="1.4" ry="0.8" fill="#000" stroke="none" stroke-width="1" transform="rotate(-10 212.4 345.9)"/>
<ellipse cx="216.2" cy="349" rx="1.4" ry="0.8" fill="#000" stroke="none" stroke-width="1" transform="rotate(-10 216.2 349)"/>
<ellipse cx="225.2" cy="351.2" rx="1.4" ry="0.8" fill="#000" stroke="none" stroke-width="1" transform="rotate(-10 225.2 351.2)"/>
<ellipse cx="229" cy="354.3" rx="1.4" ry="0.8" fill="#000" stroke="none" stroke-width="1" transform="rotate(-10 229 354.3)"/>
<ellipse cx="208.5" cy="342.8" rx="1.4" ry="0.8" fill="#000" stroke="none" stroke-width="1" transform="rotate(-10 208.5 342.8)"/>
<ellipse cx="217.5" cy="345" rx="1.4" ry="0.8" fill="#000" stroke="none" stroke-width="1" transform="rotate(-10 217.5 345)"/>
<ellipse cx="221.3" cy="348.1" rx="1.4" ry="0.8" fill="#000" stroke="none" stroke-width="1" transform="rotate(-10 221.3 348.1)"/>
<ellipse cx="230.3" cy="350.2" rx="1.4" ry="0.8" fill="#000" stroke="none" stroke-width="1" transform="rotate(-10 230.3 350.2)"/>
<ellipse cx="234.1" cy="353.4" rx="1.4" ry="0.8" fill="#000" stroke="none" stroke-width="1" transform="rotate(-10 234.1 353.4)"/>
<ellipse cx="213.6" cy="341.8" rx="1.4" ry="0.8" fill="#000" stroke="none" stroke-width="1" transform="rotate(-10 213.6 341.8)"/>
<ellipse cx="222.5" cy="344" rx="1.4" ry="0.8" fill="#000" stroke="none" stroke-width="1" transform="rotate(-10 222.5 344)"/>
<ellipse cx="226.4" cy="347.1" rx="1.4" ry="0.8" fill="#000" stroke="none" stroke-width="1" transform="rotate(-10 226.4 347.1)"/>
<ellipse cx="235.3" cy="349.3" rx="1.4" ry="0.8" fill="#000" stroke="none" stroke-width="1" transform="rotate(-10 235.3 349.3)"/>
<ellipse cx="239.2" cy="352.4" rx="1.4" ry="0.8" fill="#000" stroke="none" stroke-width="1" transform="rotate(-10 239.2 352.4)"/>
<ellipse cx="218.7" cy="340.9" rx="1.4" ry="0.8" fill="#000" stroke="none" stroke-width="1" transform="rotate(-10 218.7 340.9)"/>
<ellipse cx="227.6" cy="343" rx="1.4" ry="0.8" fill="#000" stroke="none" stroke-width="1" transform="rotate(-10 227.6 343)"/>
<ellipse cx="231.5" cy="346.2" rx="1.4" ry="0.8" fill="#000" stroke="none" stroke-width="1" transform="rotate(-10 231.5 346.2)"/>
<ellipse cx="240.4" cy="348.3" rx="1.4" ry="0.8" fill="#000" stroke="none" stroke-width="1" transform="rotate(-10 240.4 348.3)"/>
<ellipse cx="244.3" cy="351.4" rx="1.4" ry="0.8" fill="#000" stroke="none" stroke-width="1" transform="rotate(-10 244.3 351.4)"/>
<polygon points="184.2,387.4 221.2,380.4 257.2,395.2 220.2,402.3" fill="#fff" stroke="#000" stroke-width="1.4" />
<polygon points="184.2,387.4 220.2,402.3 220.2,404.5 184.2,389.6" fill="#fff" stroke="#000" stroke-width="1.4" />
<polygon points="220.2,402.3 257.2,395.2 257.2,397.4 220.2,404.5" fill="#fff" stroke="#000" stroke-width="1.4" />
<ellipse cx="193.9" cy="388.7" rx="1.4" ry="0.8" fill="#000" stroke="none" stroke-width="1" transform="rotate(-10 193.9 388.7)"/>
<ellipse cx="202.9" cy="390.9" rx="1.4" ry="0.8" fill="#000" stroke="none" stroke-width="1" transform="rotate(-10 202.9 390.9)"/>
<ellipse cx="206.7" cy="394" rx="1.4" ry="0.8" fill="#000" stroke="none" stroke-width="1" transform="rotate(-10 206.7 394)"/>
<ellipse cx="215.7" cy="396.1" rx="1.4" ry="0.8" fill="#000" stroke="none" stroke-width="1" transform="rotate(-10 215.7 396.1)"/>
<ellipse cx="219.5" cy="399.3" rx="1.4" ry="0.8" fill="#000" stroke="none" stroke-width="1" transform="rotate(-10 219.5 399.3)"/>
<ellipse cx="199" cy="387.7" rx="1.4" ry="0.8" fill="#000" stroke="none" stroke-width="1" transform="rotate(-10 199 387.7)"/>
<ellipse cx="208" cy="389.9" rx="1.4" ry="0.8" fill="#000" stroke="none" stroke-width="1" transform="rotate(-10 208 389.9)"/>
<ellipse cx="211.8" cy="393" rx="1.4" ry="0.8" fill="#000" stroke="none" stroke-width="1" transform="rotate(-10 211.8 393)"/>
<ellipse cx="220.8" cy="395.2" rx="1.4" ry="0.8" fill="#000" stroke="none" stroke-width="1" transform="rotate(-10 220.8 395.2)"/>
<ellipse cx="224.6" cy="398.3" rx="1.4" ry="0.8" fill="#000" stroke="none" stroke-width="1" transform="rotate(-10 224.6 398.3)"/>
<ellipse cx="204.1" cy="386.8" rx="1.4" ry="0.8" fill="#000" stroke="none" stroke-width="1" transform="rotate(-10 204.1 386.8)"/>
<ellipse cx="213" cy="388.9" rx="1.4" ry="0.8" fill="#000" stroke="none" stroke-width="1" transform="rotate(-10 213 388.9)"/>
<ellipse cx="216.9" cy="392" rx="1.4" ry="0.8" fill="#000" stroke="none" stroke-width="1" transform="rotate(-10 216.9 392)"/>
<ellipse cx="225.8" cy="394.2" rx="1.4" ry="0.8" fill="#000" stroke="none" stroke-width="1" transform="rotate(-10 225.8 394.2)"/>
<ellipse cx="229.7" cy="397.3" rx="1.4" ry="0.8" fill="#000" stroke="none" stroke-width="1" transform="rotate(-10 229.7 397.3)"/>
<ellipse cx="209.2" cy="385.8" rx="1.4" ry="0.8" fill="#000" stroke="none" stroke-width="1" transform="rotate(-10 209.2 385.8)"/>
<ellipse cx="218.1" cy="388" rx="1.4" ry="0.8" fill="#000" stroke="none" stroke-width="1" transform="rotate(-10 218.1 388)"/>
<ellipse cx="222" cy="391.1" rx="1.4" ry="0.8" fill="#000" stroke="none" stroke-width="1" transform="rotate(-10 222 391.1)"/>
<ellipse cx="230.9" cy="393.2" rx="1.4" ry="0.8" fill="#000" stroke="none" stroke-width="1" transform="rotate(-10 230.9 393.2)"/>
<ellipse cx="234.8" cy="396.4" rx="1.4" ry="0.8" fill="#000" stroke="none" stroke-width="1" transform="rotate(-10 234.8 396.4)"/>
<ellipse cx="214.2" cy="384.8" rx="1.4" ry="0.8" fill="#000" stroke="none" stroke-width="1" transform="rotate(-10 214.2 384.8)"/>
<ellipse cx="223.2" cy="387" rx="1.4" ry="0.8" fill="#000" stroke="none" stroke-width="1" transform="rotate(-10 223.2 387)"/>
<ellipse cx="227" cy="390.1" rx="1.4" ry="0.8" fill="#000" stroke="none" stroke-width="1" transform="rotate(-10 227 390.1)"/>
<ellipse cx="236" cy="392.3" rx="1.4" ry="0.8" fill="#000" stroke="none" stroke-width="1" transform="rotate(-10 236 392.3)"/>
<ellipse cx="239.8" cy="395.4" rx="1.4" ry="0.8" fill="#000" stroke="none" stroke-width="1" transform="rotate(-10 239.8 395.4)"/>
<ellipse cx="219.3" cy="383.9" rx="1.4" ry="0.8" fill="#000" stroke="none" stroke-width="1" transform="rotate(-10 219.3 383.9)"/>
<ellipse cx="228.3" cy="386" rx="1.4" ry="0.8" fill="#000" stroke="none" stroke-width="1" transform="rotate(-10 228.3 386)"/>
<ellipse cx="232.1" cy="389.2" rx="1.4" ry="0.8" fill="#000" stroke="none" stroke-width="1" transform="rotate(-10 232.1 389.2)"/>
<ellipse cx="241.1" cy="391.3" rx="1.4" ry="0.8" fill="#000" stroke="none" stroke-width="1" transform="rotate(-10 241.1 391.3)"/>
<ellipse cx="244.9" cy="394.4" rx="1.4" ry="0.8" fill="#000" stroke="none" stroke-width="1" transform="rotate(-10 244.9 394.4)"/>
<polygon points="208.5,270.6 213,269.7 215.6,442.7 211.1,443.6" fill="#fff" stroke="#000" stroke-width="1.4" />
<polygon points="213,269.7 215,269.3 217.6,442.3 215.6,442.7" fill="#000" stroke="#000" stroke-width="1.4" />
<polygon points="215.5,269.3 219.5,268.5 222.1,441.5 218.1,442.3" fill="#fff" stroke="#000" stroke-width="1.4" />
<polygon points="262.8,273.8 271.3,275.8 271.3,283.8 262.8,281.8" fill="#000" stroke="#000" stroke-width="0.5" />
<line x1="265.5" y1="276.8" x2="265.5" y2="280.6" stroke="#fff" stroke-width="1"/>
<line x1="268.1" y1="277.3" x2="268.1" y2="281.2" stroke="#fff" stroke-width="1"/>
<line x1="264.4" y1="278.5" x2="269.4" y2="279.4" stroke="#fff" stroke-width="0.8"/>
<polygon points="208.8,284.1 217.3,286.1 217.3,294.1 208.8,292.1" fill="#000" stroke="#000" stroke-width="0.5" />
<line x1="211.5" y1="287.1" x2="211.5" y2="290.9" stroke="#fff" stroke-width="1"/>
<line x1="214.1" y1="287.6" x2="214.1" y2="291.5" stroke="#fff" stroke-width="1"/>
<line x1="210.4" y1="288.8" x2="215.4" y2="289.7" stroke="#fff" stroke-width="0.8"/>
<polygon points="263.7,332.8 272.2,334.8 272.2,342.8 263.7,340.8" fill="#000" stroke="#000" stroke-width="0.5" />
<line x1="266.4" y1="335.8" x2="266.4" y2="339.6" stroke="#fff" stroke-width="1"/>
<line x1="269" y1="336.3" x2="269" y2="340.2" stroke="#fff" stroke-width="1"/>
<line x1="265.3" y1="337.5" x2="270.3" y2="338.4" stroke="#fff" stroke-width="0.8"/>
<polygon points="209.7,343.1 218.2,345.1 218.2,353.1 209.7,351.1" fill="#000" stroke="#000" stroke-width="0.5" />
<line x1="212.4" y1="346.1" x2="212.4" y2="349.9" stroke="#fff" stroke-width="1"/>
<line x1="215" y1="346.6" x2="215" y2="350.5" stroke="#fff" stroke-width="1"/>
<line x1="211.3" y1="347.8" x2="216.3" y2="348.7" stroke="#fff" stroke-width="0.8"/>
<polygon points="264.8,406.8 273.3,408.8 273.3,416.8 264.8,414.8" fill="#000" stroke="#000" stroke-width="0.5" />
<line x1="267.5" y1="409.8" x2="267.5" y2="413.6" stroke="#fff" stroke-width="1"/>
<line x1="270.1" y1="410.3" x2="270.1" y2="414.2" stroke="#fff" stroke-width="1"/>
<line x1="266.4" y1="411.5" x2="271.4" y2="412.4" stroke="#fff" stroke-width="0.8"/>
<polygon points="210.8,417.1 219.3,419.1 219.3,427.1 210.8,425.1" fill="#000" stroke="#000" stroke-width="0.5" />
<line x1="213.5" y1="420.1" x2="213.5" y2="423.9" stroke="#fff" stroke-width="1"/>
<line x1="216.1" y1="420.6" x2="216.1" y2="424.5" stroke="#fff" stroke-width="1"/>
<line x1="212.4" y1="421.8" x2="217.4" y2="422.7" stroke="#fff" stroke-width="0.8"/>
<polygon points="200.4,263.4 206.4,265.9 209.2,450.9 203.2,448.4" fill="#fff" stroke="#000" stroke-width="1.9" />
<polygon points="200.4,263.4 274.4,249.3 280.4,251.8 206.4,265.9" fill="#fff" stroke="#000" stroke-width="1.9" />
<polygon points="271.2,253.1 277.2,255.6 279.9,434.2 273.9,431.7" fill="#fff" stroke="#000" stroke-width="1.9" />
<polygon points="206.3,444.6 273.9,431.7 279.9,434.2 212.3,447.1" fill="#fff" stroke="#000" stroke-width="1.9" />
<path d="M206.4,265.9 L280.4,251.8 L283.2,436.8 L209.2,450.9 Z M209.6,268.5 L277.2,255.6 L279.9,434.2 L212.3,447.1 Z" fill="#fff" stroke="#000" stroke-width="1.9" fill-rule="evenodd"/>
<polygon points="244.3,285.2 247,284.2 253.5,285.6 256,461 246.8,459.5" fill="#fff" stroke="#000" stroke-width="1.4" />
<line x1="247.2" y1="288" x2="249.8" y2="458" stroke="#000" stroke-width="1.6" stroke-dasharray="3 2"/>
<line x1="250.6" y1="286" x2="253.2" y2="460" stroke="#000" stroke-width="1.4"/>
<polygon points="253.5,288.3 263.3,286.5 266,460.5 256,462.3" fill="#fff" stroke="#000" stroke-width="1.4" />
<line x1="169.5" y1="479.7" x2="169.5" y2="490.5" stroke="#000" stroke-width="1.8"/>
<ellipse cx="169.5" cy="490.5" rx="1.9" ry="1.1" fill="#000" stroke="none" stroke-width="1"/>
<polygon points="167,486 179.5,484 180,486.2 167.5,488.3" fill="#000" stroke="#000" stroke-width="0.9" />
<polygon points="169,487.5 177.5,486 176.2,491.5 170.2,492" fill="#000" stroke="#000" stroke-width="0.9" />
<ellipse cx="173" cy="492.5" rx="3.7" ry="4.8" fill="#000" stroke="#000" stroke-width="0.7" transform="rotate(-10 173 492.5)"/>
<ellipse cx="172.7" cy="492.8" rx="1.7" ry="2.9" fill="#fff" stroke="none" stroke-width="1" transform="rotate(-10 172.7 492.8)"/>
<ellipse cx="173.3" cy="492.7" rx="0.9" ry="1.7" fill="#000" stroke="none" stroke-width="1" transform="rotate(-10 173.3 492.7)"/>
<polygon points="231.3,479 243.8,477 244.3,479.2 231.8,481.3" fill="#000" stroke="#000" stroke-width="0.9" />
<polygon points="233.3,480.5 241.8,479 240.5,484.5 234.5,485" fill="#000" stroke="#000" stroke-width="0.9" />
<ellipse cx="237.3" cy="485.5" rx="3.7" ry="4.8" fill="#000" stroke="#000" stroke-width="0.7" transform="rotate(-10 237.3 485.5)"/>
<ellipse cx="237" cy="485.8" rx="1.7" ry="2.9" fill="#fff" stroke="none" stroke-width="1" transform="rotate(-10 237 485.8)"/>
<ellipse cx="237.6" cy="485.7" rx="0.9" ry="1.7" fill="#000" stroke="none" stroke-width="1" transform="rotate(-10 237.6 485.7)"/>
<line x1="213.5" y1="509.5" x2="213.5" y2="516" stroke="#000" stroke-width="1.8"/>
<ellipse cx="213.5" cy="516" rx="1.9" ry="1.1" fill="#000" stroke="none" stroke-width="1"/>
<polygon points="204.3,503 216.8,501 217.3,503.2 204.8,505.3" fill="#000" stroke="#000" stroke-width="0.9" />
<polygon points="206.3,504.5 214.8,503 213.5,508.5 207.5,509" fill="#000" stroke="#000" stroke-width="0.9" />
<ellipse cx="210.3" cy="509.5" rx="3.7" ry="4.8" fill="#000" stroke="#000" stroke-width="0.7" transform="rotate(-10 210.3 509.5)"/>
<ellipse cx="210" cy="509.8" rx="1.7" ry="2.9" fill="#fff" stroke="none" stroke-width="1" transform="rotate(-10 210 509.8)"/>
<ellipse cx="210.6" cy="509.7" rx="0.9" ry="1.7" fill="#000" stroke="none" stroke-width="1" transform="rotate(-10 210.6 509.7)"/>
<line x1="278.6" y1="492.1" x2="278.6" y2="503.6" stroke="#000" stroke-width="1.8"/>
<ellipse cx="278.6" cy="503.6" rx="1.9" ry="1.1" fill="#000" stroke="none" stroke-width="1"/>
<polygon points="266.2,492.1 278.7,490.1 279.2,492.3 266.7,494.4" fill="#000" stroke="#000" stroke-width="0.9" />
<polygon points="268.2,493.6 276.7,492.1 275.4,497.6 269.4,498.1" fill="#000" stroke="#000" stroke-width="0.9" />
<ellipse cx="272.2" cy="498.6" rx="3.7" ry="4.8" fill="#000" stroke="#000" stroke-width="0.7" transform="rotate(-10 272.2 498.6)"/>
<ellipse cx="271.9" cy="498.9" rx="1.7" ry="2.9" fill="#fff" stroke="none" stroke-width="1" transform="rotate(-10 271.9 498.9)"/>
<ellipse cx="272.5" cy="498.8" rx="0.9" ry="1.7" fill="#000" stroke="none" stroke-width="1" transform="rotate(-10 272.5 498.8)"/>
<polygon points="93.1,269.4 122.8,281.5 127.5,458.7 95.6,445.6" fill="#fff" stroke="#000" stroke-width="1.9" />
<line x1="120.6" y1="280.6" x2="125.2" y2="457.8" stroke="#000" stroke-width="1.4"/>
<polygon points="94.3,301.5 96.3,302.3 96.3,305.3 94.3,304.5" fill="#000" stroke="#000" stroke-width="0.8" />
<polygon points="120.8,313 122.8,313.8 122.8,316.8 120.8,316" fill="#fff" stroke="#000" stroke-width="0.8" />
<polygon points="283.9,304.8 359.3,290.3 361.8,466.4 287.2,481.1" fill="#fff" stroke="#000" stroke-width="1.9" />
<line x1="292.1" y1="303.3" x2="294.6" y2="479.6" stroke="#000" stroke-width="1.4"/>
<line x1="352" y1="291.7" x2="355.6" y2="467.6" stroke="#000" stroke-width="1.4"/>
<line x1="355.2" y1="291.1" x2="358" y2="467.1" stroke="#000" stroke-width="1"/>
<circle cx="290.5" cy="392.6" r="1" fill="#000" stroke="#000" stroke-width="0.4"/>
</g>
<line x1="495.5" y1="851.2" x2="525.3" y2="902.5" stroke="#000" stroke-width="0.9"/>
<circle cx="490" cy="841.8" r="10.9" fill="#fff" stroke="#000" stroke-width="1"/>
<text x="490" y="846.6" font-size="13.4" text-anchor="middle" textLength="13.5" lengthAdjust="spacingAndGlyphs" fill="#000" >16</text>
<line x1="470.3" y1="864.6" x2="495.3" y2="878.1" stroke="#000" stroke-width="0.9"/>
<circle cx="460.7" cy="859.4" r="10.9" fill="#fff" stroke="#000" stroke-width="1"/>
<text x="460.7" y="864.2" font-size="13.4" text-anchor="middle" textLength="13.5" lengthAdjust="spacingAndGlyphs" fill="#000" >14</text>
<line x1="446.2" y1="967.1" x2="464.6" y2="967.1" stroke="#000" stroke-width="0.9"/>
<circle cx="435.3" cy="967.1" r="10.9" fill="#fff" stroke="#000" stroke-width="1"/>
<text x="435.3" y="971.9" font-size="13.4" text-anchor="middle" textLength="13.5" lengthAdjust="spacingAndGlyphs" fill="#000" >15</text>
<line x1="653.9" y1="1011.6" x2="626" y2="1000.7" stroke="#000" stroke-width="0.9"/>
<circle cx="664.1" cy="1015.5" r="10.9" fill="#fff" stroke="#000" stroke-width="1"/>
<text x="664.1" y="1020.3" font-size="13.4" text-anchor="middle" textLength="13.5" lengthAdjust="spacingAndGlyphs" fill="#000" >13</text>
<polygon points="296.2,874.4 333.3,889.6 334.3,1031.6 298,1017.5" fill="#fff" stroke="#000" stroke-width="1" />
<line x1="329.6" y1="888" x2="330.6" y2="1030.2" stroke="#000" stroke-width="1.6"/>
<line x1="331.8" y1="889" x2="332.8" y2="1031" stroke="#000" stroke-width="0.8"/>
<polygon points="197.5,869.8 204,872.5 205.7,1013.5 199.2,1010.8" fill="#fff" stroke="#000" stroke-width="1.2" />
<polygon points="197.5,869.8 258,857.1 264.5,859.8 204,872.5" fill="#fff" stroke="#000" stroke-width="1.2" />
<polygon points="255.4,860.1 261.9,862.8 263.6,999 257,996.2" fill="#fff" stroke="#000" stroke-width="1.2" />
<polygon points="201.8,1007.8 257,996.2 263.6,999 208.3,1010.6" fill="#fff" stroke="#000" stroke-width="1.2" />
<path d="M204,872.5 L264.5,859.8 L266.2,1000.8 L205.7,1013.5 Z M206.7,874.4 L261.9,862.8 L263.6,999 L208.3,1010.6 Z" fill="#fff" stroke="#000" stroke-width="1.2" fill-rule="evenodd"/>
<polygon points="249.5,868.1 251.9,867.6 253.5,999.4 251,1000" fill="#000" stroke="#000" stroke-width="0.9" />
<polygon points="257.2,866.5 259.7,866 261.3,997.8 258.8,998.3" fill="#fff" stroke="#000" stroke-width="0.9" />
<polygon points="259.7,866 261.3,865.6 262.9,997.5 261.3,997.8" fill="#000" stroke="#000" stroke-width="0.9" />
<polygon points="260.2,877.6 262.7,877 288.3,887.8 285.8,888.3" fill="#fff" stroke="#000" stroke-width="0.9" />
<polygon points="260.2,877.6 285.8,888.3 285.9,893.3 260.3,882.5" fill="#111" stroke="#000" stroke-width="0.9" />
<line x1="261.1" y1="880.4" x2="285" y2="890.4" stroke="#fff" stroke-width="1.5" stroke-dasharray="1.3 1.5"/>
<polygon points="260.8,922.5 263.2,922 288.8,932.8 286.4,933.3" fill="#fff" stroke="#000" stroke-width="0.9" />
<polygon points="260.8,922.5 286.4,933.3 286.4,938.2 260.8,927.5" fill="#111" stroke="#000" stroke-width="0.9" />
<line x1="261.6" y1="925.3" x2="285.6" y2="935.4" stroke="#fff" stroke-width="1.5" stroke-dasharray="1.3 1.5"/>
<polygon points="261.5,978.9 263.9,978.4 289.5,989.2 287,989.7" fill="#fff" stroke="#000" stroke-width="0.9" />
<polygon points="261.5,978.9 287,989.7 287.1,994.6 261.5,983.9" fill="#111" stroke="#000" stroke-width="0.9" />
<line x1="262.3" y1="981.7" x2="286.3" y2="991.8" stroke="#fff" stroke-width="1.5" stroke-dasharray="1.3 1.5"/>
<polygon points="212.3,875.9 214.7,875.4 216.3,1007.3 213.9,1007.8" fill="#fff" stroke="#000" stroke-width="0.9" />
<polygon points="214.7,875.4 218,874.7 219.6,1006.6 216.3,1007.3" fill="#000" stroke="#000" stroke-width="0.9" />
<polygon points="254.2,877.7 261,879.3 261,885.7 254.2,884.1" fill="#000" stroke="#000" stroke-width="0.5" />
<line x1="256.4" y1="880.1" x2="256.4" y2="883.1" stroke="#fff" stroke-width="0.8"/>
<line x1="258.4" y1="880.5" x2="258.4" y2="883.6" stroke="#fff" stroke-width="0.8"/>
<line x1="255.5" y1="881.4" x2="259.5" y2="882.1" stroke="#fff" stroke-width="0.6"/>
<polygon points="254.7,922.6 261.5,924.2 261.5,930.6 254.7,929" fill="#000" stroke="#000" stroke-width="0.5" />
<line x1="256.9" y1="925" x2="256.9" y2="928.1" stroke="#fff" stroke-width="0.8"/>
<line x1="259" y1="925.4" x2="259" y2="928.5" stroke="#fff" stroke-width="0.8"/>
<line x1="256" y1="926.4" x2="260" y2="927.1" stroke="#fff" stroke-width="0.6"/>
<polygon points="255.4,979 262.2,980.6 262.2,987 255.4,985.4" fill="#000" stroke="#000" stroke-width="0.5" />
<line x1="257.6" y1="981.4" x2="257.6" y2="984.5" stroke="#fff" stroke-width="0.8"/>
<line x1="259.7" y1="981.8" x2="259.7" y2="984.9" stroke="#fff" stroke-width="0.8"/>
<line x1="256.7" y1="982.8" x2="260.7" y2="983.5" stroke="#fff" stroke-width="0.6"/>
<polygon points="206.3,888.9 208.7,888.4 234.3,899.1 231.9,899.6" fill="#fff" stroke="#000" stroke-width="0.9" />
<polygon points="206.3,888.9 231.9,899.6 231.9,904.6 206.3,893.8" fill="#111" stroke="#000" stroke-width="0.9" />
<line x1="207.1" y1="891.7" x2="231.1" y2="901.8" stroke="#fff" stroke-width="1.5" stroke-dasharray="1.3 1.5"/>
<polygon points="206.8,933.9 209.3,933.3 234.9,944.1 232.4,944.6" fill="#fff" stroke="#000" stroke-width="0.9" />
<polygon points="206.8,933.9 232.4,944.6 232.5,949.6 206.9,938.8" fill="#111" stroke="#000" stroke-width="0.9" />
<line x1="207.7" y1="936.7" x2="231.6" y2="946.7" stroke="#fff" stroke-width="1.5" stroke-dasharray="1.3 1.5"/>
<polygon points="207.5,990.3 210,989.7 235.5,1000.5 233.1,1001" fill="#fff" stroke="#000" stroke-width="0.9" />
<polygon points="207.5,990.3 233.1,1001 233.1,1006 207.6,995.2" fill="#111" stroke="#000" stroke-width="0.9" />
<line x1="208.3" y1="993.1" x2="232.3" y2="1003.1" stroke="#fff" stroke-width="1.5" stroke-dasharray="1.3 1.5"/>
<polygon points="208.4,887.3 215.2,888.9 215.2,895.3 208.4,893.7" fill="#000" stroke="#000" stroke-width="0.5" />
<line x1="210.6" y1="889.7" x2="210.6" y2="892.7" stroke="#fff" stroke-width="0.8"/>
<line x1="212.7" y1="890.1" x2="212.7" y2="893.2" stroke="#fff" stroke-width="0.8"/>
<line x1="209.7" y1="891" x2="213.7" y2="891.8" stroke="#fff" stroke-width="0.6"/>
<polygon points="209,932.2 215.8,933.8 215.8,940.2 209,938.6" fill="#000" stroke="#000" stroke-width="0.5" />
<line x1="211.1" y1="934.6" x2="211.1" y2="937.7" stroke="#fff" stroke-width="0.8"/>
<line x1="213.2" y1="935" x2="213.2" y2="938.2" stroke="#fff" stroke-width="0.8"/>
<line x1="210.2" y1="936" x2="214.2" y2="936.7" stroke="#fff" stroke-width="0.6"/>
<polygon points="209.6,988.6 216.4,990.2 216.4,996.6 209.6,995" fill="#000" stroke="#000" stroke-width="0.5" />
<line x1="211.8" y1="991" x2="211.8" y2="994.1" stroke="#fff" stroke-width="0.8"/>
<line x1="213.9" y1="991.4" x2="213.9" y2="994.6" stroke="#fff" stroke-width="0.8"/>
<line x1="210.9" y1="992.4" x2="214.9" y2="993.1" stroke="#fff" stroke-width="0.6"/>
<polygon points="274.6,880.7 280,879.6 281.5,1011.5 276.2,1012.6" fill="#000" stroke="#000" stroke-width="0.9" />
<polygon points="280.2,879.6 285.7,878.4 287.3,1010.3 281.8,1011.4" fill="#fff" stroke="#000" stroke-width="0.9" />
<polygon points="285.8,878.4 287.7,878 289.3,1009.8 287.4,1010.2" fill="#000" stroke="#000" stroke-width="0.9" />
<polygon points="245.6,886.8 248.1,886.3 249.7,1018.2 247.2,1018.7" fill="#fff" stroke="#000" stroke-width="0.9" />
<polygon points="248.1,886.3 249.1,886.1 250.6,1018 249.7,1018.2" fill="#000" stroke="#000" stroke-width="0.9" />
<polygon points="253,885.3 255.4,884.8 257,1016.6 254.6,1017.1" fill="#fff" stroke="#000" stroke-width="0.9" />
<polygon points="215.6,943.7 245.8,937.4 275.2,949.7 245,956.1" fill="#fff" stroke="#000" stroke-width="0.9" />
<polygon points="215.6,943.7 245,956.1 245,957.8 215.6,945.4" fill="#fff" stroke="#000" stroke-width="0.9" />
<polygon points="245,956.1 275.2,949.7 275.3,951.4 245,957.8" fill="#fff" stroke="#000" stroke-width="0.9" />
<ellipse cx="222.8" cy="944.6" rx="1" ry="0.6" fill="#000" stroke="none" stroke-width="1" transform="rotate(-10 222.8 944.6)"/>
<ellipse cx="229" cy="946.1" rx="1" ry="0.6" fill="#000" stroke="none" stroke-width="1" transform="rotate(-10 229 946.1)"/>
<ellipse cx="231.5" cy="948.3" rx="1" ry="0.6" fill="#000" stroke="none" stroke-width="1" transform="rotate(-10 231.5 948.3)"/>
<ellipse cx="237.7" cy="949.7" rx="1" ry="0.6" fill="#000" stroke="none" stroke-width="1" transform="rotate(-10 237.7 949.7)"/>
<ellipse cx="240.2" cy="951.9" rx="1" ry="0.6" fill="#000" stroke="none" stroke-width="1" transform="rotate(-10 240.2 951.9)"/>
<ellipse cx="246.4" cy="953.4" rx="1" ry="0.6" fill="#000" stroke="none" stroke-width="1" transform="rotate(-10 246.4 953.4)"/>
<ellipse cx="226.4" cy="943.9" rx="1" ry="0.6" fill="#000" stroke="none" stroke-width="1" transform="rotate(-10 226.4 943.9)"/>
<ellipse cx="232.6" cy="945.3" rx="1" ry="0.6" fill="#000" stroke="none" stroke-width="1" transform="rotate(-10 232.6 945.3)"/>
<ellipse cx="235.1" cy="947.5" rx="1" ry="0.6" fill="#000" stroke="none" stroke-width="1" transform="rotate(-10 235.1 947.5)"/>
<ellipse cx="241.3" cy="949" rx="1" ry="0.6" fill="#000" stroke="none" stroke-width="1" transform="rotate(-10 241.3 949)"/>
<ellipse cx="243.8" cy="951.2" rx="1" ry="0.6" fill="#000" stroke="none" stroke-width="1" transform="rotate(-10 243.8 951.2)"/>
<ellipse cx="250" cy="952.6" rx="1" ry="0.6" fill="#000" stroke="none" stroke-width="1" transform="rotate(-10 250 952.6)"/>
<ellipse cx="230" cy="943.1" rx="1" ry="0.6" fill="#000" stroke="none" stroke-width="1" transform="rotate(-10 230 943.1)"/>
<ellipse cx="236.2" cy="944.6" rx="1" ry="0.6" fill="#000" stroke="none" stroke-width="1" transform="rotate(-10 236.2 944.6)"/>
<ellipse cx="238.7" cy="946.8" rx="1" ry="0.6" fill="#000" stroke="none" stroke-width="1" transform="rotate(-10 238.7 946.8)"/>
<ellipse cx="244.9" cy="948.2" rx="1" ry="0.6" fill="#000" stroke="none" stroke-width="1" transform="rotate(-10 244.9 948.2)"/>
<ellipse cx="247.4" cy="950.4" rx="1" ry="0.6" fill="#000" stroke="none" stroke-width="1" transform="rotate(-10 247.4 950.4)"/>
<ellipse cx="253.6" cy="951.9" rx="1" ry="0.6" fill="#000" stroke="none" stroke-width="1" transform="rotate(-10 253.6 951.9)"/>
<ellipse cx="233.6" cy="942.3" rx="1" ry="0.6" fill="#000" stroke="none" stroke-width="1" transform="rotate(-10 233.6 942.3)"/>
<ellipse cx="239.8" cy="943.8" rx="1" ry="0.6" fill="#000" stroke="none" stroke-width="1" transform="rotate(-10 239.8 943.8)"/>
<ellipse cx="242.3" cy="946" rx="1" ry="0.6" fill="#000" stroke="none" stroke-width="1" transform="rotate(-10 242.3 946)"/>
<ellipse cx="248.5" cy="947.5" rx="1" ry="0.6" fill="#000" stroke="none" stroke-width="1" transform="rotate(-10 248.5 947.5)"/>
<ellipse cx="251" cy="949.7" rx="1" ry="0.6" fill="#000" stroke="none" stroke-width="1" transform="rotate(-10 251 949.7)"/>
<ellipse cx="257.2" cy="951.1" rx="1" ry="0.6" fill="#000" stroke="none" stroke-width="1" transform="rotate(-10 257.2 951.1)"/>
<ellipse cx="237.2" cy="941.6" rx="1" ry="0.6" fill="#000" stroke="none" stroke-width="1" transform="rotate(-10 237.2 941.6)"/>
<ellipse cx="243.3" cy="943" rx="1" ry="0.6" fill="#000" stroke="none" stroke-width="1" transform="rotate(-10 243.3 943)"/>
<ellipse cx="245.9" cy="945.3" rx="1" ry="0.6" fill="#000" stroke="none" stroke-width="1" transform="rotate(-10 245.9 945.3)"/>
<ellipse cx="252.1" cy="946.7" rx="1" ry="0.6" fill="#000" stroke="none" stroke-width="1" transform="rotate(-10 252.1 946.7)"/>
<ellipse cx="254.6" cy="948.9" rx="1" ry="0.6" fill="#000" stroke="none" stroke-width="1" transform="rotate(-10 254.6 948.9)"/>
<ellipse cx="260.8" cy="950.4" rx="1" ry="0.6" fill="#000" stroke="none" stroke-width="1" transform="rotate(-10 260.8 950.4)"/>
<ellipse cx="240.8" cy="940.8" rx="1" ry="0.6" fill="#000" stroke="none" stroke-width="1" transform="rotate(-10 240.8 940.8)"/>
<ellipse cx="246.9" cy="942.3" rx="1" ry="0.6" fill="#000" stroke="none" stroke-width="1" transform="rotate(-10 246.9 942.3)"/>
<ellipse cx="249.5" cy="944.5" rx="1" ry="0.6" fill="#000" stroke="none" stroke-width="1" transform="rotate(-10 249.5 944.5)"/>
<ellipse cx="255.7" cy="945.9" rx="1" ry="0.6" fill="#000" stroke="none" stroke-width="1" transform="rotate(-10 255.7 945.9)"/>
<ellipse cx="258.2" cy="948.2" rx="1" ry="0.6" fill="#000" stroke="none" stroke-width="1" transform="rotate(-10 258.2 948.2)"/>
<ellipse cx="264.4" cy="949.6" rx="1" ry="0.6" fill="#000" stroke="none" stroke-width="1" transform="rotate(-10 264.4 949.6)"/>
<ellipse cx="244.4" cy="940.1" rx="1" ry="0.6" fill="#000" stroke="none" stroke-width="1" transform="rotate(-10 244.4 940.1)"/>
<ellipse cx="250.5" cy="941.5" rx="1" ry="0.6" fill="#000" stroke="none" stroke-width="1" transform="rotate(-10 250.5 941.5)"/>
<ellipse cx="253.1" cy="943.7" rx="1" ry="0.6" fill="#000" stroke="none" stroke-width="1" transform="rotate(-10 253.1 943.7)"/>
<ellipse cx="259.3" cy="945.2" rx="1" ry="0.6" fill="#000" stroke="none" stroke-width="1" transform="rotate(-10 259.3 945.2)"/>
<ellipse cx="261.8" cy="947.4" rx="1" ry="0.6" fill="#000" stroke="none" stroke-width="1" transform="rotate(-10 261.8 947.4)"/>
<ellipse cx="268" cy="948.9" rx="1" ry="0.6" fill="#000" stroke="none" stroke-width="1" transform="rotate(-10 268 948.9)"/>
<polygon points="215.9,976.5 246.2,970.1 275.6,982.5 245.4,988.9" fill="#fff" stroke="#000" stroke-width="0.9" />
<polygon points="215.9,976.5 245.4,988.9 245.4,990.5 216,978.2" fill="#fff" stroke="#000" stroke-width="0.9" />
<polygon points="245.4,988.9 275.6,982.5 275.6,984.2 245.4,990.5" fill="#fff" stroke="#000" stroke-width="0.9" />
<ellipse cx="223.2" cy="977.4" rx="1" ry="0.6" fill="#000" stroke="none" stroke-width="1" transform="rotate(-10 223.2 977.4)"/>
<ellipse cx="229.4" cy="978.8" rx="1" ry="0.6" fill="#000" stroke="none" stroke-width="1" transform="rotate(-10 229.4 978.8)"/>
<ellipse cx="231.9" cy="981" rx="1" ry="0.6" fill="#000" stroke="none" stroke-width="1" transform="rotate(-10 231.9 981)"/>
<ellipse cx="238.1" cy="982.5" rx="1" ry="0.6" fill="#000" stroke="none" stroke-width="1" transform="rotate(-10 238.1 982.5)"/>
<ellipse cx="240.6" cy="984.7" rx="1" ry="0.6" fill="#000" stroke="none" stroke-width="1" transform="rotate(-10 240.6 984.7)"/>
<ellipse cx="246.8" cy="986.2" rx="1" ry="0.6" fill="#000" stroke="none" stroke-width="1" transform="rotate(-10 246.8 986.2)"/>
<ellipse cx="226.8" cy="976.6" rx="1" ry="0.6" fill="#000" stroke="none" stroke-width="1" transform="rotate(-10 226.8 976.6)"/>
<ellipse cx="233" cy="978.1" rx="1" ry="0.6" fill="#000" stroke="none" stroke-width="1" transform="rotate(-10 233 978.1)"/>
<ellipse cx="235.5" cy="980.3" rx="1" ry="0.6" fill="#000" stroke="none" stroke-width="1" transform="rotate(-10 235.5 980.3)"/>
<ellipse cx="241.7" cy="981.7" rx="1" ry="0.6" fill="#000" stroke="none" stroke-width="1" transform="rotate(-10 241.7 981.7)"/>
<ellipse cx="244.2" cy="984" rx="1" ry="0.6" fill="#000" stroke="none" stroke-width="1" transform="rotate(-10 244.2 984)"/>
<ellipse cx="250.4" cy="985.4" rx="1" ry="0.6" fill="#000" stroke="none" stroke-width="1" transform="rotate(-10 250.4 985.4)"/>
<ellipse cx="230.4" cy="975.9" rx="1" ry="0.6" fill="#000" stroke="none" stroke-width="1" transform="rotate(-10 230.4 975.9)"/>
<ellipse cx="236.5" cy="977.3" rx="1" ry="0.6" fill="#000" stroke="none" stroke-width="1" transform="rotate(-10 236.5 977.3)"/>
<ellipse cx="239.1" cy="979.5" rx="1" ry="0.6" fill="#000" stroke="none" stroke-width="1" transform="rotate(-10 239.1 979.5)"/>
<ellipse cx="245.3" cy="981" rx="1" ry="0.6" fill="#000" stroke="none" stroke-width="1" transform="rotate(-10 245.3 981)"/>
<ellipse cx="247.8" cy="983.2" rx="1" ry="0.6" fill="#000" stroke="none" stroke-width="1" transform="rotate(-10 247.8 983.2)"/>
<ellipse cx="254" cy="984.7" rx="1" ry="0.6" fill="#000" stroke="none" stroke-width="1" transform="rotate(-10 254 984.7)"/>
<ellipse cx="234" cy="975.1" rx="1" ry="0.6" fill="#000" stroke="none" stroke-width="1" transform="rotate(-10 234 975.1)"/>
<ellipse cx="240.1" cy="976.6" rx="1" ry="0.6" fill="#000" stroke="none" stroke-width="1" transform="rotate(-10 240.1 976.6)"/>
<ellipse cx="242.7" cy="978.8" rx="1" ry="0.6" fill="#000" stroke="none" stroke-width="1" transform="rotate(-10 242.7 978.8)"/>
<ellipse cx="248.9" cy="980.2" rx="1" ry="0.6" fill="#000" stroke="none" stroke-width="1" transform="rotate(-10 248.9 980.2)"/>
<ellipse cx="251.4" cy="982.4" rx="1" ry="0.6" fill="#000" stroke="none" stroke-width="1" transform="rotate(-10 251.4 982.4)"/>
<ellipse cx="257.6" cy="983.9" rx="1" ry="0.6" fill="#000" stroke="none" stroke-width="1" transform="rotate(-10 257.6 983.9)"/>
<ellipse cx="237.6" cy="974.4" rx="1" ry="0.6" fill="#000" stroke="none" stroke-width="1" transform="rotate(-10 237.6 974.4)"/>
<ellipse cx="243.7" cy="975.8" rx="1" ry="0.6" fill="#000" stroke="none" stroke-width="1" transform="rotate(-10 243.7 975.8)"/>
<ellipse cx="246.3" cy="978" rx="1" ry="0.6" fill="#000" stroke="none" stroke-width="1" transform="rotate(-10 246.3 978)"/>
<ellipse cx="252.5" cy="979.5" rx="1" ry="0.6" fill="#000" stroke="none" stroke-width="1" transform="rotate(-10 252.5 979.5)"/>
<ellipse cx="255" cy="981.7" rx="1" ry="0.6" fill="#000" stroke="none" stroke-width="1" transform="rotate(-10 255 981.7)"/>
<ellipse cx="261.2" cy="983.1" rx="1" ry="0.6" fill="#000" stroke="none" stroke-width="1" transform="rotate(-10 261.2 983.1)"/>
<ellipse cx="241.2" cy="973.6" rx="1" ry="0.6" fill="#000" stroke="none" stroke-width="1" transform="rotate(-10 241.2 973.6)"/>
<ellipse cx="247.3" cy="975.1" rx="1" ry="0.6" fill="#000" stroke="none" stroke-width="1" transform="rotate(-10 247.3 975.1)"/>
<ellipse cx="249.9" cy="977.3" rx="1" ry="0.6" fill="#000" stroke="none" stroke-width="1" transform="rotate(-10 249.9 977.3)"/>
<ellipse cx="256.1" cy="978.7" rx="1" ry="0.6" fill="#000" stroke="none" stroke-width="1" transform="rotate(-10 256.1 978.7)"/>
<ellipse cx="258.6" cy="980.9" rx="1" ry="0.6" fill="#000" stroke="none" stroke-width="1" transform="rotate(-10 258.6 980.9)"/>
<ellipse cx="264.8" cy="982.4" rx="1" ry="0.6" fill="#000" stroke="none" stroke-width="1" transform="rotate(-10 264.8 982.4)"/>
<ellipse cx="244.8" cy="972.9" rx="1" ry="0.6" fill="#000" stroke="none" stroke-width="1" transform="rotate(-10 244.8 972.9)"/>
<ellipse cx="250.9" cy="974.3" rx="1" ry="0.6" fill="#000" stroke="none" stroke-width="1" transform="rotate(-10 250.9 974.3)"/>
<ellipse cx="253.5" cy="976.5" rx="1" ry="0.6" fill="#000" stroke="none" stroke-width="1" transform="rotate(-10 253.5 976.5)"/>
<ellipse cx="259.7" cy="978" rx="1" ry="0.6" fill="#000" stroke="none" stroke-width="1" transform="rotate(-10 259.7 978)"/>
<ellipse cx="262.2" cy="980.2" rx="1" ry="0.6" fill="#000" stroke="none" stroke-width="1" transform="rotate(-10 262.2 980.2)"/>
<ellipse cx="268.4" cy="981.6" rx="1" ry="0.6" fill="#000" stroke="none" stroke-width="1" transform="rotate(-10 268.4 981.6)"/>
<polygon points="236.2,888.8 239.9,888 241.5,1019.9 237.8,1020.7" fill="#fff" stroke="#000" stroke-width="0.9" />
<polygon points="239.9,888 241.5,887.7 243.1,1019.5 241.5,1019.9" fill="#000" stroke="#000" stroke-width="0.9" />
<polygon points="241.9,887.6 245.2,886.9 246.8,1018.8 243.5,1019.5" fill="#fff" stroke="#000" stroke-width="0.9" />
<polygon points="280.6,889.5 287.4,891.1 287.4,897.5 280.6,895.9" fill="#000" stroke="#000" stroke-width="0.5" />
<line x1="282.8" y1="891.9" x2="282.8" y2="895" stroke="#fff" stroke-width="0.8"/>
<line x1="284.9" y1="892.3" x2="284.9" y2="895.4" stroke="#fff" stroke-width="0.8"/>
<line x1="281.9" y1="893.3" x2="285.9" y2="894" stroke="#fff" stroke-width="0.6"/>
<polygon points="236.5,898.8 243.3,900.4 243.3,906.8 236.5,905.2" fill="#000" stroke="#000" stroke-width="0.5" />
<line x1="238.6" y1="901.2" x2="238.6" y2="904.2" stroke="#fff" stroke-width="0.8"/>
<line x1="240.7" y1="901.6" x2="240.7" y2="904.7" stroke="#fff" stroke-width="0.8"/>
<line x1="237.7" y1="902.6" x2="241.7" y2="903.3" stroke="#fff" stroke-width="0.6"/>
<polygon points="281.2,934.5 288,936.1 288,942.5 281.2,940.9" fill="#000" stroke="#000" stroke-width="0.5" />
<line x1="283.3" y1="936.9" x2="283.3" y2="939.9" stroke="#fff" stroke-width="0.8"/>
<line x1="285.4" y1="937.3" x2="285.4" y2="940.4" stroke="#fff" stroke-width="0.8"/>
<line x1="282.4" y1="938.3" x2="286.4" y2="939" stroke="#fff" stroke-width="0.6"/>
<polygon points="237,943.8 243.8,945.4 243.8,951.8 237,950.2" fill="#000" stroke="#000" stroke-width="0.5" />
<line x1="239.2" y1="946.2" x2="239.2" y2="949.2" stroke="#fff" stroke-width="0.8"/>
<line x1="241.2" y1="946.6" x2="241.2" y2="949.7" stroke="#fff" stroke-width="0.8"/>
<line x1="238.3" y1="947.5" x2="242.3" y2="948.2" stroke="#fff" stroke-width="0.6"/>
<polygon points="281.8,990.9 288.6,992.5 288.6,998.9 281.8,997.3" fill="#000" stroke="#000" stroke-width="0.5" />
<line x1="284" y1="993.3" x2="284" y2="996.3" stroke="#fff" stroke-width="0.8"/>
<line x1="286.1" y1="993.7" x2="286.1" y2="996.8" stroke="#fff" stroke-width="0.8"/>
<line x1="283.1" y1="994.7" x2="287.1" y2="995.4" stroke="#fff" stroke-width="0.6"/>
<polygon points="237.7,1000.2 244.5,1001.8 244.5,1008.2 237.7,1006.6" fill="#000" stroke="#000" stroke-width="0.5" />
<line x1="239.8" y1="1002.6" x2="239.8" y2="1005.6" stroke="#fff" stroke-width="0.8"/>
<line x1="241.9" y1="1003" x2="241.9" y2="1006.1" stroke="#fff" stroke-width="0.8"/>
<line x1="239" y1="1003.9" x2="243" y2="1004.6" stroke="#fff" stroke-width="0.6"/>
<polygon points="229.6,883.3 234.5,885.4 236.2,1026.4 231.3,1024.3" fill="#fff" stroke="#000" stroke-width="1.2" />
<polygon points="229.6,883.3 290.1,870.6 295,872.6 234.5,885.4" fill="#fff" stroke="#000" stroke-width="1.2" />
<polygon points="287.5,873.6 292.4,875.6 294.1,1011.8 289.2,1009.7" fill="#fff" stroke="#000" stroke-width="1.2" />
<polygon points="233.9,1021.3 289.2,1009.7 294.1,1011.8 238.8,1023.4" fill="#fff" stroke="#000" stroke-width="1.2" />
<path d="M234.5,885.4 L295,872.6 L296.7,1013.6 L236.2,1026.4 Z M237.2,887.2 L292.4,875.6 L294.1,1011.8 L238.8,1023.4 Z" fill="#fff" stroke="#000" stroke-width="1.2" fill-rule="evenodd"/>
<polygon points="197.5,869.8 234.5,885.4 236.2,1026.4 199.2,1010.8" fill="#fff" stroke="#000" stroke-width="1.1" />
<line x1="200.8" y1="873.5" x2="202.5" y2="1011.4" stroke="#000" stroke-width="0.9"/>
<line x1="204.1" y1="877.1" x2="205.7" y2="1012" stroke="#000" stroke-width="0.9"/>
<line x1="229.6" y1="898.4" x2="231.1" y2="1023.4" stroke="#000" stroke-width="0.9"/>
<line x1="232" y1="899.5" x2="233.5" y2="1024.5" stroke="#000" stroke-width="0.9"/>
<polygon points="205.4,898.8 207.4,899.4 207.4,902.8 205.4,902.2" fill="#000" stroke="#000" stroke-width="0.5" />
<polygon points="227.1,907.9 229.1,908.5 229.1,911.9 227.1,911.3" fill="#000" stroke="#000" stroke-width="0.5" />
<polygon points="199.2,1010.8 236.2,1026.4 236.3,1028.6 199.2,1013.1" fill="#000" stroke="#000" stroke-width="0.9" />
<polygon points="236.2,1026.4 296.7,1013.6 296.7,1015.9 236.3,1028.6" fill="#000" stroke="#000" stroke-width="0.9" />
<ellipse cx="207.2" cy="1021.5" rx="2.9" ry="2.9" fill="#000" stroke="none" stroke-width="1"/>
<ellipse cx="207.2" cy="1018.5" rx="3.6" ry="1.3" fill="#000" stroke="none" stroke-width="1"/>
<ellipse cx="237.5" cy="1033.4" rx="2.9" ry="2.9" fill="#000" stroke="none" stroke-width="1"/>
<ellipse cx="237.5" cy="1030.4" rx="3.6" ry="1.3" fill="#000" stroke="none" stroke-width="1"/>
<ellipse cx="288.9" cy="1023.6" rx="2.9" ry="2.9" fill="#000" stroke="none" stroke-width="1"/>
<ellipse cx="288.9" cy="1020.6" rx="3.6" ry="1.3" fill="#000" stroke="none" stroke-width="1"/>
<polygon points="197.5,866.8 234.4,882.3 234.4,885.3 197.5,869.8" fill="#fff" stroke="#000" stroke-width="1" />
<line x1="205.6" y1="871.7" x2="230.7" y2="882.2" stroke="#000" stroke-width="1.7"/>
<polygon points="234.4,882.3 295,871.2 295,874.2 234.4,885.3" fill="#000" stroke="#000" stroke-width="1" />
<polygon points="197.5,866.8 258,854.1 295,871.2 234.4,882.3" fill="#fff" stroke="#000" stroke-width="1" />
<polyline points="200.2,867.2 258.3,855 291.2,870.2" fill="none" stroke="#000" stroke-width="0.6" />
<ellipse cx="232.7" cy="867.9" rx="5.4" ry="2.1" fill="#000" stroke="none" stroke-width="1" transform="rotate(-8 232.7 867.9)"/>
<ellipse cx="248.7" cy="864.7" rx="5.4" ry="2.1" fill="#000" stroke="none" stroke-width="1" transform="rotate(-8 248.7 864.7)"/>
<ellipse cx="243" cy="872.4" rx="5.4" ry="2.1" fill="#000" stroke="none" stroke-width="1" transform="rotate(-8 243 872.4)"/>
<ellipse cx="259" cy="869.3" rx="5.4" ry="2.1" fill="#000" stroke="none" stroke-width="1" transform="rotate(-8 259 869.3)"/>
<polygon points="216.9,863.9 242.9,858.5 244.8,859.3 218.7,864.7" fill="#000" stroke="#000" stroke-width="0.6" />
<polygon points="246.4,876.7 270.7,872.2 272.5,873 248.3,877.5" fill="#fff" stroke="#000" stroke-width="0.7" />
</svg>
</body></html>
